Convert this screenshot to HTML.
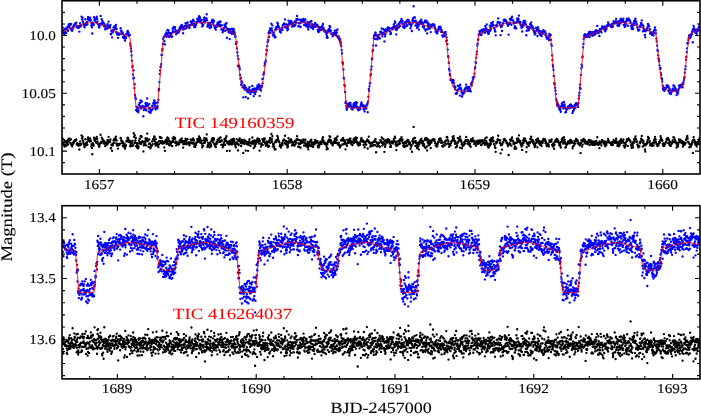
<!DOCTYPE html>
<html><head><meta charset="utf-8"><style>
html,body{margin:0;padding:0;background:#fff;overflow:hidden;width:701px;height:417px}
svg{display:block;will-change:transform}
text{font-family:"Liberation Serif",serif;text-rendering:geometricPrecision}
</style></head><body>
<svg width="701" height="417" viewBox="0 0 701 417">
<defs><clipPath id="c1"><rect x="62.0" y="0.75" width="638.0" height="173.25"/></clipPath>
<clipPath id="c2"><rect x="62.0" y="205.7" width="638.0" height="173.2"/></clipPath></defs>
<g clip-path="url(#c1)" fill="none" stroke-linecap="round">
<path stroke="#00f" stroke-width="2.35" d="M61 34.3h0M61.3 33.9h0M61.7 30.7h0M62 32.5h0M62.4 32.5h0M62.7 27.4h0M63.1 30.4h0M63.4 32.7h0M63.8 33.1h0M64.1 30.1h0M64.5 34.5h0M64.8 28.8h0M65.2 32.6h0M65.5 31.8h0M65.9 28.7h0M66.2 32.9h0M66.6 28h0M66.9 28.9h0M67.3 29.5h0M67.6 26.6h0M68 30.7h0M68.3 26.7h0M68.7 24.5h0M69 27.1h0M69.3 26.2h0M69.7 23.9h0M70 25.1h0M70.4 28.3h0M70.7 28.6h0M71.1 24.1h0M71.4 29.8h0M71.8 30.1h0M72.1 30.7h0M72.5 29.4h0M72.8 26.8h0M73.2 27.8h0M73.5 26.1h0M73.9 26.3h0M74.2 24.8h0M74.6 24.7h0M74.9 23.6h0M75.3 24.2h0M75.6 24.1h0M76 23.1h0M76.3 22.6h0M76.7 27.2h0M77 26.3h0M77.3 26h0M77.7 27.6h0M78 27.4h0M78.4 26.2h0M78.7 27.9h0M79.1 27.2h0M79.4 31.6h0M79.8 26h0M80.1 23.2h0M80.5 26.6h0M80.8 25.9h0M81.2 25.4h0M81.5 16.6h0M81.9 19.4h0M82.2 19.3h0M82.6 17.6h0M82.9 21.3h0M83.3 22.8h0M83.6 24.3h0M84 24.6h0M84.3 26.3h0M84.6 27.3h0M85 25.1h0M85.3 19.2h0M85.7 24.2h0M86 23.1h0M86.4 24.8h0M86.7 22.5h0M87.1 21.8h0M87.4 24.3h0M87.8 19h0M88.1 16.9h0M88.5 19.6h0M88.8 20.1h0M89.2 18.6h0M89.5 20h0M89.9 20.8h0M90.2 17.7h0M90.6 19.8h0M90.9 20.1h0M91.3 25.6h0M91.6 23.4h0M92 27.2h0M92.3 33.5h0M92.6 22.5h0M93 24.3h0M93.3 23.6h0M93.7 25h0M94 17.2h0M94.4 19.6h0M94.7 20.5h0M95.1 18.8h0M95.4 19.1h0M95.8 18.3h0M96.1 22.2h0M96.5 22.6h0M96.8 16.7h0M97.2 18.8h0M97.5 21.3h0M97.9 23.8h0M98.2 24.5h0M98.6 24.4h0M98.9 26.9h0M99.3 27.4h0M99.6 25.5h0M100 24.1h0M100.3 24h0M100.6 15.9h0M101 24.4h0M101.3 23.3h0M101.7 19.2h0M102 23.9h0M102.4 21h0M102.7 23.3h0M103.1 22.4h0M103.4 23h0M103.8 26h0M104.1 23.7h0M104.5 26.3h0M104.8 25.2h0M105.2 29.3h0M105.5 28.1h0M105.9 27.9h0M106.2 27.1h0M106.6 28.8h0M106.9 27.3h0M107.3 25.4h0M107.6 24.1h0M108 28h0M108.3 27h0M108.6 21.6h0M109 26.6h0M109.3 25.8h0M109.7 26.2h0M110 27.5h0M110.4 25h0M110.7 34h0M111.1 34.2h0M111.4 31h0M111.8 31.5h0M112.1 37.3h0M112.5 30.2h0M112.8 32.3h0M113.2 30.5h0M113.5 27.5h0M113.9 30.2h0M114.2 26.8h0M114.6 26.3h0M114.9 26.5h0M115.3 28.5h0M115.6 26.7h0M115.9 24.9h0M116.3 32h0M116.6 29h0M117 34.2h0M117.3 32.9h0M117.7 34.5h0M118 37.8h0M118.4 34.6h0M118.7 33.7h0M119.1 34.1h0M119.4 34.6h0M119.8 33.9h0M120.1 33.7h0M120.5 28.3h0M120.8 28.3h0M121.2 30.9h0M121.5 31h0M121.9 32.3h0M122.2 33.9h0M122.6 32.4h0M122.9 37h0M123.3 34.1h0M123.6 38.1h0M123.9 35.5h0M124.3 36.7h0M124.6 35.8h0M125 40.6h0M125.3 38.5h0M125.7 37.4h0M126 38h0M126.4 34h0M126.7 33.4h0M127.1 34.4h0M127.4 31.3h0M127.8 31h0M128.1 34.1h0M128.5 32.7h0M128.8 35.8h0M129.2 35.1h0M129.5 35.1h0M129.9 35h0M130.2 43.6h0M130.6 45.7h0M130.9 48.4h0M131.3 51.2h0M131.6 55.5h0M131.9 60.6h0M132.3 67.1h0M132.6 65.8h0M133 74.6h0M133.3 78.4h0M133.7 70.3h0M134 77.9h0M134.4 88.1h0M134.7 84.2h0M135.1 95h0M135.4 97.4h0M135.8 98.9h0M136.1 109.9h0M136.5 106.8h0M136.8 111.1h0M137.2 109h0M137.5 107.4h0M137.9 111.2h0M138.2 112.2h0M138.6 110.5h0M138.9 104.7h0M139.3 107.4h0M139.6 102.8h0M139.9 103.2h0M140.3 106.5h0M140.6 100.5h0M141 108.4h0M141.3 100.6h0M141.7 101.7h0M142 106.8h0M142.4 105.8h0M142.7 107h0M143.1 106.4h0M143.4 116.2h0M143.8 110.1h0M144.1 109.7h0M144.5 108.1h0M144.8 106.3h0M145.2 108.5h0M145.5 103.2h0M145.9 105.3h0M146.2 110.2h0M146.6 106.1h0M146.9 103.2h0M147.2 98.4h0M147.6 104.8h0M147.9 105.8h0M148.3 104.7h0M148.6 111.5h0M149 108.5h0M149.3 104.1h0M149.7 108h0M150 108.2h0M150.4 112.9h0M150.7 112h0M151.1 109.9h0M151.4 110.3h0M151.8 110.2h0M152.1 105.9h0M152.5 105.9h0M152.8 108.6h0M153.2 103.4h0M153.5 102.9h0M153.9 103.6h0M154.2 100.5h0M154.6 101h0M154.9 105.5h0M155.2 107.8h0M155.6 109.4h0M155.9 103h0M156.3 108.2h0M156.6 106.4h0M157 107.5h0M157.3 108.2h0M157.7 106.4h0M158 102.3h0M158.4 99.8h0M158.7 90.4h0M159.1 88.9h0M159.4 82.1h0M159.8 73.8h0M160.1 70.5h0M160.5 66.9h0M160.8 66.3h0M161.2 64.1h0M161.5 54.9h0M161.9 54.9h0M162.2 50.2h0M162.6 48.8h0M162.9 44h0M163.2 38.9h0M163.6 37.2h0M163.9 37.2h0M164.3 41.2h0M164.6 36.2h0M165 44.4h0M165.3 34.4h0M165.7 33.8h0M166 34.7h0M166.4 32.3h0M166.7 36.8h0M167.1 35.1h0M167.4 29.9h0M167.8 33.3h0M168.1 35.6h0M168.5 30.5h0M168.8 32.7h0M169.2 37.1h0M169.5 32.9h0M169.9 36.3h0M170.2 35h0M170.6 35.5h0M170.9 32.8h0M171.2 34.4h0M171.6 33h0M171.9 36.7h0M172.3 36.6h0M172.6 28.7h0M173 30.9h0M173.3 31.8h0M173.7 26.8h0M174 27.8h0M174.4 28.1h0M174.7 28.6h0M175.1 27.2h0M175.4 32h0M175.8 30.5h0M176.1 34.3h0M176.5 31.8h0M176.8 31.3h0M177.2 32.9h0M177.5 32.6h0M177.9 30.6h0M178.2 31.8h0M178.5 32.5h0M178.9 30h0M179.2 31.2h0M179.6 27.6h0M179.9 29.4h0M180.3 27.3h0M180.6 26.6h0M181 28.1h0M181.3 25.4h0M181.7 24.8h0M182 28.3h0M182.4 28.2h0M182.7 26.6h0M183.1 33.2h0M183.4 29.6h0M183.8 27h0M184.1 29.1h0M184.5 28.6h0M184.8 26h0M185.2 25.6h0M185.5 23.1h0M185.9 25.4h0M186.2 28.4h0M186.5 26.6h0M186.9 26.4h0M187.2 23.2h0M187.6 22.5h0M187.9 26.8h0M188.3 26h0M188.6 25.4h0M189 25.4h0M189.3 28h0M189.7 27.3h0M190 24.8h0M190.4 25.1h0M190.7 21.4h0M191.1 22.1h0M191.4 24.5h0M191.8 21.7h0M192.1 21.3h0M192.5 24.9h0M192.8 23.9h0M193.2 19.6h0M193.5 20.8h0M193.9 21.2h0M194.2 27.1h0M194.5 24.7h0M194.9 23.7h0M195.2 27.1h0M195.6 25.3h0M195.9 25h0M196.3 23.4h0M196.6 22h0M197 22.1h0M197.3 19h0M197.7 20.8h0M198 19.9h0M198.4 18.4h0M198.7 19h0M199.1 16.2h0M199.4 21.5h0M199.8 19.1h0M200.1 17.4h0M200.5 21.9h0M200.8 22.2h0M201.2 20.8h0M201.5 19.8h0M201.9 22.9h0M202.2 26.4h0M202.5 24.8h0M202.9 25.3h0M203.2 24.9h0M203.6 19.6h0M203.9 22.2h0M204.3 17.4h0M204.6 22.4h0M205 20.5h0M205.3 21.1h0M205.7 19h0M206 19h0M206.4 18.2h0M206.7 14.2h0M207.1 20.1h0M207.4 26.6h0M207.8 24.9h0M208.1 22.8h0M208.5 24.7h0M208.8 25.5h0M209.2 23.8h0M209.5 27.8h0M209.8 25.4h0M210.2 23.2h0M210.5 24.5h0M210.9 25.3h0M211.2 27.2h0M211.6 21.9h0M211.9 20.6h0M212.3 22.1h0M212.6 19.6h0M213 19.8h0M213.3 24.2h0M213.7 21.8h0M214 20.8h0M214.4 26.2h0M214.7 26.9h0M215.1 28.6h0M215.4 26.7h0M215.8 29.6h0M216.1 27.1h0M216.5 25.1h0M216.8 26.3h0M217.2 26.5h0M217.5 23h0M217.8 24.1h0M218.2 24.3h0M218.5 22.4h0M218.9 23.2h0M219.2 25.5h0M219.6 21.7h0M219.9 24.6h0M220.3 25.9h0M220.6 21.7h0M221 25.3h0M221.3 29.3h0M221.7 29.3h0M222 25.3h0M222.4 29.9h0M222.7 32.3h0M223.1 31.1h0M223.4 30.4h0M223.8 28.1h0M224.1 27.8h0M224.5 24.7h0M224.8 26.5h0M225.2 30.7h0M225.5 25.9h0M225.8 24.1h0M226.2 27.4h0M226.5 22.9h0M226.9 37.7h0M227.2 29.9h0M227.6 29h0M227.9 29.7h0M228.3 30.5h0M228.6 32.1h0M229 32.3h0M229.3 29.2h0M229.7 39.1h0M230 31.2h0M230.4 29.3h0M230.7 32.8h0M231.1 31.9h0M231.4 28.8h0M231.8 33.7h0M232.1 31.8h0M232.5 29h0M232.8 30.6h0M233.2 33.5h0M233.5 29h0M233.8 29.2h0M234.2 31.4h0M234.5 32.6h0M234.9 34.5h0M235.2 36.8h0M235.6 36.5h0M235.9 43.8h0M236.3 43.6h0M236.6 41.9h0M237 48.4h0M237.3 52.4h0M237.7 55.8h0M238 65.7h0M238.4 58.9h0M238.7 66.6h0M239.1 65.6h0M239.4 66.9h0M239.8 69.2h0M240.1 75h0M240.5 79.1h0M240.8 78h0M241.1 84.7h0M241.5 82.2h0M241.8 81.3h0M242.2 82.8h0M242.5 87.2h0M242.9 86.6h0M243.2 97.3h0M243.6 85.4h0M243.9 87.8h0M244.3 85.2h0M244.6 89.6h0M245 86.5h0M245.3 86.9h0M245.7 97h0M246 87.9h0M246.4 89.8h0M246.7 89.2h0M247.1 91.6h0M247.4 91h0M247.8 90.2h0M248.1 98.4h0M248.5 92.4h0M248.8 89.2h0M249.1 90.4h0M249.5 87.2h0M249.8 90.3h0M250.2 91.2h0M250.5 94h0M250.9 90.8h0M251.2 91h0M251.6 91.9h0M251.9 90.8h0M252.3 85.9h0M252.6 89.2h0M253 91.3h0M253.3 91.7h0M253.7 96.1h0M254 90.1h0M254.4 88.3h0M254.7 93.3h0M255.1 94h0M255.4 90.2h0M255.8 91.7h0M256.1 88.8h0M256.5 88.8h0M256.8 87.3h0M257.1 89.4h0M257.5 85.3h0M257.8 87h0M258.2 88.4h0M258.5 86.7h0M258.9 84.5h0M259.2 89h0M259.6 95.8h0M259.9 85.6h0M260.3 88.1h0M260.6 88h0M261 90.5h0M261.3 87.2h0M261.7 86.9h0M262 86h0M262.4 79h0M262.7 83.3h0M263.1 78.6h0M263.4 74.5h0M263.8 73.9h0M264.1 72.3h0M264.5 65.6h0M264.8 63h0M265.1 64.1h0M265.5 62h0M265.8 60.4h0M266.2 54.3h0M266.5 50h0M266.9 50.5h0M267.2 46.1h0M267.6 41.9h0M267.9 41.5h0M268.3 39.8h0M268.6 32.8h0M269 36.9h0M269.3 31.2h0M269.7 30.6h0M270 28.3h0M270.4 32.9h0M270.7 29.5h0M271.1 29.4h0M271.4 23.7h0M271.8 28.5h0M272.1 30.7h0M272.4 25.3h0M272.8 35.3h0M273.1 32.8h0M273.5 34.8h0M273.8 32.4h0M274.2 34.9h0M274.5 36.8h0M274.9 37.5h0M275.2 29.7h0M275.6 36.8h0M275.9 27.7h0M276.3 29.2h0M276.6 27.1h0M277 26.7h0M277.3 22.7h0M277.7 25.6h0M278 23.8h0M278.4 26h0M278.7 27.4h0M279.1 27.6h0M279.4 27.9h0M279.8 31.6h0M280.1 30h0M280.4 30.9h0M280.8 32.6h0M281.1 29.7h0M281.5 29.6h0M281.8 30.1h0M282.2 27.5h0M282.5 29.6h0M282.9 24.9h0M283.2 24.9h0M283.6 24.3h0M283.9 23.5h0M284.3 23.8h0M284.6 27h0M285 19.4h0M285.3 26.8h0M285.7 24.3h0M286 27.2h0M286.4 24.3h0M286.7 28.1h0M287.1 24.7h0M287.4 30.2h0M287.8 27h0M288.1 29.1h0M288.4 20.6h0M288.8 25h0M289.1 23.7h0M289.5 22.6h0M289.8 21.9h0M290.2 21.5h0M290.5 23.9h0M290.9 21h0M291.2 21.1h0M291.6 22.7h0M291.9 26.6h0M292.3 23.7h0M292.6 25.8h0M293 23.3h0M293.3 25h0M293.7 24.8h0M294 26.2h0M294.4 25.9h0M294.7 21.5h0M295.1 22h0M295.4 24.7h0M295.8 21.4h0M296.1 22.7h0M296.4 19.1h0M296.8 19.6h0M297.1 15.9h0M297.5 18.9h0M297.8 19.6h0M298.2 26.3h0M298.5 22.8h0M298.9 23.2h0M299.2 26.2h0M299.6 19.6h0M299.9 23.2h0M300.3 23h0M300.6 27h0M301 21.5h0M301.3 19.6h0M301.7 22.2h0M302 21.2h0M302.4 21.2h0M302.7 21.1h0M303.1 21.7h0M303.4 19h0M303.7 19.4h0M304.1 25.1h0M304.4 19.7h0M304.8 22.5h0M305.1 20.1h0M305.5 19.3h0M305.8 25h0M306.2 24h0M306.5 26.4h0M306.9 25.9h0M307.2 24.2h0M307.6 21.9h0M307.9 27.2h0M308.3 29.4h0M308.6 26.3h0M309 23.1h0M309.3 24.7h0M309.7 22.7h0M310 22.6h0M310.4 21.6h0M310.7 27.2h0M311.1 21.5h0M311.4 21h0M311.7 25.4h0M312.1 24.2h0M312.4 28h0M312.8 26.1h0M313.1 29h0M313.5 26.9h0M313.8 24.9h0M314.2 25.4h0M314.5 26.9h0M314.9 24.3h0M315.2 22.9h0M315.6 23.8h0M315.9 25.1h0M316.3 26.4h0M316.6 25h0M317 26.3h0M317.3 25h0M317.7 29.8h0M318 31.4h0M318.4 26.7h0M318.7 32h0M319.1 29.2h0M319.4 30.5h0M319.7 29.4h0M320.1 28.6h0M320.4 27.1h0M320.8 28.2h0M321.1 28.6h0M321.5 30h0M321.8 28.5h0M322.2 26.2h0M322.5 25.5h0M322.9 23.9h0M323.2 28.5h0M323.6 27.9h0M323.9 29.7h0M324.3 30.9h0M324.6 31.5h0M325 31.2h0M325.3 30.9h0M325.7 30.9h0M326 32h0M326.4 34.2h0M326.7 37.6h0M327.1 36.2h0M327.4 32.8h0M327.7 37.8h0M328.1 31.1h0M328.4 29.6h0M328.8 29.8h0M329.1 29h0M329.5 25.8h0M329.8 31.4h0M330.2 26.9h0M330.5 30h0M330.9 31.1h0M331.2 33.8h0M331.6 33.5h0M331.9 33.9h0M332.3 33.8h0M332.6 36.3h0M333 35.4h0M333.3 34.5h0M333.7 33h0M334 33.3h0M334.4 34.6h0M334.7 30.6h0M335 33.2h0M335.4 32.6h0M335.7 34.3h0M336.1 35.4h0M336.4 30.4h0M336.8 32.6h0M337.1 35.9h0M337.5 29.4h0M337.8 37.6h0M338.2 36.7h0M338.5 37.4h0M338.9 36.3h0M339.2 39h0M339.6 40.1h0M339.9 41.5h0M340.3 39.5h0M340.6 44.1h0M341 42.3h0M341.3 46.1h0M341.7 50.2h0M342 53.2h0M342.4 62.4h0M342.7 62.4h0M343 63.7h0M343.4 69.5h0M343.7 77.9h0M344.1 78.5h0M344.4 85h0M344.8 86.1h0M345.1 92h0M345.5 102.9h0M345.8 101.3h0M346.2 105.8h0M346.5 108.5h0M346.9 109.7h0M347.2 103.7h0M347.6 106.5h0M347.9 107.1h0M348.3 105.6h0M348.6 106.8h0M349 105.3h0M349.3 103.5h0M349.7 102.9h0M350 106.5h0M350.4 102.9h0M350.7 105.1h0M351 106.6h0M351.4 108.5h0M351.7 107.4h0M352.1 106.6h0M352.4 109.6h0M352.8 106.4h0M353.1 106.9h0M353.5 104.2h0M353.8 107.8h0M354.2 107.1h0M354.5 103h0M354.9 105.4h0M355.2 106.5h0M355.6 104h0M355.9 102.1h0M356.3 105.2h0M356.6 106.9h0M357 102.8h0M357.3 108.4h0M357.7 107.2h0M358 109.5h0M358.4 110.3h0M358.7 110.1h0M359 108.9h0M359.4 109.6h0M359.7 108h0M360.1 109.2h0M360.4 106.5h0M360.8 105.5h0M361.1 103.9h0M361.5 102.5h0M361.8 105.3h0M362.2 104.5h0M362.5 105h0M362.9 104.9h0M363.2 106.5h0M363.6 109.2h0M363.9 105.7h0M364.3 108.6h0M364.6 111.4h0M365 106.1h0M365.3 106.9h0M365.7 108.5h0M366 105.8h0M366.3 108.5h0M366.7 104.8h0M367 104.6h0M367.4 103.1h0M367.7 112.2h0M368.1 101.3h0M368.4 96.7h0M368.8 88.8h0M369.1 90.8h0M369.5 86.3h0M369.8 83.4h0M370.2 82.8h0M370.5 75.4h0M370.9 74.2h0M371.2 69.5h0M371.6 66.5h0M371.9 59.2h0M372.3 58.3h0M372.6 51.3h0M373 50h0M373.3 45.4h0M373.7 38.2h0M374 36.1h0M374.3 35.4h0M374.7 34.6h0M375 38.9h0M375.4 32.7h0M375.7 32.7h0M376.1 45.5h0M376.4 35.2h0M376.8 36.1h0M377.1 39.3h0M377.5 38.9h0M377.8 37.7h0M378.2 37.5h0M378.5 35.2h0M378.9 38.1h0M379.2 38h0M379.6 34.4h0M379.9 38.4h0M380.3 31.6h0M380.6 31.9h0M381 31.6h0M381.3 32.6h0M381.7 28.4h0M382 33.6h0M382.3 36.2h0M382.7 32.9h0M383 34.1h0M383.4 29.2h0M383.7 32.7h0M384.1 33.9h0M384.4 41.5h0M384.8 30.5h0M385.1 36.2h0M385.5 34.1h0M385.8 29.3h0M386.2 31.5h0M386.5 30.8h0M386.9 31.5h0M387.2 30.1h0M387.6 27.8h0M387.9 27.5h0M388.3 28.3h0M388.6 29.8h0M389 27.8h0M389.3 28.1h0M389.7 30.9h0M390 30.8h0M390.3 34.1h0M390.7 32.5h0M391 33.5h0M391.4 28.3h0M391.7 28.9h0M392.1 28h0M392.4 28.5h0M392.8 29.3h0M393.1 27.2h0M393.5 27.5h0M393.8 24.4h0M394.2 26.7h0M394.5 26.1h0M394.9 21.5h0M395.2 22.8h0M395.6 29.2h0M395.9 27.1h0M396.3 34.3h0M396.6 30.1h0M397 25.4h0M397.3 28.4h0M397.6 28.2h0M398 27.7h0M398.3 27.6h0M398.7 23.7h0M399 27h0M399.4 24.8h0M399.7 22.4h0M400.1 26h0M400.4 21.6h0M400.8 22.6h0M401.1 20.6h0M401.5 19h0M401.8 21h0M402.2 22.7h0M402.5 21h0M402.9 24.2h0M403.2 26.9h0M403.6 26.6h0M403.9 24.4h0M404.3 27.9h0M404.6 26.6h0M405 22.4h0M405.3 22.5h0M405.6 26.5h0M406 23.4h0M406.3 22.8h0M406.7 20.8h0M407 25.4h0M407.4 25.5h0M407.7 19.8h0M408.1 21.4h0M408.4 19.8h0M408.8 21.5h0M409.1 23.5h0M409.5 23.7h0M409.8 22.1h0M410.2 23.7h0M410.5 28.2h0M410.9 25.2h0M411.2 26h0M411.6 24.4h0M411.9 31h0M412.3 20.6h0M412.6 20.2h0M413 18.4h0M413.3 22.5h0M413.6 6.2h0M414 21.3h0M414.3 17.3h0M414.7 21h0M415 17.4h0M415.4 25.4h0M415.7 20.7h0M416.1 22.5h0M416.4 25.7h0M416.8 22.9h0M417.1 27.9h0M417.5 23.9h0M417.8 26.9h0M418.2 22.6h0M418.5 26h0M418.9 29.6h0M419.2 22.6h0M419.6 24.1h0M419.9 21.6h0M420.3 20.8h0M420.6 21.5h0M421 22.6h0M421.3 19.7h0M421.6 22.2h0M422 24.1h0M422.3 22.2h0M422.7 26.8h0M423 23.3h0M423.4 25.8h0M423.7 25.6h0M424.1 26.3h0M424.4 28.6h0M424.8 22.1h0M425.1 20.7h0M425.5 30.5h0M425.8 22.4h0M426.2 22.2h0M426.5 20.7h0M426.9 29.3h0M427.2 33.4h0M427.6 25.3h0M427.9 22.7h0M428.3 26.9h0M428.6 24.8h0M428.9 28.8h0M429.3 27.3h0M429.6 24.3h0M430 28.2h0M430.3 27h0M430.7 32.1h0M431 25.8h0M431.4 26.9h0M431.7 25.4h0M432.1 24.7h0M432.4 24.3h0M432.8 25h0M433.1 25.4h0M433.5 24.2h0M433.8 24.8h0M434.2 25.8h0M434.5 25.2h0M434.9 27.3h0M435.2 28.8h0M435.6 31.4h0M435.9 31.7h0M436.3 32h0M436.6 33.1h0M436.9 30.4h0M437.3 33.2h0M437.6 31.3h0M438 29.9h0M438.3 28.7h0M438.7 29.6h0M439 26.9h0M439.4 28.3h0M439.7 26.7h0M440.1 26.6h0M440.4 28.5h0M440.8 27.4h0M441.1 31.7h0M441.5 29.9h0M441.8 31.5h0M442.2 35.3h0M442.5 32.1h0M442.9 36.5h0M443.2 35.6h0M443.6 35.6h0M443.9 35.4h0M444.3 33h0M444.6 36.1h0M444.9 33.3h0M445.3 32.6h0M445.6 32h0M446 34.4h0M446.3 41.2h0M446.7 37.3h0M447 40.3h0M447.4 44.1h0M447.7 49.6h0M448.1 56.2h0M448.4 57h0M448.8 62.7h0M449.1 68.9h0M449.5 70.5h0M449.8 73.9h0M450.2 75.6h0M450.5 80h0M450.9 79.5h0M451.2 79.5h0M451.6 80h0M451.9 81.3h0M452.3 82.5h0M452.6 79.8h0M452.9 82.7h0M453.3 80.6h0M453.6 80.5h0M454 83.1h0M454.3 85.6h0M454.7 87h0M455 89.3h0M455.4 87.2h0M455.7 93.5h0M456.1 93.5h0M456.4 93.7h0M456.8 90.3h0M457.1 93h0M457.5 90.8h0M457.8 85.6h0M458.2 89.3h0M458.5 85.9h0M458.9 89h0M459.2 88.3h0M459.6 87.7h0M459.9 95.6h0M460.2 84.7h0M460.6 87.6h0M460.9 88.6h0M461.3 89.7h0M461.6 92.6h0M462 96.6h0M462.3 91.6h0M462.7 94.4h0M463 93.6h0M463.4 93.4h0M463.7 92.8h0M464.1 92.8h0M464.4 89.9h0M464.8 89.2h0M465.1 91.3h0M465.5 88.1h0M465.8 87.5h0M466.2 84.6h0M466.5 87.9h0M466.9 88.4h0M467.2 88.4h0M467.6 90.7h0M467.9 86.8h0M468.2 90.7h0M468.6 87.3h0M468.9 88.4h0M469.3 87h0M469.6 90.8h0M470 89h0M470.3 90.9h0M470.7 91.4h0M471 83.6h0M471.4 84.9h0M471.7 85.2h0M472.1 82.2h0M472.4 81.4h0M472.8 77.7h0M473.1 79h0M473.5 77.2h0M473.8 77h0M474.2 76.9h0M474.5 73.6h0M474.9 68.4h0M475.2 67.1h0M475.6 62.1h0M475.9 63.1h0M476.2 57.6h0M476.6 54.3h0M476.9 51.6h0M477.3 45.5h0M477.6 43.6h0M478 39.7h0M478.3 39.5h0M478.7 35.1h0M479 34.1h0M479.4 31.4h0M479.7 31.5h0M480.1 33.1h0M480.4 30.9h0M480.8 30.9h0M481.1 34.9h0M481.5 34.9h0M481.8 29.7h0M482.2 30.8h0M482.5 32.4h0M482.9 32h0M483.2 31h0M483.6 31.8h0M483.9 29.1h0M484.2 31.4h0M484.6 31.6h0M484.9 32.7h0M485.3 26.2h0M485.6 30.6h0M486 28.4h0M486.3 28.4h0M486.7 24.5h0M487 31.2h0M487.4 29.9h0M487.7 32.1h0M488.1 33.2h0M488.4 33.9h0M488.8 33.5h0M489.1 31.6h0M489.5 29.9h0M489.8 25.6h0M490.2 30.7h0M490.5 27.2h0M490.9 29.2h0M491.2 23.1h0M491.5 25.1h0M491.9 24.7h0M492.2 26.1h0M492.6 23h0M492.9 21.8h0M493.3 24.9h0M493.6 25.4h0M494 28.1h0M494.3 28.3h0M494.7 29.4h0M495 31.2h0M495.4 31.6h0M495.7 35.3h0M496.1 25.4h0M496.4 26.5h0M496.8 25h0M497.1 25.4h0M497.5 22.7h0M497.8 22h0M498.2 18.4h0M498.5 22.2h0M498.9 22.3h0M499.2 22.6h0M499.5 22.7h0M499.9 25.1h0M500.2 22.3h0M500.6 35.1h0M500.9 27.1h0M501.3 26h0M501.6 26.5h0M502 31h0M502.3 25.5h0M502.7 23.6h0M503 23.2h0M503.4 23.3h0M503.7 20.2h0M504.1 20.8h0M504.4 19.5h0M504.8 19.8h0M505.1 20.7h0M505.5 20.8h0M505.8 20.4h0M506.2 21.2h0M506.5 22.8h0M506.9 22.2h0M507.2 23.4h0M507.5 24.1h0M507.9 25.8h0M508.2 24.3h0M508.6 34.6h0M508.9 22.8h0M509.3 24h0M509.6 22.6h0M510 19h0M510.3 22.9h0M510.7 20h0M511 19.6h0M511.4 24.8h0M511.7 17.5h0M512.1 16.8h0M512.4 19.7h0M512.8 20.2h0M513.1 20.7h0M513.5 23.1h0M513.8 23.4h0M514.2 22.3h0M514.5 28h0M514.9 26.1h0M515.2 22.6h0M515.5 27.2h0M515.9 22.8h0M516.2 28.4h0M516.6 22.4h0M516.9 18.6h0M517.3 20.7h0M517.6 21.7h0M518 18.4h0M518.3 19.1h0M518.7 19.5h0M519 15.6h0M519.4 22.1h0M519.7 21.9h0M520.1 23.5h0M520.4 21.8h0M520.8 25.6h0M521.1 24.6h0M521.5 27.8h0M521.8 26.2h0M522.2 31.5h0M522.5 27h0M522.8 24.6h0M523.2 22.5h0M523.5 25.2h0M523.9 20.7h0M524.2 23h0M524.6 21h0M524.9 21.9h0M525.3 21.7h0M525.6 24.3h0M526 24.4h0M526.3 35.2h0M526.7 30.7h0M527 27h0M527.4 26.4h0M527.7 28h0M528.1 28.2h0M528.4 29.4h0M528.8 30.2h0M529.1 26.8h0M529.5 27.2h0M529.8 28.2h0M530.2 24.2h0M530.5 24h0M530.8 24.8h0M531.2 22.4h0M531.5 27.1h0M531.9 25.7h0M532.2 27.2h0M532.6 28.5h0M532.9 27.1h0M533.3 29.9h0M533.6 28.6h0M534 31.4h0M534.3 32.2h0M534.7 34.4h0M535 32h0M535.4 33.4h0M535.7 30.9h0M536.1 28h0M536.4 30.6h0M536.8 29.1h0M537.1 27.8h0M537.5 36h0M537.8 27.2h0M538.2 28.6h0M538.5 30.8h0M538.8 32.5h0M539.2 30.6h0M539.5 32.9h0M539.9 33.4h0M540.2 34.7h0M540.6 33.9h0M540.9 31.5h0M541.3 33.8h0M541.6 36.1h0M542 32.4h0M542.3 32.7h0M542.7 33.6h0M543 31.6h0M543.4 30.1h0M543.7 31.5h0M544.1 31.3h0M544.4 30.8h0M544.8 32.3h0M545.1 31.3h0M545.5 34.9h0M545.8 33.3h0M546.2 35.4h0M546.5 37.5h0M546.8 38.6h0M547.2 38.5h0M547.5 37.8h0M547.9 36.8h0M548.2 37.9h0M548.6 37.9h0M548.9 40h0M549.3 33.9h0M549.6 35.5h0M550 35.8h0M550.3 34.8h0M550.7 34.9h0M551 39.8h0M551.4 44.3h0M551.7 45.9h0M552.1 55.4h0M552.4 59.9h0M552.8 65.1h0M553.1 66.8h0M553.5 69.7h0M553.8 75.9h0M554.1 83.1h0M554.5 83.1h0M554.8 84.6h0M555.2 87.8h0M555.5 90.7h0M555.9 94.1h0M556.2 99.1h0M556.6 101h0M556.9 104h0M557.3 105.5h0M557.6 103.2h0M558 104.8h0M558.3 104.8h0M558.7 106.2h0M559 107.7h0M559.4 109h0M559.7 109.7h0M560.1 107.8h0M560.4 109.6h0M560.8 111.7h0M561.1 106.3h0M561.5 105.9h0M561.8 103.8h0M562.1 105.9h0M562.5 102.7h0M562.8 105.1h0M563.2 108.3h0M563.5 107.2h0M563.9 101.9h0M564.2 107.9h0M564.6 104.5h0M564.9 106.6h0M565.3 112.4h0M565.6 108.4h0M566 111.9h0M566.3 109.5h0M566.7 109.6h0M567 109.1h0M567.4 107.9h0M567.7 107.5h0M568.1 106.3h0M568.4 108.2h0M568.8 106.1h0M569.1 106.6h0M569.5 105.7h0M569.8 108.1h0M570.1 104.7h0M570.5 105.9h0M570.8 104.5h0M571.2 107.5h0M571.5 106.2h0M571.9 107.2h0M572.2 105.9h0M572.6 112.9h0M572.9 111h0M573.3 110.7h0M573.6 107.2h0M574 109.7h0M574.3 107h0M574.7 105h0M575 104.9h0M575.4 107.7h0M575.7 104.9h0M576.1 103.1h0M576.4 104.9h0M576.8 104.7h0M577.1 103.8h0M577.5 105.2h0M577.8 104.4h0M578.1 106.9h0M578.5 102.9h0M578.8 98.4h0M579.2 95.5h0M579.5 92.7h0M579.9 87.6h0M580.2 84.5h0M580.6 88.7h0M580.9 74.8h0M581.3 68.2h0M581.6 64.6h0M582 66.4h0M582.3 57.3h0M582.7 56.5h0M583 47.3h0M583.4 43.9h0M583.7 38.8h0M584.1 36.3h0M584.4 35h0M584.8 36.6h0M585.1 34.1h0M585.4 37.1h0M585.8 37h0M586.1 36.4h0M586.5 35.1h0M586.8 35.3h0M587.2 36.2h0M587.5 36.8h0M587.9 35.9h0M588.2 33.8h0M588.6 34.7h0M588.9 32.2h0M589.3 34.3h0M589.6 37h0M590 31.9h0M590.3 34.1h0M590.7 31.9h0M591 33h0M591.4 33.9h0M591.7 35.1h0M592.1 33.7h0M592.4 35.7h0M592.8 32.1h0M593.1 33.5h0M593.4 33.6h0M593.8 33.4h0M594.1 32.6h0M594.5 34.9h0M594.8 31.3h0M595.2 32.8h0M595.5 31.6h0M595.9 33.5h0M596.2 30.1h0M596.6 31.4h0M596.9 31.2h0M597.3 25.9h0M597.6 31.2h0M598 32.3h0M598.3 33.1h0M598.7 32.7h0M599 30.8h0M599.4 36h0M599.7 29.2h0M600.1 29.3h0M600.4 30.8h0M600.8 30.5h0M601.1 28.7h0M601.4 32.2h0M601.8 28.4h0M602.1 26.3h0M602.5 26.7h0M602.8 27.5h0M603.2 28.1h0M603.5 27.7h0M603.9 29h0M604.2 27h0M604.6 29.7h0M604.9 26.5h0M605.3 31.2h0M605.6 28.2h0M606 29.3h0M606.3 29.3h0M606.7 27.5h0M607 26.2h0M607.4 25.1h0M607.7 24.9h0M608.1 22.3h0M608.4 23.7h0M608.8 25.3h0M609.1 24.5h0M609.4 25.4h0M609.8 25.6h0M610.1 25.8h0M610.5 25.3h0M610.8 25.7h0M611.2 27.1h0M611.5 25.4h0M611.9 24h0M612.2 26.9h0M612.6 25.4h0M612.9 26.4h0M613.3 23.3h0M613.6 21.1h0M614 22.5h0M614.3 21.9h0M614.7 22.6h0M615 23.3h0M615.4 21.3h0M615.7 22h0M616.1 18.8h0M616.4 21.5h0M616.7 22.8h0M617.1 23h0M617.4 25.6h0M617.8 24.2h0M618.1 24.7h0M618.5 21.5h0M618.8 25.9h0M619.2 23h0M619.5 24.6h0M619.9 20.4h0M620.2 20.6h0M620.6 22.8h0M620.9 18.6h0M621.3 20h0M621.6 22.2h0M622 21.7h0M622.3 19.9h0M622.7 21.5h0M623 20.2h0M623.4 18.6h0M623.7 24.8h0M624.1 22h0M624.4 25h0M624.7 26.9h0M625.1 22.4h0M625.4 25.7h0M625.8 23.9h0M626.1 21.4h0M626.5 21h0M626.8 19h0M627.2 20.1h0M627.5 20h0M627.9 25.7h0M628.2 19h0M628.6 18.5h0M628.9 20h0M629.3 19.9h0M629.6 20.5h0M630 20.7h0M630.3 21.4h0M630.7 23.1h0M631 25.9h0M631.4 26.4h0M631.7 28.8h0M632.1 28.1h0M632.4 24.7h0M632.7 26.7h0M633.1 29h0M633.4 23.2h0M633.8 24.7h0M634.1 21h0M634.5 23.4h0M634.8 21.5h0M635.2 20.3h0M635.5 18.6h0M635.9 21.5h0M636.2 21.7h0M636.6 24.5h0M636.9 24.2h0M637.3 27.5h0M637.6 27.3h0M638 29.7h0M638.3 30.6h0M638.7 29.8h0M639 29.9h0M639.4 30h0M639.7 26.1h0M640.1 27h0M640.4 25.3h0M640.7 26.2h0M641.1 22.9h0M641.4 24.1h0M641.8 20.3h0M642.1 24.9h0M642.5 24.6h0M642.8 31.3h0M643.2 27.8h0M643.5 26.1h0M643.9 28.9h0M644.2 30.5h0M644.6 30.7h0M644.9 35h0M645.3 37.3h0M645.6 31.2h0M646 30.1h0M646.3 29.6h0M646.7 30.3h0M647 30.1h0M647.4 28.1h0M647.7 26.7h0M648 23.9h0M648.4 25.2h0M648.7 25.3h0M649.1 26.2h0M649.4 30.4h0M649.8 29.2h0M650.1 33.4h0M650.5 32.8h0M650.8 33.4h0M651.2 34.1h0M651.5 32.5h0M651.9 33.8h0M652.2 35.1h0M652.6 34.1h0M652.9 32.4h0M653.3 32.2h0M653.6 35.3h0M654 30.3h0M654.3 32.8h0M654.7 29.6h0M655 27.4h0M655.4 29.9h0M655.7 30.5h0M656 33.3h0M656.4 38.6h0M656.7 41.3h0M657.1 45.6h0M657.4 49.9h0M657.8 51h0M658.1 55.3h0M658.5 58.5h0M658.8 59.8h0M659.2 61.3h0M659.5 65.3h0M659.9 68.1h0M660.2 68.9h0M660.6 68h0M660.9 73.1h0M661.3 75.1h0M661.6 78.1h0M662 78.9h0M662.3 81.3h0M662.7 85.6h0M663 88.4h0M663.4 90h0M663.7 87.4h0M664 87.8h0M664.4 90.7h0M664.7 88.6h0M665.1 89.3h0M665.4 88.5h0M665.8 88.3h0M666.1 87.9h0M666.5 85.5h0M666.8 85.7h0M667.2 86.8h0M667.5 86.9h0M667.9 85.4h0M668.2 90.6h0M668.6 86.8h0M668.9 91.2h0M669.3 88.4h0M669.6 92.9h0M670 89.7h0M670.3 93.9h0M670.7 93h0M671 93.7h0M671.4 91.2h0M671.7 92h0M672 91.2h0M672.4 90.4h0M672.7 88.6h0M673.1 90.5h0M673.4 85.5h0M673.8 85.6h0M674.1 85.7h0M674.5 90.1h0M674.8 87.4h0M675.2 88.3h0M675.5 89.1h0M675.9 90.5h0M676.2 91.3h0M676.6 95.1h0M676.9 90.3h0M677.3 93h0M677.6 92.1h0M678 93.4h0M678.3 90.8h0M678.7 88.9h0M679 85.7h0M679.3 86.6h0M679.7 86.3h0M680 87.1h0M680.4 84.8h0M680.7 85.2h0M681.1 85.1h0M681.4 87h0M681.8 86.9h0M682.1 85.9h0M682.5 83.4h0M682.8 87.3h0M683.2 84.4h0M683.5 82.2h0M683.9 80h0M684.2 77.8h0M684.6 77.2h0M684.9 72.6h0M685.3 69.2h0M685.6 66.3h0M686 59.6h0M686.3 56.9h0M686.7 52.1h0M687 48.3h0M687.3 43.4h0M687.7 42.8h0M688 43h0M688.4 40h0M688.7 37.7h0M689.1 35.4h0M689.4 38.1h0M689.8 37.9h0M690.1 35.1h0M690.5 35.3h0M690.8 37h0M691.2 35h0M691.5 33.8h0M691.9 34.1h0M692.2 32h0M692.6 30.2h0M692.9 42.2h0M693.3 28.8h0M693.6 26h0M694 28.3h0M694.3 28.5h0M694.7 31.1h0M695 29.9h0M695.3 32.5h0M695.7 31.7h0M696 30.2h0M696.4 31.9h0M696.7 33.7h0M697.1 31.3h0M697.4 29.2h0M697.8 29.8h0M698.1 30.5h0M698.5 29.9h0M698.8 27.2h0M699.2 26.6h0M699.5 24.4h0M699.9 29.7h0M700.2 23.8h0M700.6 27.2h0M700.9 25.3h0"/>
<path stroke="#f00" stroke-width="0.9" stroke-linecap="butt" stroke-linejoin="round" d="M60 33.4L60.5 33.1L61 32.9L61.5 32.6L62 32.4L62.5 32.1L63 31.9L63.5 31.6L64 31.4L64.5 31.1L65 30.9L65.5 30.6L66 30.4L66.5 30.1L67 29.9L67.5 29.6L68 29.4L68.5 29.1L69 28.9L69.5 28.6L70 28.4L70.5 28.2L71 28.1L71.5 27.9L72 27.7L72.5 27.6L73 27.4L73.5 27.2L74 27.1L74.5 26.9L75 26.7L75.5 26.5L76 26.4L76.5 26.2L77 26L77.5 25.9L78 25.7L78.5 25.5L79 25.4L79.5 25.2L80 25L80.5 24.9L81 24.7L81.5 24.5L82 24.4L82.5 24.2L83 24L83.5 23.8L84 23.7L84.5 23.5L85 23.3L85.5 23.2L86 23.1L86.5 23L87 22.9L87.5 22.9L88 22.8L88.5 22.7L89 22.6L89.5 22.6L90 22.5L90.5 22.4L91 22.4L91.5 22.5L92 22.5L92.5 22.6L93 22.7L93.5 22.7L94 22.8L94.5 22.8L95 22.9L95.5 22.9L96 23L96.5 23.1L97 23.1L97.5 23.2L98 23.3L98.5 23.5L99 23.7L99.5 24L100 24.2L100.5 24.4L101 24.6L101.5 24.8L102 25L102.5 25.2L103 25.4L103.5 25.6L104 25.9L104.5 26.1L105 26.3L105.5 26.5L106 26.7L106.5 26.9L107 27.1L107.5 27.4L108 27.6L108.5 27.9L109 28.1L109.5 28.4L110 28.6L110.5 28.9L111 29.1L111.5 29.4L112 29.6L112.5 29.9L113 30.1L113.5 30.4L114 30.6L114.5 30.9L115 31.1L115.5 31.3L116 31.5L116.5 31.7L117 32L117.5 32.2L118 32.4L118.5 32.6L119 32.8L119.5 33L120 33.2L120.5 33.4L121 33.6L121.5 33.9L122 34.1L122.5 34.3L123 34.5L123.5 34.7L124 34.9L124.5 35.1L125 35.3L125.5 35.5L126 35.7L126.5 36L127 36.2L127.5 36.4L128 36.6L128.5 36.8L129 37L129.5 37.2L130 38.3L130.5 44L131 49.7L131.5 55.4L132 61.1L132.5 66.8L133 72.5L133.5 78.2L134 83.9L134.5 89.6L135 95.3L135.5 101L136 106.7L136.5 107L137 107.1L137.5 107.1L138 107.2L138.5 107.3L139 107.4L139.5 107.4L140 107.5L140.5 107.6L141 107.7L141.5 107.8L142 107.8L142.5 107.8L143 107.9L143.5 107.9L144 107.9L144.5 108L145 108L145.5 108L146 108.1L146.5 108.1L147 108.1L147.5 108.1L148 108L148.5 108L149 108L149.5 107.9L150 107.9L150.5 107.9L151 107.8L151.5 107.8L152 107.8L152.5 107.7L153 107.6L153.5 107.5L154 107.4L154.5 107.4L155 107.3L155.5 107.2L156 107.1L156.5 107L157 107L157.5 106L158 100.3L158.5 94.6L159 88.9L159.5 83.2L160 77.5L160.5 71.8L161 66.1L161.5 60.4L162 54.7L162.5 49L163 43.3L163.5 37.6L164 37.2L164.5 37L165 36.8L165.5 36.6L166 36.4L166.5 36.1L167 35.9L167.5 35.7L168 35.5L168.5 35.3L169 35.1L169.5 34.9L170 34.7L170.5 34.5L171 34.3L171.5 34L172 33.8L172.5 33.6L173 33.4L173.5 33.2L174 33L174.5 32.8L175 32.6L175.5 32.4L176 32.1L176.5 31.9L177 31.7L177.5 31.5L178 31.3L178.5 31.1L179 30.9L179.5 30.6L180 30.4L180.5 30.1L181 29.9L181.5 29.6L182 29.4L182.5 29.1L183 28.9L183.5 28.6L184 28.4L184.5 28.1L185 27.9L185.5 27.6L186 27.4L186.5 27.1L187 26.9L187.5 26.7L188 26.5L188.5 26.2L189 26L189.5 25.8L190 25.6L190.5 25.4L191 25.2L191.5 25L192 24.8L192.5 24.6L193 24.3L193.5 24.1L194 23.9L194.5 23.7L195 23.5L195.5 23.3L196 23.2L196.5 23.1L197 23.1L197.5 23L198 22.9L198.5 22.9L199 22.8L199.5 22.8L200 22.7L200.5 22.7L201 22.6L201.5 22.5L202 22.5L202.5 22.4L203 22.4L203.5 22.5L204 22.6L204.5 22.6L205 22.7L205.5 22.8L206 22.9L206.5 22.9L207 23L207.5 23.1L208 23.2L208.5 23.4L209 23.5L209.5 23.7L210 23.9L210.5 24L211 24.2L211.5 24.4L212 24.5L212.5 24.7L213 24.9L213.5 25.1L214 25.2L214.5 25.4L215 25.6L215.5 25.7L216 25.9L216.5 26.1L217 26.2L217.5 26.4L218 26.6L218.5 26.7L219 26.9L219.5 27.1L220 27.2L220.5 27.4L221 27.6L221.5 27.8L222 27.9L222.5 28.1L223 28.3L223.5 28.4L224 28.6L224.5 28.9L225 29.1L225.5 29.4L226 29.6L226.5 29.9L227 30.1L227.5 30.4L228 30.6L228.5 30.9L229 31.1L229.5 31.4L230 31.6L230.5 31.9L231 32.1L231.5 32.4L232 32.6L232.5 32.9L233 33.1L233.5 33.4L234 33.6L234.5 33.9L235 34.1L235.5 35.9L236 40.4L236.5 44.9L237 49.4L237.5 53.9L238 58.4L238.5 62.9L239 67.3L239.5 71.8L240 76.3L240.5 79.4L241 81.3L241.5 83.3L242 85.3L242.5 87L243 87.4L243.5 87.8L244 88.2L244.5 88.6L245 89L245.5 89.4L246 89.8L246.5 90.3L247 90.6L247.5 90.7L248 90.8L248.5 90.9L249 91.1L249.5 91.2L250 91.3L250.5 91.4L251 91.5L251.5 91.6L252 91.7L252.5 91.6L253 91.5L253.5 91.3L254 91.2L254.5 91.1L255 91L255.5 90.9L256 90.8L256.5 90.7L257 90.5L257.5 90.1L258 89.7L258.5 89.3L259 88.8L259.5 88.4L260 88L260.5 87.6L261 87.2L261.5 86.4L262 84.4L262.5 82.5L263 80.5L263.5 78.6L264 74.4L264.5 69.9L265 65.5L265.5 61L266 56.5L266.5 52L267 47.5L267.5 43L268 38.5L268.5 34.3L269 34L269.5 33.8L270 33.5L270.5 33.3L271 33L271.5 32.8L272 32.5L272.5 32.3L273 32L273.5 31.8L274 31.5L274.5 31.3L275 31L275.5 30.8L276 30.5L276.5 30.3L277 30L277.5 29.8L278 29.5L278.5 29.3L279 29L279.5 28.8L280 28.5L280.5 28.4L281 28.2L281.5 28L282 27.8L282.5 27.7L283 27.5L283.5 27.3L284 27.2L284.5 27L285 26.8L285.5 26.7L286 26.5L286.5 26.3L287 26.2L287.5 26L288 25.8L288.5 25.7L289 25.5L289.5 25.3L290 25.1L290.5 25L291 24.8L291.5 24.6L292 24.5L292.5 24.3L293 24.1L293.5 24L294 23.8L294.5 23.6L295 23.5L295.5 23.3L296 23.1L296.5 23L297 23L297.5 22.9L298 22.8L298.5 22.8L299 22.7L299.5 22.6L300 22.5L300.5 22.5L301 22.4L301.5 22.4L302 22.5L302.5 22.6L303 22.6L303.5 22.7L304 22.7L304.5 22.8L305 22.8L305.5 22.9L306 23L306.5 23L307 23.1L307.5 23.1L308 23.2L308.5 23.4L309 23.6L309.5 23.8L310 24L310.5 24.2L311 24.4L311.5 24.6L312 24.9L312.5 25.1L313 25.3L313.5 25.5L314 25.7L314.5 25.9L315 26.1L315.5 26.3L316 26.5L316.5 26.8L317 27L317.5 27.2L318 27.5L318.5 27.7L319 28L319.5 28.2L320 28.5L320.5 28.7L321 29L321.5 29.2L322 29.5L322.5 29.7L323 30L323.5 30.2L324 30.5L324.5 30.7L325 31L325.5 31.2L326 31.4L326.5 31.6L327 31.8L327.5 32L328 32.2L328.5 32.4L329 32.7L329.5 32.9L330 33.1L330.5 33.3L331 33.5L331.5 33.7L332 33.9L332.5 34.1L333 34.3L333.5 34.5L334 34.8L334.5 35L335 35.2L335.5 35.4L336 35.6L336.5 35.8L337 36L337.5 36.2L338 36.4L338.5 36.7L339 36.9L339.5 37.1L340 37.3L340.5 40L341 45.7L341.5 51.4L342 57.1L342.5 62.8L343 68.5L343.5 74.2L344 79.9L344.5 85.6L345 91.3L345.5 97L346 102.7L346.5 106.9L347 107L347.5 107.1L348 107.2L348.5 107.2L349 107.3L349.5 107.4L350 107.5L350.5 107.6L351 107.6L351.5 107.7L352 107.8L352.5 107.8L353 107.9L353.5 107.9L354 107.9L354.5 107.9L355 108L355.5 108L356 108L356.5 108.1L357 108.1L357.5 108.1L358 108L358.5 108L359 108L359.5 108L360 107.9L360.5 107.9L361 107.9L361.5 107.8L362 107.8L362.5 107.7L363 107.7L363.5 107.6L364 107.5L364.5 107.4L365 107.3L365.5 107.3L366 107.2L366.5 107.1L367 107L367.5 106.9L368 104.3L368.5 98.6L369 92.9L369.5 87.2L370 81.5L370.5 75.8L371 70.1L371.5 64.4L372 58.7L372.5 53L373 47.3L373.5 41.6L374 37.3L374.5 37.1L375 36.9L375.5 36.7L376 36.5L376.5 36.3L377 36.1L377.5 35.9L378 35.7L378.5 35.5L379 35.2L379.5 35L380 34.8L380.5 34.6L381 34.4L381.5 34.2L382 34L382.5 33.8L383 33.6L383.5 33.3L384 33.1L384.5 32.9L385 32.7L385.5 32.5L386 32.3L386.5 32.1L387 31.9L387.5 31.7L388 31.5L388.5 31.2L389 31L389.5 30.8L390 30.5L390.5 30.3L391 30L391.5 29.8L392 29.5L392.5 29.3L393 29L393.5 28.8L394 28.5L394.5 28.3L395 28L395.5 27.8L396 27.5L396.5 27.3L397 27L397.5 26.8L398 26.6L398.5 26.4L399 26.2L399.5 26L400 25.8L400.5 25.6L401 25.3L401.5 25.1L402 24.9L402.5 24.7L403 24.5L403.5 24.3L404 24.1L404.5 23.9L405 23.7L405.5 23.4L406 23.2L406.5 23.2L407 23.1L407.5 23L408 23L408.5 22.9L409 22.9L409.5 22.8L410 22.8L410.5 22.7L411 22.6L411.5 22.6L412 22.5L412.5 22.5L413 22.4L413.5 22.5L414 22.5L414.5 22.6L415 22.7L415.5 22.7L416 22.8L416.5 22.9L417 23L417.5 23L418 23.1L418.5 23.2L419 23.4L419.5 23.6L420 23.8L420.5 23.9L421 24.1L421.5 24.3L422 24.4L422.5 24.6L423 24.8L423.5 24.9L424 25.1L424.5 25.3L425 25.4L425.5 25.6L426 25.8L426.5 25.9L427 26.1L427.5 26.3L428 26.5L428.5 26.6L429 26.8L429.5 27L430 27.1L430.5 27.3L431 27.5L431.5 27.6L432 27.8L432.5 28L433 28.1L433.5 28.3L434 28.5L434.5 28.7L435 29L435.5 29.2L436 29.5L436.5 29.7L437 30L437.5 30.2L438 30.5L438.5 30.7L439 31L439.5 31.2L440 31.5L440.5 31.7L441 32L441.5 32.2L442 32.5L442.5 32.7L443 33L443.5 33.2L444 33.5L444.5 33.7L445 34L445.5 34.2L446 37.3L446.5 41.8L447 46.2L447.5 50.7L448 55.2L448.5 59.7L449 64.2L449.5 68.7L450 73.2L450.5 77.7L451 80L451.5 81.9L452 83.9L452.5 85.8L453 87.1L453.5 87.5L454 87.9L454.5 88.3L455 88.7L455.5 89.1L456 89.6L456.5 90L457 90.4L457.5 90.7L458 90.8L458.5 90.9L459 91L459.5 91.1L460 91.2L460.5 91.3L461 91.4L461.5 91.5L462 91.6L462.5 91.6L463 91.5L463.5 91.4L464 91.3L464.5 91.2L465 91.1L465.5 91L466 90.9L466.5 90.8L467 90.6L467.5 90.4L468 90L468.5 89.5L469 89.1L469.5 88.7L470 88.3L470.5 87.9L471 87.5L471.5 87.1L472 85.8L472.5 83.9L473 81.9L473.5 79.9L474 77.6L474.5 73.1L475 68.6L475.5 64.1L476 59.6L476.5 55.1L477 50.6L477.5 46.2L478 41.7L478.5 37.2L479 34.2L479.5 34L480 33.7L480.5 33.5L481 33.2L481.5 33L482 32.7L482.5 32.5L483 32.2L483.5 32L484 31.7L484.5 31.5L485 31.2L485.5 31L486 30.7L486.5 30.5L487 30.2L487.5 30L488 29.7L488.5 29.5L489 29.2L489.5 29L490 28.7L490.5 28.5L491 28.3L491.5 28.1L492 28L492.5 27.8L493 27.6L493.5 27.5L494 27.3L494.5 27.1L495 27L495.5 26.8L496 26.6L496.5 26.4L497 26.3L497.5 26.1L498 25.9L498.5 25.8L499 25.6L499.5 25.4L500 25.3L500.5 25.1L501 24.9L501.5 24.8L502 24.6L502.5 24.4L503 24.3L503.5 24.1L504 23.9L504.5 23.7L505 23.6L505.5 23.4L506 23.2L506.5 23.1L507 23L507.5 22.9L508 22.9L508.5 22.8L509 22.7L509.5 22.7L510 22.6L510.5 22.5L511 22.5L511.5 22.4L512 22.5L512.5 22.5L513 22.6L513.5 22.6L514 22.7L514.5 22.8L515 22.8L515.5 22.9L516 22.9L516.5 23L517 23L517.5 23.1L518 23.2L518.5 23.2L519 23.4L519.5 23.7L520 23.9L520.5 24.1L521 24.3L521.5 24.5L522 24.7L522.5 24.9L523 25.1L523.5 25.3L524 25.6L524.5 25.8L525 26L525.5 26.2L526 26.4L526.5 26.6L527 26.8L527.5 27L528 27.3L528.5 27.5L529 27.8L529.5 28L530 28.3L530.5 28.5L531 28.8L531.5 29L532 29.3L532.5 29.5L533 29.8L533.5 30L534 30.3L534.5 30.5L535 30.8L535.5 31L536 31.2L536.5 31.5L537 31.7L537.5 31.9L538 32.1L538.5 32.3L539 32.5L539.5 32.7L540 32.9L540.5 33.1L541 33.3L541.5 33.6L542 33.8L542.5 34L543 34.2L543.5 34.4L544 34.6L544.5 34.8L545 35L545.5 35.2L546 35.5L546.5 35.7L547 35.9L547.5 36.1L548 36.3L548.5 36.5L549 36.7L549.5 36.9L550 37.1L550.5 37.3L551 41.7L551.5 47.4L552 53.1L552.5 58.8L553 64.5L553.5 70.2L554 75.9L554.5 81.6L555 87.3L555.5 93L556 98.7L556.5 104.4L557 106.9L557.5 107L558 107.1L558.5 107.2L559 107.3L559.5 107.3L560 107.4L560.5 107.5L561 107.6L561.5 107.7L562 107.7L562.5 107.8L563 107.8L563.5 107.9L564 107.9L564.5 107.9L565 108L565.5 108L566 108L566.5 108L567 108.1L567.5 108.1L568 108.1L568.5 108L569 108L569.5 108L570 107.9L570.5 107.9L571 107.9L571.5 107.9L572 107.8L572.5 107.8L573 107.7L573.5 107.6L574 107.6L574.5 107.5L575 107.4L575.5 107.3L576 107.2L576.5 107.2L577 107.1L577.5 107L578 106.9L578.5 102.6L579 96.9L579.5 91.2L580 85.5L580.5 79.8L581 74.1L581.5 68.4L582 62.7L582.5 57L583 51.3L583.5 45.6L584 39.9L584.5 37.3L585 37.1L585.5 36.9L586 36.7L586.5 36.4L587 36.2L587.5 36L588 35.8L588.5 35.6L589 35.4L589.5 35.2L590 35L590.5 34.8L591 34.5L591.5 34.3L592 34.1L592.5 33.9L593 33.7L593.5 33.5L594 33.3L594.5 33.1L595 32.9L595.5 32.7L596 32.4L596.5 32.2L597 32L597.5 31.8L598 31.6L598.5 31.4L599 31.2L599.5 31L600 30.7L600.5 30.5L601 30.2L601.5 30L602 29.7L602.5 29.5L603 29.2L603.5 29L604 28.7L604.5 28.5L605 28.2L605.5 28L606 27.7L606.5 27.5L607 27.2L607.5 27L608 26.8L608.5 26.5L609 26.3L609.5 26.1L610 25.9L610.5 25.7L611 25.5L611.5 25.3L612 25.1L612.5 24.9L613 24.6L613.5 24.4L614 24.2L614.5 24L615 23.8L615.5 23.6L616 23.4L616.5 23.2L617 23.1L617.5 23.1L618 23L618.5 23L619 22.9L619.5 22.8L620 22.8L620.5 22.7L621 22.7L621.5 22.6L622 22.6L622.5 22.5L623 22.4L623.5 22.4L624 22.5L624.5 22.6L625 22.6L625.5 22.7L626 22.8L626.5 22.8L627 22.9L627.5 23L628 23L628.5 23.1L629 23.3L629.5 23.5L630 23.6L630.5 23.8L631 24L631.5 24.1L632 24.3L632.5 24.5L633 24.6L633.5 24.8L634 25L634.5 25.2L635 25.3L635.5 25.5L636 25.7L636.5 25.8L637 26L637.5 26.2L638 26.3L638.5 26.5L639 26.7L639.5 26.8L640 27L640.5 27.2L641 27.3L641.5 27.5L642 27.7L642.5 27.9L643 28L643.5 28.2L644 28.4L644.5 28.5L645 28.8L645.5 29L646 29.3L646.5 29.5L647 29.8L647.5 30L648 30.3L648.5 30.5L649 30.8L649.5 31L650 31.3L650.5 31.5L651 31.8L651.5 32L652 32.3L652.5 32.5L653 32.8L653.5 33L654 33.3L654.5 33.5L655 33.8L655.5 34L656 34.3L656.5 38.6L657 43.1L657.5 47.6L658 52.1L658.5 56.6L659 61.1L659.5 65.5L660 70L660.5 74.5L661 78.6L661.5 80.6L662 82.5L662.5 84.5L663 86.4L663.5 87.2L664 87.6L664.5 88L665 88.4L665.5 88.9L666 89.3L666.5 89.7L667 90.1L667.5 90.5L668 90.7L668.5 90.8L669 90.9L669.5 91L670 91.1L670.5 91.2L671 91.3L671.5 91.5L672 91.6L672.5 91.7L673 91.6L673.5 91.5L674 91.4L674.5 91.3L675 91.2L675.5 91.1L676 90.9L676.5 90.8L677 90.7L677.5 90.6L678 90.2L678.5 89.8L679 89.4L679.5 89L680 88.6L680.5 88.2L681 87.8L681.5 87.4L682 87L682.5 85.2L683 83.3L683.5 81.3L684 79.4L684.5 76.2L685 71.7L685.5 67.3L686 62.8L686.5 58.3L687 53.8L687.5 49.3L688 44.8L688.5 40.3L689 35.8L689.5 34.1L690 33.9L690.5 33.6L691 33.4L691.5 33.1L692 32.9L692.5 32.6L693 32.4L693.5 32.1L694 31.9L694.5 31.6L695 31.4L695.5 31.1L696 30.9L696.5 30.6L697 30.4L697.5 30.1L698 29.9L698.5 29.6L699 29.4L699.5 29.1L700 28.9L700.5 28.6L701 28.4L701.5 28.3L702 28.1"/>
<path stroke="#000" stroke-width="2.35" d="M61 144.6h0M61.3 144.4h0M61.7 141.4h0M62 143.4h0M62.4 143.5h0M62.7 138.6h0M63.1 141.7h0M63.4 144.2h0M63.8 144.8h0M64.1 142h0M64.5 146.6h0M64.8 141.1h0M65.2 145.1h0M65.5 144.4h0M65.9 141.5h0M66.2 145.8h0M66.6 141.2h0M66.9 142.2h0M67.3 143h0M67.6 140.2h0M68 144.5h0M68.3 140.7h0M68.7 138.7h0M69 141.4h0M69.3 140.8h0M69.7 138.6h0M70 139.9h0M70.4 143.2h0M70.7 143.6h0M71.1 139.3h0M71.4 145h0M71.8 145.5h0M72.1 146.2h0M72.5 145h0M72.8 142.5h0M73.2 143.6h0M73.5 142.1h0M73.9 142.4h0M74.2 141.1h0M74.6 141.1h0M74.9 140.1h0M75.3 140.7h0M75.6 140.8h0M76 139.9h0M76.3 139.5h0M76.7 144.2h0M77 143.5h0M77.3 143.2h0M77.7 145h0M78 144.9h0M78.4 143.8h0M78.7 145.7h0M79.1 145.1h0M79.4 149.5h0M79.8 144.1h0M80.1 141.5h0M80.5 145h0M80.8 144.3h0M81.2 144h0M81.5 135.3h0M81.9 138.2h0M82.2 138.2h0M82.6 136.6h0M82.9 140.5h0M83.3 142.1h0M83.6 143.6h0M84 144.1h0M84.3 145.9h0M84.6 147h0M85 145h0M85.3 139.2h0M85.7 144.3h0M86 143.2h0M86.4 145h0M86.7 142.7h0M87.1 142.1h0M87.4 144.6h0M87.8 139.4h0M88.1 137.4h0M88.5 140.1h0M88.8 140.7h0M89.2 139.2h0M89.5 140.6h0M89.9 141.5h0M90.2 138.5h0M90.6 140.5h0M90.9 140.9h0M91.3 146.4h0M91.6 144.1h0M92 147.9h0M92.3 154.2h0M92.6 143.1h0M93 144.8h0M93.3 144.1h0M93.7 145.5h0M94 137.7h0M94.4 140h0M94.7 140.8h0M95.1 139.1h0M95.4 139.4h0M95.8 138.6h0M96.1 142.4h0M96.5 142.7h0M96.8 136.8h0M97.2 138.8h0M97.5 141.3h0M97.9 143.7h0M98.2 144.3h0M98.6 144h0M98.9 146.4h0M99.3 146.8h0M99.6 144.7h0M100 143.2h0M100.3 143h0M100.6 134.7h0M101 143h0M101.3 141.8h0M101.7 137.6h0M102 142.1h0M102.4 139h0M102.7 141.1h0M103.1 140.1h0M103.4 140.6h0M103.8 143.4h0M104.1 141h0M104.5 143.4h0M104.8 142.2h0M105.2 146.1h0M105.5 144.8h0M105.9 144.4h0M106.2 143.5h0M106.6 145.1h0M106.9 143.4h0M107.3 141.4h0M107.6 139.9h0M108 143.6h0M108.3 142.5h0M108.6 136.8h0M109 141.6h0M109.3 140.6h0M109.7 140.9h0M110 142h0M110.4 139.4h0M110.7 148.2h0M111.1 148.2h0M111.4 144.8h0M111.8 145.2h0M112.1 150.8h0M112.5 143.6h0M112.8 145.4h0M113.2 143.4h0M113.5 140.3h0M113.9 142.8h0M114.2 139.2h0M114.6 138.6h0M114.9 138.6h0M115.3 140.4h0M115.6 138.5h0M115.9 136.6h0M116.3 143.5h0M116.6 140.4h0M117 145.5h0M117.3 144h0M117.7 145.4h0M118 148.6h0M118.4 145.3h0M118.7 144.2h0M119.1 144.4h0M119.4 144.8h0M119.8 144h0M120.1 143.6h0M120.5 138.1h0M120.8 137.9h0M121.2 140.4h0M121.5 140.3h0M121.9 141.5h0M122.2 143h0M122.6 141.3h0M122.9 145.7h0M123.3 142.7h0M123.6 146.6h0M123.9 143.8h0M124.3 144.8h0M124.6 143.8h0M125 148.5h0M125.3 146.2h0M125.7 145h0M126 145.5h0M126.4 141.3h0M126.7 140.6h0M127.1 141.4h0M127.4 138.1h0M127.8 137.7h0M128.1 140.7h0M128.5 139.1h0M128.8 142h0M129.2 141.2h0M129.5 141.1h0M129.9 140.8h0M130.2 146.2h0M130.6 144.2h0M130.9 143h0M131.3 141.9h0M131.6 142.1h0M131.9 143.3h0M132.3 145.9h0M132.6 140.6h0M133 145.4h0M133.3 145.3h0M133.7 133.2h0M134 136.8h0M134.4 143.1h0M134.7 135.2h0M135.1 142.1h0M135.4 140.5h0M135.8 138h0M136.1 146.1h0M136.5 143.1h0M136.8 147.3h0M137.2 145.1h0M137.5 143.5h0M137.9 147.2h0M138.2 148.2h0M138.6 146.4h0M138.9 140.6h0M139.3 143.2h0M139.6 138.6h0M139.9 138.8h0M140.3 142.1h0M140.6 136.1h0M141 144h0M141.3 136.1h0M141.7 137.1h0M142 142.2h0M142.4 141.2h0M142.7 142.4h0M143.1 141.7h0M143.4 151.4h0M143.8 145.4h0M144.1 145h0M144.5 143.4h0M144.8 141.5h0M145.2 143.7h0M145.5 138.4h0M145.9 140.4h0M146.2 145.3h0M146.6 141.2h0M146.9 138.3h0M147.2 133.6h0M147.6 139.9h0M147.9 140.9h0M148.3 139.9h0M148.6 146.7h0M149 143.8h0M149.3 139.3h0M149.7 143.3h0M150 143.5h0M150.4 148.2h0M150.7 147.4h0M151.1 145.3h0M151.4 145.7h0M151.8 145.6h0M152.1 141.4h0M152.5 141.4h0M152.8 144.1h0M153.2 139h0M153.5 138.6h0M153.9 139.4h0M154.2 136.3h0M154.6 136.9h0M154.9 141.4h0M155.2 143.8h0M155.6 145.5h0M155.9 139.1h0M156.3 144.3h0M156.6 142.6h0M157 143.7h0M157.3 144.5h0M157.7 145.6h0M158 145.5h0M158.4 147h0M158.7 141.6h0M159.1 144.1h0M159.4 141.2h0M159.8 136.8h0M160.1 137.5h0M160.5 137.9h0M160.8 141.2h0M161.2 143h0M161.5 137.7h0M161.9 141.7h0M162.2 141h0M162.6 143.6h0M162.9 142.8h0M163.2 141.6h0M163.6 143h0M163.9 143.2h0M164.3 147.4h0M164.6 142.5h0M165 150.8h0M165.3 141h0M165.7 140.6h0M166 141.6h0M166.4 139.3h0M166.7 144h0M167.1 142.4h0M167.4 137.3h0M167.8 140.9h0M168.1 143.4h0M168.5 138.4h0M168.8 140.7h0M169.2 145.3h0M169.5 141.2h0M169.9 144.7h0M170.2 143.6h0M170.6 144.3h0M170.9 141.7h0M171.2 143.4h0M171.6 142.2h0M171.9 146.1h0M172.3 146.1h0M172.6 138.3h0M173 140.7h0M173.3 141.7h0M173.7 136.9h0M174 138.1h0M174.4 138.5h0M174.7 139.1h0M175.1 137.9h0M175.4 142.9h0M175.8 141.4h0M176.1 145.4h0M176.5 143h0M176.8 142.7h0M177.2 144.4h0M177.5 144.3h0M177.9 142.5h0M178.2 143.8h0M178.5 144.6h0M178.9 142.3h0M179.2 143.7h0M179.6 140.3h0M179.9 142.2h0M180.3 140.3h0M180.6 139.7h0M181 141.4h0M181.3 139h0M181.7 138.5h0M182 142.2h0M182.4 142.2h0M182.7 140.8h0M183.1 147.6h0M183.4 144.2h0M183.8 141.8h0M184.1 144h0M184.5 143.6h0M184.8 141.2h0M185.2 141h0M185.5 138.7h0M185.9 141.1h0M186.2 144.3h0M186.5 142.7h0M186.9 142.6h0M187.2 139.6h0M187.6 139.1h0M187.9 143.6h0M188.3 142.9h0M188.6 142.4h0M189 142.5h0M189.3 145.3h0M189.7 144.8h0M190 142.4h0M190.4 142.9h0M190.7 139.3h0M191.1 140.1h0M191.4 142.7h0M191.8 140h0M192.1 139.7h0M192.5 143.6h0M192.8 142.7h0M193.2 138.5h0M193.5 139.8h0M193.9 140.4h0M194.2 146.5h0M194.5 144.2h0M194.9 143.3h0M195.2 146.9h0M195.6 145.2h0M195.9 145h0M196.3 143.5h0M196.6 142.1h0M197 142.2h0M197.3 139.2h0M197.7 141h0M198 140.2h0M198.4 138.7h0M198.7 139.4h0M199.1 136.5h0M199.4 142h0M199.8 139.6h0M200.1 137.9h0M200.5 142.5h0M200.8 142.8h0M201.2 141.4h0M201.5 140.4h0M201.9 143.6h0M202.2 147.2h0M202.5 145.6h0M202.9 146.1h0M203.2 145.6h0M203.6 140.3h0M203.9 142.8h0M204.3 138h0M204.6 142.9h0M205 141h0M205.3 141.6h0M205.7 139.4h0M206 139.3h0M206.4 138.5h0M206.7 134.4h0M207.1 140.3h0M207.4 146.7h0M207.8 145h0M208.1 142.8h0M208.5 144.6h0M208.8 145.3h0M209.2 143.4h0M209.5 147.3h0M209.8 144.8h0M210.2 142.5h0M210.5 143.6h0M210.9 144.3h0M211.2 146.2h0M211.6 140.7h0M211.9 139.2h0M212.3 140.7h0M212.6 138.1h0M213 138.1h0M213.3 142.4h0M213.7 139.9h0M214 138.7h0M214.4 144.1h0M214.7 144.7h0M215.1 146.2h0M215.4 144.3h0M215.8 147h0M216.1 144.4h0M216.5 142.2h0M216.8 143.3h0M217.2 143.4h0M217.5 139.8h0M217.8 140.8h0M218.2 140.8h0M218.5 138.9h0M218.9 139.5h0M219.2 141.7h0M219.6 137.8h0M219.9 140.6h0M220.3 141.7h0M220.6 137.4h0M221 140.9h0M221.3 144.8h0M221.7 144.7h0M222 140.5h0M222.4 145h0M222.7 147.3h0M223.1 146h0M223.4 145.2h0M223.8 142.7h0M224.1 142.3h0M224.5 139h0M224.8 140.6h0M225.2 144.7h0M225.5 139.7h0M225.8 137.8h0M226.2 140.9h0M226.5 136.2h0M226.9 150.8h0M227.2 142.8h0M227.6 141.8h0M227.9 142.3h0M228.3 142.9h0M228.6 144.3h0M229 144.4h0M229.3 141.1h0M229.7 150.8h0M230 142.7h0M230.4 140.6h0M230.7 144h0M231.1 142.9h0M231.4 139.7h0M231.8 144.4h0M232.1 142.3h0M232.5 139.3h0M232.8 140.7h0M233.2 143.5h0M233.5 138.8h0M233.8 138.9h0M234.2 140.8h0M234.5 141.9h0M234.9 143.6h0M235.2 145.8h0M235.6 143.1h0M235.9 147.2h0M236.3 143.9h0M236.6 139.1h0M237 142.4h0M237.3 143.3h0M237.7 143.6h0M238 150.4h0M238.4 140.4h0M238.7 145h0M239.1 140.9h0M239.4 139.1h0M239.8 138.3h0M240.1 141h0M240.5 143.1h0M240.8 140.7h0M241.1 146h0M241.5 142.1h0M241.8 139.9h0M242.2 140h0M242.5 143.4h0M242.9 142.5h0M243.2 152.9h0M243.6 140.8h0M243.9 142.9h0M244.3 140h0M244.6 144.1h0M245 140.7h0M245.3 140.8h0M245.7 150.6h0M246 141.3h0M246.4 142.8h0M246.7 142h0M247.1 144.2h0M247.4 143.5h0M247.8 142.6h0M248.1 150.8h0M248.5 144.7h0M248.8 141.3h0M249.1 142.5h0M249.5 139.2h0M249.8 142.2h0M250.2 143.1h0M250.5 145.8h0M250.9 142.5h0M251.2 142.6h0M251.6 143.5h0M251.9 142.3h0M252.3 137.5h0M252.6 140.8h0M253 143h0M253.3 143.6h0M253.7 148h0M254 142.1h0M254.4 140.4h0M254.7 145.4h0M255.1 146.2h0M255.4 142.5h0M255.8 144h0M256.1 141.2h0M256.5 141.3h0M256.8 139.9h0M257.1 142.2h0M257.5 138.4h0M257.8 140.4h0M258.2 142.1h0M258.5 140.6h0M258.9 138.8h0M259.2 143.5h0M259.6 150.6h0M259.9 140.7h0M260.3 143.5h0M260.6 143.7h0M261 146.5h0M261.3 143.5h0M261.7 144.3h0M262 144.8h0M262.4 139.2h0M262.7 144.8h0M263.1 141.5h0M263.4 138.8h0M263.8 140.5h0M264.1 141.9h0M264.5 138.4h0M264.8 138.9h0M265.1 143.1h0M265.5 144.1h0M265.8 145.7h0M266.2 142.7h0M266.5 141.5h0M266.9 145.2h0M267.2 143.9h0M267.6 142.8h0M267.9 145.6h0M268.3 146.9h0M268.6 141.7h0M269 146h0M269.3 140.5h0M269.7 140.1h0M270 138h0M270.4 142.7h0M270.7 139.5h0M271.1 139.6h0M271.4 134h0M271.8 139h0M272.1 141.5h0M272.4 136.2h0M272.8 146.4h0M273.1 144h0M273.5 146.2h0M273.8 144h0M274.2 146.7h0M274.5 148.8h0M274.9 149.6h0M275.2 142h0M275.6 149.3h0M275.9 140.4h0M276.3 142h0M276.6 140.1h0M277 139.9h0M277.3 136h0M277.7 139.1h0M278 137.5h0M278.4 139.8h0M278.7 141.4h0M279.1 141.8h0M279.4 142.3h0M279.8 146.1h0M280.1 144.7h0M280.4 145.8h0M280.8 147.5h0M281.1 144.7h0M281.5 144.8h0M281.8 145.4h0M282.2 142.9h0M282.5 145.1h0M282.9 140.6h0M283.2 140.7h0M283.6 140.2h0M283.9 139.5h0M284.3 139.9h0M284.6 143.2h0M285 135.7h0M285.3 143.3h0M285.7 140.9h0M286 143.9h0M286.4 141.1h0M286.7 145h0M287.1 141.7h0M287.4 147.4h0M287.8 144.3h0M288.1 146.5h0M288.4 138.1h0M288.8 142.6h0M289.1 141.5h0M289.5 140.5h0M289.8 139.9h0M290.2 139.6h0M290.5 142.2h0M290.9 139.4h0M291.2 139.5h0M291.6 141.3h0M291.9 145.3h0M292.3 142.6h0M292.6 144.8h0M293 142.4h0M293.3 144.2h0M293.7 144.1h0M294 145.6h0M294.4 145.5h0M294.7 141.2h0M295.1 141.7h0M295.4 144.6h0M295.8 141.3h0M296.1 142.8h0M296.4 139.3h0M296.8 139.8h0M297.1 136.2h0M297.5 139.2h0M297.8 139.9h0M298.2 146.7h0M298.5 143.2h0M298.9 143.7h0M299.2 146.7h0M299.6 140.2h0M299.9 143.8h0M300.3 143.7h0M300.6 147.7h0M301 142.3h0M301.3 140.4h0M301.7 142.9h0M302 141.9h0M302.4 141.9h0M302.7 141.7h0M303.1 142.2h0M303.4 139.5h0M303.7 139.9h0M304.1 145.5h0M304.4 140.1h0M304.8 142.8h0M305.1 140.4h0M305.5 139.6h0M305.8 145.2h0M306.2 144.2h0M306.5 146.6h0M306.9 146.1h0M307.2 144.3h0M307.6 142h0M307.9 147.2h0M308.3 149.3h0M308.6 146.1h0M309 142.8h0M309.3 144.2h0M309.7 142.1h0M310 141.8h0M310.4 140.7h0M310.7 146h0M311.1 140.2h0M311.4 139.6h0M311.7 143.8h0M312.1 142.5h0M312.4 146.2h0M312.8 144.2h0M313.1 146.9h0M313.5 144.6h0M313.8 142.5h0M314.2 142.9h0M314.5 144.2h0M314.9 141.5h0M315.2 139.9h0M315.6 140.6h0M315.9 141.8h0M316.3 142.9h0M316.6 141.4h0M317 142.6h0M317.3 141.1h0M317.7 145.7h0M318 147.1h0M318.4 142.3h0M318.7 147.4h0M319.1 144.4h0M319.4 145.5h0M319.7 144.3h0M320.1 143.3h0M320.4 141.6h0M320.8 142.5h0M321.1 142.7h0M321.5 143.9h0M321.8 142.3h0M322.2 139.8h0M322.5 139h0M322.9 137.2h0M323.2 141.6h0M323.6 140.8h0M323.9 142.4h0M324.3 143.5h0M324.6 143.9h0M325 143.4h0M325.3 143h0M325.7 142.9h0M326 143.8h0M326.4 145.9h0M326.7 149.2h0M327.1 147.6h0M327.4 144h0M327.7 148.9h0M328.1 142h0M328.4 140.4h0M328.8 140.5h0M329.1 139.5h0M329.5 136.1h0M329.8 141.6h0M330.2 136.9h0M330.5 139.9h0M330.9 140.9h0M331.2 143.4h0M331.6 143h0M331.9 143.2h0M332.3 143h0M332.6 145.4h0M333 144.3h0M333.3 143.3h0M333.7 141.6h0M334 141.7h0M334.4 142.9h0M334.7 138.7h0M335 141.2h0M335.4 140.4h0M335.7 142h0M336.1 142.9h0M336.4 137.8h0M336.8 139.8h0M337.1 143h0M337.5 136.3h0M337.8 144.4h0M338.2 143.4h0M338.5 143.9h0M338.9 142.7h0M339.2 145.2h0M339.6 146.2h0M339.9 147.4h0M340.3 145.3h0M340.6 146h0M341 140.2h0M341.3 140.1h0M341.7 140.2h0M342 139.2h0M342.4 144.5h0M342.7 140.5h0M343 137.8h0M343.4 139.7h0M343.7 144.2h0M344.1 140.8h0M344.4 143.3h0M344.8 140.4h0M345.1 142.4h0M345.5 149.3h0M345.8 143.8h0M346.2 144.3h0M346.5 144.8h0M346.9 145.9h0M347.2 139.8h0M347.6 142.6h0M347.9 143.1h0M348.3 141.6h0M348.6 142.8h0M349 141.2h0M349.3 139.3h0M349.7 138.7h0M350 142.2h0M350.4 138.6h0M350.7 140.8h0M351 142.1h0M351.4 144h0M351.7 142.8h0M352.1 142h0M352.4 145h0M352.8 141.7h0M353.1 142.3h0M353.5 139.5h0M353.8 143.1h0M354.2 142.4h0M354.5 138.3h0M354.9 140.6h0M355.2 141.7h0M355.6 139.2h0M355.9 137.3h0M356.3 140.4h0M356.6 142.1h0M357 137.9h0M357.3 143.5h0M357.7 142.3h0M358 144.7h0M358.4 145.5h0M358.7 145.3h0M359 144.1h0M359.4 144.9h0M359.7 143.2h0M360.1 144.5h0M360.4 141.8h0M360.8 140.8h0M361.1 139.2h0M361.5 137.9h0M361.8 140.7h0M362.2 139.9h0M362.5 140.5h0M362.9 140.5h0M363.2 142.1h0M363.6 144.8h0M363.9 141.4h0M364.3 144.3h0M364.6 147.2h0M365 141.9h0M365.3 142.8h0M365.7 144.5h0M366 141.8h0M366.3 144.6h0M366.7 140.9h0M367 140.8h0M367.4 139.4h0M367.7 148.5h0M368.1 141.2h0M368.4 140.6h0M368.8 136.6h0M369.1 142.6h0M369.5 142.1h0M369.8 143.2h0M370.2 146.5h0M370.5 143.1h0M370.9 145.8h0M371.2 145.1h0M371.6 146h0M371.9 142.7h0M372.3 145.8h0M372.6 142.7h0M373 145.4h0M373.3 144.8h0M373.7 141.5h0M374 141.9h0M374.3 141.4h0M374.7 140.7h0M375 145.2h0M375.4 139.1h0M375.7 139.3h0M376.1 152.2h0M376.4 142.1h0M376.8 143.2h0M377.1 146.4h0M377.5 146.2h0M377.8 145.2h0M378.2 145.1h0M378.5 142.9h0M378.9 146h0M379.2 146h0M379.6 142.6h0M379.9 146.8h0M380.3 140.1h0M380.6 140.6h0M381 140.4h0M381.3 141.5h0M381.7 137.5h0M382 142.9h0M382.3 145.6h0M382.7 142.4h0M383 143.8h0M383.4 139h0M383.7 142.7h0M384.1 144h0M384.4 151.8h0M384.8 140.9h0M385.1 146.7h0M385.5 144.8h0M385.8 140.2h0M386.2 142.5h0M386.5 141.9h0M386.9 142.7h0M387.2 141.5h0M387.6 139.4h0M387.9 139.2h0M388.3 140.1h0M388.6 141.8h0M389 139.9h0M389.3 140.4h0M389.7 143.4h0M390 143.5h0M390.3 146.9h0M390.7 145.5h0M391 146.7h0M391.4 141.6h0M391.7 142.5h0M392.1 141.7h0M392.4 142.4h0M392.8 143.4h0M393.1 141.4h0M393.5 141.9h0M393.8 139h0M394.2 141.5h0M394.5 141h0M394.9 136.6h0M395.2 138.1h0M395.6 144.6h0M395.9 142.7h0M396.3 150.1h0M396.6 146.1h0M397 141.6h0M397.3 144.7h0M397.6 144.7h0M398 144.3h0M398.3 144.4h0M398.7 140.6h0M399 144h0M399.4 142h0M399.7 139.7h0M400.1 143.5h0M400.4 139.2h0M400.8 140.3h0M401.1 138.5h0M401.5 137.1h0M401.8 139.2h0M402.2 141.1h0M402.5 139.5h0M402.9 142.9h0M403.2 145.7h0M403.6 145.5h0M403.9 143.5h0M404.3 147.1h0M404.6 146h0M405 141.9h0M405.3 142.2h0M405.6 146.3h0M406 143.3h0M406.3 142.8h0M406.7 140.8h0M407 145.5h0M407.4 145.7h0M407.7 140h0M408.1 141.7h0M408.4 140.1h0M408.8 141.8h0M409.1 143.9h0M409.5 144.1h0M409.8 142.5h0M410.2 144.2h0M410.5 148.7h0M410.9 145.8h0M411.2 146.6h0M411.6 145h0M411.9 151.7h0M412.3 141.3h0M412.6 141h0M413 139.2h0M413.3 143.3h0M413.6 126.9h0M414 142h0M414.3 138h0M414.7 141.5h0M415 137.9h0M415.4 145.9h0M415.7 141.1h0M416.1 142.9h0M416.4 146h0M416.8 143.2h0M417.1 148.1h0M417.5 144.1h0M417.8 147h0M418.2 142.7h0M418.5 146h0M418.9 149.4h0M419.2 142.4h0M419.6 143.7h0M419.9 141.1h0M420.3 140.2h0M420.6 140.8h0M421 141.8h0M421.3 138.7h0M421.6 141.1h0M422 142.9h0M422.3 140.8h0M422.7 145.3h0M423 141.7h0M423.4 144.1h0M423.7 143.8h0M424.1 144.4h0M424.4 146.6h0M424.8 140h0M425.1 138.4h0M425.5 148.1h0M425.8 139.9h0M426.2 139.6h0M426.5 138h0M426.9 146.4h0M427.2 150.4h0M427.6 142.2h0M427.9 139.5h0M428.3 143.5h0M428.6 141.3h0M428.9 145.2h0M429.3 143.6h0M429.6 140.5h0M430 144.2h0M430.3 143h0M430.7 148h0M431 141.5h0M431.4 142.5h0M431.7 140.8h0M432.1 140.1h0M432.4 139.6h0M432.8 140.1h0M433.1 140.4h0M433.5 139.1h0M433.8 139.6h0M434.2 140.5h0M434.5 139.7h0M434.9 141.6h0M435.2 142.9h0M435.6 145.3h0M435.9 145.5h0M436.3 145.6h0M436.6 146.5h0M436.9 143.7h0M437.3 146.3h0M437.6 144.2h0M438 142.7h0M438.3 141.3h0M438.7 142h0M439 139.1h0M439.4 140.4h0M439.7 138.6h0M440.1 138.3h0M440.4 140.1h0M440.8 138.7h0M441.1 142.8h0M441.5 140.9h0M441.8 142.3h0M442.2 145.9h0M442.5 142.6h0M442.9 146.8h0M443.2 145.7h0M443.6 145.6h0M443.9 145.2h0M444.3 142.6h0M444.6 145.5h0M444.9 142.6h0M445.3 141.6h0M445.6 140.9h0M446 140.4h0M446.3 144.1h0M446.7 137.1h0M447 137h0M447.4 137.6h0M447.7 140h0M448.1 143.4h0M448.4 141.2h0M448.8 143.8h0M449.1 146.8h0M449.5 145.3h0M449.8 145.6h0M450.2 144.1h0M450.5 145.4h0M450.9 143.3h0M451.2 141.9h0M451.6 141.1h0M451.9 141h0M452.3 140.8h0M452.6 136.8h0M452.9 138.9h0M453.3 136.5h0M453.6 136.1h0M454 138.4h0M454.3 140.6h0M454.7 141.8h0M455 143.7h0M455.4 141.3h0M455.7 147.4h0M456.1 147.1h0M456.4 147h0M456.8 143.3h0M457.1 145.7h0M457.5 143.3h0M457.8 138.1h0M458.2 141.7h0M458.5 138.2h0M458.9 141.2h0M459.2 140.5h0M459.6 139.8h0M459.9 147.6h0M460.2 136.6h0M460.6 139.4h0M460.9 140.3h0M461.3 141.4h0M461.6 144.2h0M462 148.2h0M462.3 143.1h0M462.7 145.9h0M463 145.3h0M463.4 145.2h0M463.7 144.6h0M464.1 144.7h0M464.4 141.9h0M464.8 141.3h0M465.1 143.4h0M465.5 140.3h0M465.8 139.8h0M466.2 137h0M466.5 140.3h0M466.9 140.9h0M467.2 141h0M467.6 143.6h0M467.9 140h0M468.2 144.1h0M468.6 141.1h0M468.9 142.4h0M469.3 141.3h0M469.6 145.4h0M470 143.8h0M470.3 146.1h0M470.7 146.8h0M471 139.4h0M471.4 140.9h0M471.7 141.5h0M472.1 139.9h0M472.4 140.4h0M472.8 138.1h0M473.1 140.8h0M473.5 140.3h0M473.8 141.5h0M474.2 143.9h0M474.5 143.8h0M474.9 141.7h0M475.2 143.5h0M475.6 141.6h0M475.9 145.8h0M476.2 143.4h0M476.6 143.2h0M476.9 143.6h0M477.3 140.6h0M477.6 141.9h0M478 141.1h0M478.3 144.1h0M478.7 142.7h0M479 143.1h0M479.4 140.5h0M479.7 140.9h0M480.1 142.6h0M480.4 140.6h0M480.8 140.8h0M481.1 145h0M481.5 145.1h0M481.8 140.1h0M482.2 141.3h0M482.5 143.2h0M482.9 142.9h0M483.2 142.1h0M483.6 143h0M483.9 140.5h0M484.2 143h0M484.6 143.4h0M484.9 144.7h0M485.3 138.4h0M485.6 142.9h0M486 140.9h0M486.3 141.1h0M486.7 137.4h0M487 144.2h0M487.4 143.1h0M487.7 145.4h0M488.1 146.7h0M488.4 147.6h0M488.8 147.4h0M489.1 145.7h0M489.5 144.2h0M489.8 140h0M490.2 145.2h0M490.5 141.9h0M490.9 144h0M491.2 138.1h0M491.5 140.2h0M491.9 139.9h0M492.2 141.4h0M492.6 138.4h0M492.9 137.4h0M493.3 140.6h0M493.6 141.1h0M494 144h0M494.3 144.4h0M494.7 145.6h0M495 147.5h0M495.4 148h0M495.7 151.8h0M496.1 142h0M496.4 143.2h0M496.8 141.8h0M497.1 142.3h0M497.5 139.8h0M497.8 139.2h0M498.2 135.7h0M498.5 139.6h0M498.9 139.8h0M499.2 140.3h0M499.5 140.5h0M499.9 143h0M500.2 140.3h0M500.6 153.3h0M500.9 145.3h0M501.3 144.3h0M501.6 145h0M502 149.6h0M502.3 144.2h0M502.7 142.5h0M503 142.1h0M503.4 142.3h0M503.7 139.4h0M504.1 140.1h0M504.4 138.9h0M504.8 139.3h0M505.1 140.3h0M505.5 140.6h0M505.8 140.3h0M506.2 141.2h0M506.5 142.9h0M506.9 142.4h0M507.2 143.6h0M507.5 144.3h0M507.9 146.1h0M508.2 144.7h0M508.6 155h0M508.9 143.3h0M509.3 144.5h0M509.6 143.1h0M510 139.6h0M510.3 143.6h0M510.7 140.7h0M511 140.4h0M511.4 145.6h0M511.7 138.3h0M512.1 137.5h0M512.4 140.3h0M512.8 140.8h0M513.1 141.3h0M513.5 143.7h0M513.8 143.9h0M514.2 142.8h0M514.5 148.5h0M514.9 146.5h0M515.2 143h0M515.5 147.5h0M515.9 143.1h0M516.2 148.6h0M516.6 142.7h0M516.9 138.8h0M517.3 140.8h0M517.6 141.8h0M518 138.5h0M518.3 139.1h0M518.7 139.4h0M519 135.3h0M519.4 141.7h0M519.7 141.3h0M520.1 142.8h0M520.4 140.9h0M520.8 144.6h0M521.1 143.4h0M521.5 146.5h0M521.8 144.8h0M522.2 149.9h0M522.5 145.3h0M522.8 142.8h0M523.2 140.5h0M523.5 143h0M523.9 138.4h0M524.2 140.5h0M524.6 138.4h0M524.9 139.2h0M525.3 138.8h0M525.6 141.3h0M526 141.2h0M526.3 151.8h0M526.7 147.2h0M527 143.4h0M527.4 142.6h0M527.7 144.1h0M528.1 144.1h0M528.4 145.1h0M528.8 145.8h0M529.1 142.2h0M529.5 142.4h0M529.8 143.2h0M530.2 139h0M530.5 138.6h0M530.8 139.3h0M531.2 136.7h0M531.5 141.3h0M531.9 139.7h0M532.2 141h0M532.6 142.1h0M532.9 140.5h0M533.3 143.2h0M533.6 141.7h0M534 144.3h0M534.3 145h0M534.7 147h0M535 144.4h0M535.4 145.7h0M535.7 143h0M536.1 139.9h0M536.4 142.4h0M536.8 140.7h0M537.1 139.3h0M537.5 147.3h0M537.8 138.4h0M538.2 139.7h0M538.5 141.7h0M538.8 143.2h0M539.2 141.2h0M539.5 143.3h0M539.9 143.7h0M540.2 144.9h0M540.6 144h0M540.9 141.3h0M541.3 143.5h0M541.6 145.7h0M542 141.8h0M542.3 142h0M542.7 142.7h0M543 140.6h0M543.4 139h0M543.7 140.2h0M544.1 139.9h0M544.4 139.2h0M544.8 140.6h0M545.1 139.5h0M545.5 142.9h0M545.8 141.2h0M546.2 143.1h0M546.5 145h0M546.8 146h0M547.2 145.7h0M547.5 144.9h0M547.9 143.7h0M548.2 144.7h0M548.6 144.5h0M548.9 146.5h0M549.3 140.3h0M549.6 141.8h0M550 141.9h0M550.3 140.7h0M550.7 140.1h0M551 141h0M551.4 141.6h0M551.7 139.3h0M552.1 144.8h0M552.4 145.3h0M552.8 146.6h0M553.1 144.3h0M553.5 143.3h0M553.8 145.5h0M554.1 148.7h0M554.5 144.8h0M554.8 142.3h0M555.2 141.5h0M555.5 140.5h0M555.9 139.8h0M556.2 140.9h0M556.6 138.8h0M556.9 140.3h0M557.3 141.7h0M557.6 139.3h0M558 141h0M558.3 140.9h0M558.7 142.2h0M559 143.6h0M559.4 144.9h0M559.7 145.6h0M560.1 143.5h0M560.4 145.3h0M560.8 147.4h0M561.1 141.9h0M561.5 141.4h0M561.8 139.3h0M562.1 141.4h0M562.5 138.1h0M562.8 140.5h0M563.2 143.6h0M563.5 142.6h0M563.9 137.2h0M564.2 143.2h0M564.6 139.7h0M564.9 141.8h0M565.3 147.6h0M565.6 143.6h0M566 147.1h0M566.3 144.7h0M566.7 144.8h0M567 144.2h0M567.4 143h0M567.7 142.6h0M568.1 141.4h0M568.4 143.4h0M568.8 141.3h0M569.1 141.8h0M569.5 140.9h0M569.8 143.3h0M570.1 140h0M570.5 141.2h0M570.8 139.8h0M571.2 142.8h0M571.5 141.6h0M571.9 142.6h0M572.2 141.3h0M572.6 148.3h0M572.9 146.5h0M573.3 146.2h0M573.6 142.8h0M574 145.3h0M574.3 142.7h0M574.7 140.8h0M575 140.7h0M575.4 143.6h0M575.7 140.8h0M576.1 139h0M576.4 140.9h0M576.8 140.8h0M577.1 140h0M577.5 141.4h0M577.8 140.7h0M578.1 143.5h0M578.5 143.5h0M578.8 142.9h0M579.2 144h0M579.5 145.2h0M579.9 144h0M580.2 144.9h0M580.6 153.1h0M580.9 143.1h0M581.3 140.4h0M581.6 140.8h0M582 146.6h0M582.3 141.5h0M582.7 144.6h0M583 139.3h0M583.4 139.9h0M583.7 138.8h0M584.1 140.3h0M584.4 140.9h0M584.8 142.7h0M585.1 140.3h0M585.4 143.4h0M585.8 143.5h0M586.1 143.1h0M586.5 141.9h0M586.8 142.2h0M587.2 143.2h0M587.5 144h0M587.9 143.2h0M588.2 141.3h0M588.6 142.3h0M588.9 140h0M589.3 142.3h0M589.6 145.1h0M590 140.1h0M590.3 142.5h0M590.7 140.4h0M591 141.7h0M591.4 142.7h0M591.7 144h0M592.1 142.8h0M592.4 144.9h0M592.8 141.4h0M593.1 143h0M593.4 143.2h0M593.8 143.2h0M594.1 142.6h0M594.5 145.1h0M594.8 141.6h0M595.2 143.2h0M595.5 142.1h0M595.9 144.2h0M596.2 141h0M596.6 142.4h0M596.9 142.3h0M597.3 137.2h0M597.6 142.7h0M598 143.9h0M598.3 144.9h0M598.7 144.6h0M599 142.8h0M599.4 148.1h0M599.7 141.5h0M600.1 141.8h0M600.4 143.5h0M600.8 143.3h0M601.1 141.7h0M601.4 145.4h0M601.8 141.8h0M602.1 139.9h0M602.5 140.4h0M602.8 141.4h0M603.2 142.2h0M603.5 142h0M603.9 143.4h0M604.2 141.6h0M604.6 144.5h0M604.9 141.4h0M605.3 146.3h0M605.6 143.5h0M606 144.8h0M606.3 145h0M606.7 143.3h0M607 142.2h0M607.4 141.3h0M607.7 141.2h0M608.1 138.8h0M608.4 140.3h0M608.8 142h0M609.1 141.4h0M609.4 142.5h0M609.8 142.8h0M610.1 143.1h0M610.5 142.8h0M610.8 143.4h0M611.2 144.8h0M611.5 143.3h0M611.9 142.1h0M612.2 145.1h0M612.6 143.8h0M612.9 144.9h0M613.3 141.9h0M613.6 139.9h0M614 141.4h0M614.3 141h0M614.7 141.9h0M615 142.7h0M615.4 140.8h0M615.7 141.7h0M616.1 138.7h0M616.4 141.5h0M616.7 142.9h0M617.1 143.1h0M617.4 145.7h0M617.8 144.3h0M618.1 144.9h0M618.5 141.8h0M618.8 146.2h0M619.2 143.3h0M619.5 144.9h0M619.9 140.8h0M620.2 141h0M620.6 143.2h0M620.9 139.2h0M621.3 140.6h0M621.6 142.8h0M622 142.3h0M622.3 140.6h0M622.7 142.2h0M623 141h0M623.4 139.4h0M623.7 145.6h0M624.1 142.8h0M624.4 145.7h0M624.7 147.5h0M625.1 143h0M625.4 146.2h0M625.8 144.3h0M626.1 141.8h0M626.5 141.4h0M626.8 139.3h0M627.2 140.4h0M627.5 140.3h0M627.9 145.8h0M628.2 139.2h0M628.6 138.5h0M628.9 139.9h0M629.3 139.7h0M629.6 140.2h0M630 140.3h0M630.3 140.9h0M630.7 142.4h0M631 145.2h0M631.4 145.5h0M631.7 147.8h0M632.1 146.9h0M632.4 143.5h0M632.7 145.3h0M633.1 147.5h0M633.4 141.6h0M633.8 143h0M634.1 139.1h0M634.5 141.5h0M634.8 139.4h0M635.2 138.1h0M635.5 136.3h0M635.9 139.1h0M636.2 139.1h0M636.6 141.9h0M636.9 141.4h0M637.3 144.6h0M637.6 144.3h0M638 146.6h0M638.3 147.4h0M638.7 146.4h0M639 146.4h0M639.4 146.4h0M639.7 142.3h0M640.1 143.2h0M640.4 141.4h0M640.7 142.1h0M641.1 138.7h0M641.4 139.8h0M641.8 135.9h0M642.1 140.4h0M642.5 139.9h0M642.8 146.5h0M643.2 142.9h0M643.5 141.1h0M643.9 143.8h0M644.2 145.2h0M644.6 145.3h0M644.9 149.5h0M645.3 151.6h0M645.6 145.4h0M646 144.1h0M646.3 143.3h0M646.7 143.9h0M647 143.5h0M647.4 141.4h0M647.7 139.8h0M648 136.8h0M648.4 137.9h0M648.7 137.8h0M649.1 138.6h0M649.4 142.6h0M649.8 141.2h0M650.1 145.2h0M650.5 144.4h0M650.8 144.9h0M651.2 145.4h0M651.5 143.6h0M651.9 144.7h0M652.2 145.9h0M652.6 144.7h0M652.9 142.9h0M653.3 142.5h0M653.6 145.4h0M654 140.2h0M654.3 142.6h0M654.7 139.2h0M655 136.8h0M655.4 139.1h0M655.7 139.6h0M656 142h0M656.4 144.1h0M656.7 143.8h0M657.1 144.8h0M657.4 146.1h0M657.8 144.1h0M658.1 145.3h0M658.5 145.3h0M658.8 143.5h0M659.2 141.9h0M659.5 142.7h0M659.9 142.4h0M660.2 140.1h0M660.6 136.1h0M660.9 138h0M661.3 138.7h0M661.6 140.3h0M662 139.8h0M662.3 140.8h0M662.7 143.8h0M663 145.1h0M663.4 146.1h0M663.7 143.2h0M664 143.3h0M664.4 145.9h0M664.7 143.5h0M665.1 143.9h0M665.4 142.9h0M665.8 142.4h0M666.1 141.7h0M666.5 139h0M666.8 139h0M667.2 139.8h0M667.5 139.6h0M667.9 137.9h0M668.2 143.1h0M668.6 139.2h0M668.9 143.5h0M669.3 140.6h0M669.6 145h0M670 141.8h0M670.3 145.9h0M670.7 144.9h0M671 145.6h0M671.4 142.9h0M671.7 143.7h0M672 142.9h0M672.4 141.9h0M672.7 140.1h0M673.1 142.1h0M673.4 137.2h0M673.8 137.4h0M674.1 137.6h0M674.5 142h0M674.8 139.4h0M675.2 140.4h0M675.5 141.3h0M675.9 142.8h0M676.2 143.6h0M676.6 147.5h0M676.9 142.8h0M677.3 145.6h0M677.6 144.7h0M678 146.3h0M678.3 144h0M678.7 142.3h0M679 139.5h0M679.3 140.7h0M679.7 140.7h0M680 141.7h0M680.4 139.7h0M680.7 140.4h0M681.1 140.6h0M681.4 142.7h0M681.8 143h0M682.1 142.4h0M682.5 141.3h0M682.8 146.6h0M683.2 145h0M683.5 144.2h0M683.9 143.3h0M684.2 142.5h0M684.6 144.8h0M684.9 143.3h0M685.3 143h0M685.6 143.2h0M686 139.6h0M686.3 140.1h0M686.7 138.4h0M687 137.7h0M687.3 135.9h0M687.7 138.4h0M688 141.8h0M688.4 141.9h0M688.7 142.7h0M689.1 143.5h0M689.4 147.2h0M689.8 147.1h0M690.1 144.5h0M690.5 144.8h0M690.8 146.8h0M691.2 144.9h0M691.5 143.8h0M691.9 144.3h0M692.2 142.4h0M692.6 140.8h0M692.9 152.9h0M693.3 139.8h0M693.6 137.1h0M694 139.6h0M694.3 139.9h0M694.7 142.7h0M695 141.7h0M695.3 144.5h0M695.7 143.9h0M696 142.5h0M696.4 144.4h0M696.7 146.4h0M697.1 144.2h0M697.4 142.2h0M697.8 143h0M698.1 143.8h0M698.5 143.4h0M698.8 140.9h0M699.2 140.5h0M699.5 138.5h0M699.9 143.9h0M700.2 138.3h0M700.6 141.8h0M700.9 140.1h0"/>
</g>
<g clip-path="url(#c2)" fill="none" stroke-linecap="round">
<path stroke="#00f" stroke-width="2.35" d="M61 255.8h0M61.2 250.8h0M61.4 251.8h0M61.6 250.6h0M61.9 244.1h0M62.1 246.7h0M62.3 255.1h0M62.5 240.5h0M62.7 245.2h0M62.9 251.8h0M63.1 242.9h0M63.4 256.3h0M63.6 240.3h0M63.8 242.7h0M64 247.3h0M64.2 242.8h0M64.4 245.6h0M64.6 247.1h0M64.9 246.2h0M65.1 249.1h0M65.3 249.4h0M65.5 249.2h0M65.7 248.6h0M65.9 245.3h0M66.1 249.6h0M66.4 249.9h0M66.6 252.3h0M66.8 257.1h0M67 244.6h0M67.2 258.1h0M67.4 254.5h0M67.6 254h0M67.9 245.7h0M68.1 250.1h0M68.3 250.5h0M68.5 247.3h0M68.7 252.8h0M68.9 242.5h0M69.1 244.3h0M69.4 253.6h0M69.6 251.3h0M69.8 240.2h0M70 251.5h0M70.2 249.9h0M70.4 253.8h0M70.6 248.8h0M70.9 249.1h0M71.1 243.6h0M71.3 248.5h0M71.5 246.9h0M71.7 252.1h0M71.9 248.7h0M72.1 245.7h0M72.4 252.3h0M72.6 234.2h0M72.8 253.1h0M73 251.8h0M73.2 250.2h0M73.4 251.4h0M73.6 245.8h0M73.9 254.4h0M74.1 251.2h0M74.3 239.9h0M74.5 253.5h0M74.7 243.6h0M74.9 244.4h0M75.1 252h0M75.4 247.7h0M75.6 251.5h0M75.8 254.5h0M76 254.9h0M76.2 260.4h0M76.4 252.2h0M76.6 272.6h0M76.9 270.6h0M77.1 264.8h0M77.3 269.8h0M77.5 281.5h0M77.7 270.6h0M77.9 269.4h0M78.1 292.5h0M78.3 291h0M78.6 288.4h0M78.8 298.1h0M79 293.1h0M79.2 294.5h0M79.4 293.9h0M79.6 294.8h0M79.8 285.4h0M80.1 291h0M80.3 292.7h0M80.5 284.9h0M80.7 283.8h0M80.9 290.4h0M81.1 299.5h0M81.3 290.1h0M81.6 299h0M81.8 297.7h0M82 298.2h0M82.2 294.4h0M82.4 281.4h0M82.6 283.9h0M82.8 284.8h0M83.1 289.3h0M83.3 290.3h0M83.5 285.9h0M83.7 289h0M83.9 294.3h0M84.1 284.3h0M84.3 294.2h0M84.6 294h0M84.8 281.3h0M85 291.8h0M85.2 290.8h0M85.4 293.8h0M85.6 293.5h0M85.8 278.9h0M86.1 301.5h0M86.3 291.7h0M86.5 296.4h0M86.7 296h0M86.9 285.5h0M87.1 290.7h0M87.3 289.9h0M87.6 303h0M87.8 283.6h0M88 299.5h0M88.2 295.9h0M88.4 290.5h0M88.6 285.2h0M88.8 290.6h0M89.1 300.5h0M89.3 285.8h0M89.5 292.2h0M89.7 294.4h0M89.9 294.8h0M90.1 289h0M90.3 294.5h0M90.6 295h0M90.8 279.8h0M91 284.4h0M91.2 283h0M91.4 285h0M91.6 295.1h0M91.8 293.6h0M92.1 292.9h0M92.3 287.9h0M92.5 296.4h0M92.7 282h0M92.9 283h0M93.1 294.6h0M93.3 289.2h0M93.6 296.6h0M93.8 295.5h0M94 296h0M94.2 286.3h0M94.4 286.5h0M94.6 270.9h0M94.8 284.5h0M95.1 281.8h0M95.3 276.2h0M95.5 277.5h0M95.7 275.8h0M95.9 276.8h0M96.1 266h0M96.3 263.3h0M96.6 263.6h0M96.8 264.7h0M97 269.4h0M97.2 261.8h0M97.4 240.6h0M97.6 242h0M97.8 245.9h0M98.1 236h0M98.3 254h0M98.5 245h0M98.7 242.6h0M98.9 248.7h0M99.1 251.4h0M99.3 247.5h0M99.6 249.4h0M99.8 254.6h0M100 243.5h0M100.2 249.2h0M100.4 238.7h0M100.6 242.3h0M100.8 254.7h0M101.1 244.7h0M101.3 243.3h0M101.5 253.2h0M101.7 246.1h0M101.9 253.7h0M102.1 259.2h0M102.3 260.8h0M102.6 247.2h0M102.8 250.2h0M103 245.1h0M103.2 257.8h0M103.4 251.3h0M103.6 263.7h0M103.8 245.4h0M104.1 247.6h0M104.3 231.9h0M104.5 243.8h0M104.7 244.1h0M104.9 250.2h0M105.1 252.9h0M105.3 243h0M105.6 246.6h0M105.8 245.1h0M106 246.8h0M106.2 250.8h0M106.4 248.5h0M106.6 243.5h0M106.8 248.6h0M107.1 253.3h0M107.3 247.3h0M107.5 255.3h0M107.7 244.9h0M107.9 252.8h0M108.1 248h0M108.3 249.8h0M108.6 242.8h0M108.8 252.4h0M109 240h0M109.2 252.2h0M109.4 246.3h0M109.6 247.6h0M109.8 253.4h0M110.1 238.4h0M110.3 250.3h0M110.5 248h0M110.7 243.1h0M110.9 250.3h0M111.1 245.7h0M111.3 256.1h0M111.6 242.9h0M111.8 254.3h0M112 253.3h0M112.2 247.5h0M112.4 241.7h0M112.6 245.2h0M112.8 238.1h0M113 241.3h0M113.3 241.8h0M113.5 247h0M113.7 237.2h0M113.9 247.3h0M114.1 242.3h0M114.3 250h0M114.5 247.9h0M114.8 241.2h0M115 245.8h0M115.2 245.6h0M115.4 241.4h0M115.6 242.8h0M115.8 243.4h0M116 238.6h0M116.3 237.3h0M116.5 245h0M116.7 234.1h0M116.9 248.7h0M117.1 248.2h0M117.3 241.3h0M117.5 245.9h0M117.8 239.3h0M118 247h0M118.2 260.3h0M118.4 246h0M118.6 242.9h0M118.8 243h0M119 235.5h0M119.3 239h0M119.5 241.4h0M119.7 239.5h0M119.9 243.3h0M120.1 249.6h0M120.3 235h0M120.5 239.1h0M120.8 243.3h0M121 236h0M121.2 237.3h0M121.4 245h0M121.6 245.4h0M121.8 243.9h0M122 236.6h0M122.3 245h0M122.5 246.5h0M122.7 239.4h0M122.9 242.2h0M123.1 240.3h0M123.3 240.4h0M123.5 238.8h0M123.8 243.9h0M124 237.2h0M124.2 255.7h0M124.4 245h0M124.6 240.1h0M124.8 253.5h0M125 242.2h0M125.3 229h0M125.5 247.3h0M125.7 245.1h0M125.9 241h0M126.1 241.6h0M126.3 237.9h0M126.5 234.6h0M126.8 235.1h0M127 254.6h0M127.2 237.5h0M127.4 241.7h0M127.6 239.9h0M127.8 236.9h0M128 240.3h0M128.3 238.3h0M128.5 232.7h0M128.7 243.5h0M128.9 244.1h0M129.1 239.5h0M129.3 239.6h0M129.5 244.2h0M129.8 244.6h0M130 251.5h0M130.2 244.7h0M130.4 245.3h0M130.6 237.5h0M130.8 233.6h0M131 247.9h0M131.3 236.5h0M131.5 244.7h0M131.7 241.5h0M131.9 236.6h0M132.1 242.4h0M132.3 250.4h0M132.5 248.6h0M132.8 238.6h0M133 239.7h0M133.2 230.1h0M133.4 234.6h0M133.6 238.1h0M133.8 241.2h0M134 243.6h0M134.3 238.8h0M134.5 247.9h0M134.7 236.4h0M134.9 245.1h0M135.1 235.9h0M135.3 239.5h0M135.5 242.5h0M135.8 245.7h0M136 237.8h0M136.2 239.5h0M136.4 240.4h0M136.6 243.2h0M136.8 249.6h0M137 245.6h0M137.3 240.3h0M137.5 253.7h0M137.7 248.8h0M137.9 249.5h0M138.1 247.8h0M138.3 242.2h0M138.5 237.4h0M138.8 238.3h0M139 243h0M139.2 236.7h0M139.4 241.5h0M139.6 254.1h0M139.8 244.5h0M140 247.2h0M140.3 237.4h0M140.5 250.4h0M140.7 240.9h0M140.9 243.4h0M141.1 244.1h0M141.3 243.4h0M141.5 240.3h0M141.8 246.5h0M142 254.4h0M142.2 241.5h0M142.4 247.9h0M142.6 237.6h0M142.8 245.2h0M143 240.2h0M143.3 251.3h0M143.5 241.4h0M143.7 247.2h0M143.9 244.3h0M144.1 237.4h0M144.3 244.2h0M144.5 244h0M144.8 248.3h0M145 243.1h0M145.2 234.5h0M145.4 238.7h0M145.6 241.4h0M145.8 247.9h0M146 242.3h0M146.3 249.2h0M146.5 242.9h0M146.7 246.5h0M146.9 249.8h0M147.1 245.4h0M147.3 235.5h0M147.5 250.7h0M147.7 243.5h0M148 249h0M148.2 229.8h0M148.4 244.6h0M148.6 244.5h0M148.8 242.3h0M149 244.2h0M149.2 239.4h0M149.5 239.9h0M149.7 243.6h0M149.9 243.8h0M150.1 249h0M150.3 247.1h0M150.5 241.3h0M150.7 251.3h0M151 243.4h0M151.2 248.1h0M151.4 254.3h0M151.6 245.6h0M151.8 242.8h0M152 257h0M152.2 244.1h0M152.5 241.7h0M152.7 243.6h0M152.9 234.1h0M153.1 253.9h0M153.3 251.7h0M153.5 251.7h0M153.7 248.9h0M154 244.9h0M154.2 243.2h0M154.4 241.9h0M154.6 250h0M154.8 251.1h0M155 250.4h0M155.2 240.6h0M155.5 256h0M155.7 242.2h0M155.9 246.4h0M156.1 246.2h0M156.3 244.1h0M156.5 236.1h0M156.7 243.2h0M157 248.3h0M157.2 258.3h0M157.4 252.2h0M157.6 257.8h0M157.8 251h0M158 257.1h0M158.2 267.2h0M158.5 272.1h0M158.7 264.8h0M158.9 266.4h0M159.1 264.6h0M159.3 263.7h0M159.5 265.4h0M159.7 270.8h0M160 262.3h0M160.2 260.2h0M160.4 269.6h0M160.6 263.5h0M160.8 269h0M161 261.5h0M161.2 268.7h0M161.5 265.3h0M161.7 264.7h0M161.9 271.4h0M162.1 264.4h0M162.3 254.9h0M162.5 261.2h0M162.7 266.6h0M163 276.8h0M163.2 266.1h0M163.4 261.8h0M163.6 265.2h0M163.8 273.9h0M164 270.3h0M164.2 271.1h0M164.5 271.5h0M164.7 276.8h0M164.9 261.7h0M165.1 275.8h0M165.3 272h0M165.5 263.7h0M165.7 272.7h0M166 276.3h0M166.2 267.7h0M166.4 274.5h0M166.6 257.6h0M166.8 261h0M167 271.7h0M167.2 269.5h0M167.5 272.7h0M167.7 271.9h0M167.9 273.8h0M168.1 261.3h0M168.3 261.3h0M168.5 275.3h0M168.7 271h0M169 269.5h0M169.2 268.3h0M169.4 278h0M169.6 265.4h0M169.8 271.4h0M170 277.1h0M170.2 266.1h0M170.5 266.1h0M170.7 267.4h0M170.9 258.4h0M171.1 275.1h0M171.3 274.3h0M171.5 278.8h0M171.7 268.9h0M172 271.3h0M172.2 272.7h0M172.4 277.9h0M172.6 270.8h0M172.8 271.5h0M173 265.3h0M173.2 270.7h0M173.5 268.7h0M173.7 274.2h0M173.9 272.3h0M174.1 261.9h0M174.3 262h0M174.5 269.4h0M174.7 265.1h0M175 268.6h0M175.2 272.6h0M175.4 259.2h0M175.6 267.5h0M175.8 259.7h0M176 264.1h0M176.2 263h0M176.5 257.3h0M176.7 249.2h0M176.9 257.9h0M177.1 251.9h0M177.3 257.7h0M177.5 255.8h0M177.7 258.6h0M178 255h0M178.2 240.2h0M178.4 239.6h0M178.6 242.5h0M178.8 246h0M179 247.9h0M179.2 242.9h0M179.5 248.3h0M179.7 241.4h0M179.9 252.2h0M180.1 244h0M180.3 243.5h0M180.5 243.7h0M180.7 246.4h0M181 254.2h0M181.2 247.3h0M181.4 251.4h0M181.6 242.2h0M181.8 249.7h0M182 250.2h0M182.2 251.5h0M182.4 241h0M182.7 241.3h0M182.9 246.2h0M183.1 249.1h0M183.3 241.4h0M183.5 246.8h0M183.7 254.2h0M183.9 235.2h0M184.2 238.9h0M184.4 244.5h0M184.6 248.1h0M184.8 245.3h0M185 248.2h0M185.2 253h0M185.4 242.9h0M185.7 240.9h0M185.9 252.8h0M186.1 236.3h0M186.3 249.9h0M186.5 252.3h0M186.7 246.8h0M186.9 242.2h0M187.2 246h0M187.4 242.1h0M187.6 255.7h0M187.8 248.3h0M188 245.3h0M188.2 247.2h0M188.4 247.6h0M188.7 243.1h0M188.9 246.5h0M189.1 240.5h0M189.3 239.3h0M189.5 238.8h0M189.7 237.1h0M189.9 245.8h0M190.2 241.5h0M190.4 243.5h0M190.6 247.7h0M190.8 241.1h0M191 244.8h0M191.2 241.3h0M191.4 226.8h0M191.7 239.8h0M191.9 252.2h0M192.1 241.6h0M192.3 250.1h0M192.5 238.4h0M192.7 248.2h0M192.9 246.2h0M193.2 243h0M193.4 249.4h0M193.6 246.5h0M193.8 244.2h0M194 243.1h0M194.2 246.1h0M194.4 244.3h0M194.7 239.2h0M194.9 239.6h0M195.1 242.4h0M195.3 236.9h0M195.5 232.7h0M195.7 247.6h0M195.9 240h0M196.2 255.2h0M196.4 244.1h0M196.6 247.2h0M196.8 246.9h0M197 243h0M197.2 240.8h0M197.4 234.1h0M197.7 236.7h0M197.9 235.3h0M198.1 234.7h0M198.3 234.2h0M198.5 243.4h0M198.7 231.6h0M198.9 250.8h0M199.2 237.7h0M199.4 245.8h0M199.6 243.6h0M199.8 244.3h0M200 241.5h0M200.2 240.9h0M200.4 242.6h0M200.7 246.7h0M200.9 245.7h0M201.1 243h0M201.3 234.1h0M201.5 237.2h0M201.7 242.3h0M201.9 248.2h0M202.2 249.7h0M202.4 238.7h0M202.6 243.7h0M202.8 238.8h0M203 236.8h0M203.2 242.2h0M203.4 244.9h0M203.7 243h0M203.9 229.2h0M204.1 247.9h0M204.3 230.4h0M204.5 247.4h0M204.7 249.3h0M204.9 258.6h0M205.2 233.8h0M205.4 238.9h0M205.6 240.8h0M205.8 244h0M206 239.1h0M206.2 247.6h0M206.4 239.3h0M206.7 241.8h0M206.9 239.8h0M207.1 245.8h0M207.3 244.5h0M207.5 227h0M207.7 246.3h0M207.9 236.6h0M208.2 237.1h0M208.4 238.2h0M208.6 241h0M208.8 245.5h0M209 245.5h0M209.2 234.4h0M209.4 242h0M209.7 248.2h0M209.9 247.5h0M210.1 243.6h0M210.3 238.7h0M210.5 246h0M210.7 241.4h0M210.9 235.4h0M211.2 229.4h0M211.4 245.6h0M211.6 249.4h0M211.8 253.7h0M212 250.3h0M212.2 245.6h0M212.4 242.6h0M212.7 244.3h0M212.9 246.9h0M213.1 237h0M213.3 244.1h0M213.5 241.4h0M213.7 247.2h0M213.9 249.1h0M214.2 232h0M214.4 234.9h0M214.6 243.4h0M214.8 246.4h0M215 239h0M215.2 244.2h0M215.4 247.5h0M215.7 240.8h0M215.9 240.3h0M216.1 245.6h0M216.3 250.1h0M216.5 240.6h0M216.7 246.9h0M216.9 245.2h0M217.1 239.1h0M217.4 254.2h0M217.6 239.1h0M217.8 245.1h0M218 247.5h0M218.2 242.8h0M218.4 234.8h0M218.6 244.9h0M218.9 243.8h0M219.1 242.4h0M219.3 250.6h0M219.5 240.2h0M219.7 243h0M219.9 245.6h0M220.1 252.8h0M220.4 239.2h0M220.6 246.1h0M220.8 235.2h0M221 241.5h0M221.2 243.6h0M221.4 238.2h0M221.6 248.2h0M221.9 246.7h0M222.1 241.3h0M222.3 246.1h0M222.5 241.7h0M222.7 244.1h0M222.9 244.5h0M223.1 253.1h0M223.4 241h0M223.6 248.9h0M223.8 252.2h0M224 246.6h0M224.2 249.6h0M224.4 257.3h0M224.6 240.6h0M224.9 240.5h0M225.1 249.8h0M225.3 246.9h0M225.5 255h0M225.7 244.6h0M225.9 247.5h0M226.1 250.6h0M226.4 235.8h0M226.6 254.9h0M226.8 247.7h0M227 242.7h0M227.2 244.3h0M227.4 244.9h0M227.6 254.9h0M227.9 243.1h0M228.1 255h0M228.3 244.8h0M228.5 250.4h0M228.7 246.1h0M228.9 248h0M229.1 253.5h0M229.4 247.9h0M229.6 245.2h0M229.8 253.7h0M230 259.5h0M230.2 247.6h0M230.4 247.3h0M230.6 245.8h0M230.9 241.6h0M231.1 244.9h0M231.3 250.9h0M231.5 245.6h0M231.7 250.8h0M231.9 250.1h0M232.1 252.5h0M232.4 257.3h0M232.6 248.9h0M232.8 242h0M233 250.6h0M233.2 252.5h0M233.4 259.1h0M233.6 249.9h0M233.9 246h0M234.1 244.8h0M234.3 252.9h0M234.5 248.6h0M234.7 255.3h0M234.9 257.2h0M235.1 250.1h0M235.4 253.3h0M235.6 250.5h0M235.8 253.5h0M236 243h0M236.2 245.8h0M236.4 259.2h0M236.6 242.5h0M236.9 246.2h0M237.1 257.3h0M237.3 251.7h0M237.5 257.1h0M237.7 257.1h0M237.9 272.4h0M238.1 266.4h0M238.4 278.2h0M238.6 273.3h0M238.8 265.9h0M239 277.9h0M239.2 269.9h0M239.4 287.4h0M239.6 272.9h0M239.9 293h0M240.1 292.8h0M240.3 298.8h0M240.5 293.2h0M240.7 292.4h0M240.9 288.8h0M241.1 287.5h0M241.4 286.9h0M241.6 289.1h0M241.8 289.7h0M242 303.5h0M242.2 293.2h0M242.4 286.1h0M242.6 298.2h0M242.9 291.4h0M243.1 287.1h0M243.3 291.5h0M243.5 287.3h0M243.7 293.8h0M243.9 289.2h0M244.1 296.6h0M244.4 284.3h0M244.6 292.1h0M244.8 283.9h0M245 300.9h0M245.2 284.6h0M245.4 301.6h0M245.6 289.6h0M245.9 296.6h0M246.1 286.6h0M246.3 289.3h0M246.5 298.6h0M246.7 283.8h0M246.9 294.2h0M247.1 282.3h0M247.4 302.4h0M247.6 296.8h0M247.8 281.1h0M248 289.1h0M248.2 296.8h0M248.4 303.4h0M248.6 290.7h0M248.9 280.9h0M249.1 297.8h0M249.3 286.7h0M249.5 290.9h0M249.7 288.3h0M249.9 283.1h0M250.1 293.6h0M250.4 299.2h0M250.6 291.4h0M250.8 290.8h0M251 287.3h0M251.2 292.6h0M251.4 284.6h0M251.6 284.1h0M251.8 282.8h0M252.1 282.4h0M252.3 291.9h0M252.5 282h0M252.7 300.5h0M252.9 289.5h0M253.1 287.6h0M253.3 288.8h0M253.6 298.7h0M253.8 277.4h0M254 290.2h0M254.2 299.8h0M254.4 296.1h0M254.6 291.9h0M254.8 288h0M255.1 312.4h0M255.3 282h0M255.5 300.7h0M255.7 283.1h0M255.9 277.2h0M256.1 283.3h0M256.3 278.3h0M256.6 264.7h0M256.8 275.4h0M257 286.6h0M257.2 269.7h0M257.4 270.4h0M257.6 265.3h0M257.8 262.8h0M258.1 261.7h0M258.3 258.7h0M258.5 255.3h0M258.7 254.8h0M258.9 252.6h0M259.1 250.7h0M259.3 241.4h0M259.6 244.9h0M259.8 243.1h0M260 248h0M260.2 257.8h0M260.4 250.8h0M260.6 246.9h0M260.8 260.3h0M261.1 253.6h0M261.3 245.3h0M261.5 251.7h0M261.7 254.6h0M261.9 254.2h0M262.1 245.6h0M262.3 250.1h0M262.6 245.1h0M262.8 241.3h0M263 251.5h0M263.2 237.7h0M263.4 247.6h0M263.6 253.6h0M263.8 251.8h0M264.1 248.1h0M264.3 250.4h0M264.5 264.4h0M264.7 255.5h0M264.9 250.5h0M265.1 252.2h0M265.3 244.4h0M265.6 247.3h0M265.8 248h0M266 253.7h0M266.2 252.6h0M266.4 248.6h0M266.6 252.6h0M266.8 248.4h0M267.1 246.9h0M267.3 251h0M267.5 249.3h0M267.7 260.4h0M267.9 240.8h0M268.1 253h0M268.3 242.6h0M268.6 251.9h0M268.8 242.1h0M269 238.1h0M269.2 256h0M269.4 246.4h0M269.6 256.2h0M269.8 243.3h0M270.1 242.7h0M270.3 253.8h0M270.5 243.6h0M270.7 247.2h0M270.9 241.9h0M271.1 245.4h0M271.3 234.6h0M271.6 244.4h0M271.8 245.7h0M272 251.4h0M272.2 251.6h0M272.4 245.7h0M272.6 246.6h0M272.8 245.8h0M273.1 257.7h0M273.3 242.1h0M273.5 250.5h0M273.7 246.5h0M273.9 238.9h0M274.1 248.8h0M274.3 252.1h0M274.6 247.4h0M274.8 239.3h0M275 248.7h0M275.2 248.9h0M275.4 243h0M275.6 250.2h0M275.8 236.4h0M276.1 238.5h0M276.3 243.1h0M276.5 245h0M276.7 249.8h0M276.9 250h0M277.1 240.6h0M277.3 250.3h0M277.6 245.9h0M277.8 249.2h0M278 243.9h0M278.2 243h0M278.4 239.9h0M278.6 233.6h0M278.8 239.9h0M279.1 236.2h0M279.3 245h0M279.5 244.5h0M279.7 245.9h0M279.9 245.6h0M280.1 246.4h0M280.3 240.8h0M280.6 241.7h0M280.8 245.9h0M281 251.4h0M281.2 233.7h0M281.4 237.3h0M281.6 241.7h0M281.8 237.5h0M282.1 240h0M282.3 243h0M282.5 238.5h0M282.7 247.6h0M282.9 246.5h0M283.1 246.8h0M283.3 240.5h0M283.6 246.8h0M283.8 226.4h0M284 246.9h0M284.2 237.4h0M284.4 254.2h0M284.6 238.7h0M284.8 244.2h0M285.1 234.3h0M285.3 235.9h0M285.5 243.4h0M285.7 244.4h0M285.9 250.6h0M286.1 246.8h0M286.3 249h0M286.5 252.8h0M286.8 228.6h0M287 250.1h0M287.2 237.6h0M287.4 243.7h0M287.6 241.3h0M287.8 246.7h0M288 246.4h0M288.3 244.9h0M288.5 239.3h0M288.7 231.6h0M288.9 242h0M289.1 241.4h0M289.3 241.8h0M289.5 244.7h0M289.8 252.2h0M290 247.7h0M290.2 244.1h0M290.4 238.8h0M290.6 234.9h0M290.8 249.9h0M291 245.5h0M291.3 242h0M291.5 233.3h0M291.7 239.8h0M291.9 245.2h0M292.1 244.1h0M292.3 239.4h0M292.5 242.9h0M292.8 240.5h0M293 239.7h0M293.2 249.4h0M293.4 245.8h0M293.6 243.6h0M293.8 239.4h0M294 249.3h0M294.3 234.5h0M294.5 243.2h0M294.7 235.9h0M294.9 230.3h0M295.1 239.2h0M295.3 230.4h0M295.5 239.9h0M295.8 233.9h0M296 241.5h0M296.2 238.7h0M296.4 233h0M296.6 239.1h0M296.8 237.2h0M297 249.6h0M297.3 249.3h0M297.5 245.9h0M297.7 246.6h0M297.9 255h0M298.1 243.4h0M298.3 243h0M298.5 250.8h0M298.8 245.6h0M299 237.3h0M299.2 251h0M299.4 243.5h0M299.6 250.3h0M299.8 251.2h0M300 240.6h0M300.3 242.9h0M300.5 245.9h0M300.7 235.9h0M300.9 237.5h0M301.1 243.7h0M301.3 242.8h0M301.5 237.9h0M301.8 242.5h0M302 245.1h0M302.2 239.2h0M302.4 238.7h0M302.6 242.2h0M302.8 237.1h0M303 238.3h0M303.3 240.9h0M303.5 232.3h0M303.7 239.9h0M303.9 244.3h0M304.1 236.2h0M304.3 249.4h0M304.5 245h0M304.8 250.6h0M305 243h0M305.2 247h0M305.4 243.1h0M305.6 237.7h0M305.8 246.9h0M306 239.7h0M306.3 246.8h0M306.5 238.3h0M306.7 240.9h0M306.9 242.3h0M307.1 250.8h0M307.3 242.4h0M307.5 250.2h0M307.8 247.1h0M308 252.6h0M308.2 242.2h0M308.4 249.7h0M308.6 249.5h0M308.8 248.3h0M309 246.1h0M309.3 252.5h0M309.5 237.3h0M309.7 249h0M309.9 241.8h0M310.1 247.8h0M310.3 249.7h0M310.5 247h0M310.8 243.6h0M311 240h0M311.2 237.2h0M311.4 241.3h0M311.6 247.7h0M311.8 237h0M312 259.4h0M312.3 245h0M312.5 241.1h0M312.7 251.1h0M312.9 251.5h0M313.1 247.8h0M313.3 241.5h0M313.5 246.1h0M313.8 252.1h0M314 250h0M314.2 236.3h0M314.4 250.2h0M314.6 255.4h0M314.8 242.1h0M315 235.6h0M315.3 241.8h0M315.5 246.6h0M315.7 245.1h0M315.9 245.1h0M316.1 229.4h0M316.3 242.4h0M316.5 242.2h0M316.8 245.8h0M317 252.4h0M317.2 241.9h0M317.4 252.3h0M317.6 254.5h0M317.8 254h0M318 247.2h0M318.3 258.9h0M318.5 250.9h0M318.7 253.5h0M318.9 247.9h0M319.1 252.4h0M319.3 254.4h0M319.5 268.4h0M319.8 264.2h0M320 264.4h0M320.2 261.4h0M320.4 261.5h0M320.6 258.9h0M320.8 262.9h0M321 272.9h0M321.2 264.7h0M321.5 277.3h0M321.7 269.5h0M321.9 264.7h0M322.1 274h0M322.3 267h0M322.5 273h0M322.7 264.8h0M323 275.7h0M323.2 270.1h0M323.4 269.1h0M323.6 273.2h0M323.8 265.2h0M324 256.6h0M324.2 263.6h0M324.5 273.2h0M324.7 276.8h0M324.9 260.9h0M325.1 271.2h0M325.3 262.8h0M325.5 261.1h0M325.7 259h0M326 278.2h0M326.2 270.8h0M326.4 266.7h0M326.6 271.5h0M326.8 259.5h0M327 270.6h0M327.2 267.9h0M327.5 266.7h0M327.7 274.6h0M327.9 268.6h0M328.1 268.7h0M328.3 266h0M328.5 264.1h0M328.7 267.8h0M329 276.6h0M329.2 257.5h0M329.4 262.3h0M329.6 264.9h0M329.8 271.6h0M330 264.3h0M330.2 271.3h0M330.5 256.2h0M330.7 262.1h0M330.9 271.8h0M331.1 254.6h0M331.3 269.3h0M331.5 275.1h0M331.7 271.6h0M332 271.9h0M332.2 264.9h0M332.4 264.4h0M332.6 273.2h0M332.8 269.3h0M333 277.2h0M333.2 269.7h0M333.5 268.3h0M333.7 267.5h0M333.9 275.4h0M334.1 272.8h0M334.3 264.5h0M334.5 270.4h0M334.7 262.3h0M335 272h0M335.2 265.3h0M335.4 274.4h0M335.6 274.5h0M335.8 270.6h0M336 257.1h0M336.2 262.5h0M336.5 266.7h0M336.7 266h0M336.9 266.1h0M337.1 269.2h0M337.3 259.2h0M337.5 255.6h0M337.7 254h0M338 266.3h0M338.2 263.5h0M338.4 254.4h0M338.6 255.1h0M338.8 261h0M339 250.4h0M339.2 254.6h0M339.5 253.6h0M339.7 249h0M339.9 250.6h0M340.1 252.1h0M340.3 243.6h0M340.5 236.3h0M340.7 244.8h0M341 237.1h0M341.2 235.9h0M341.4 249.3h0M341.6 239.7h0M341.8 242.6h0M342 246h0M342.2 240h0M342.5 248.5h0M342.7 255.7h0M342.9 240.2h0M343.1 244.7h0M343.3 230.3h0M343.5 239.7h0M343.7 254.3h0M344 244.2h0M344.2 242h0M344.4 247.2h0M344.6 242.8h0M344.8 252.7h0M345 243.7h0M345.2 240.7h0M345.5 242.6h0M345.7 229.6h0M345.9 246.7h0M346.1 247.2h0M346.3 233.6h0M346.5 228.8h0M346.7 240.6h0M347 245h0M347.2 252.3h0M347.4 238.8h0M347.6 239.1h0M347.8 243.3h0M348 250.8h0M348.2 238.2h0M348.5 241.2h0M348.7 239.1h0M348.9 248.5h0M349.1 251.7h0M349.3 255h0M349.5 252.5h0M349.7 248.3h0M350 240.1h0M350.2 246h0M350.4 250.3h0M350.6 247h0M350.8 238.3h0M351 241.6h0M351.2 240.7h0M351.5 248.6h0M351.7 244.5h0M351.9 240.7h0M352.1 246.8h0M352.3 245.2h0M352.5 239.2h0M352.7 248.9h0M353 243.3h0M353.2 242h0M353.4 237.2h0M353.6 243.3h0M353.8 245.4h0M354 229.8h0M354.2 238.4h0M354.5 240.5h0M354.7 245.1h0M354.9 234.9h0M355.1 253.2h0M355.3 240.5h0M355.5 236.9h0M355.7 241h0M355.9 246.6h0M356.2 241.6h0M356.4 237.5h0M356.6 242.9h0M356.8 243.3h0M357 242.2h0M357.2 236h0M357.4 243.2h0M357.7 264.1h0M357.9 240.2h0M358.1 242.5h0M358.3 229.5h0M358.5 241.2h0M358.7 242.9h0M358.9 238.5h0M359.2 240h0M359.4 235.2h0M359.6 245.4h0M359.8 240.9h0M360 234h0M360.2 238.7h0M360.4 242.2h0M360.7 241.7h0M360.9 254.7h0M361.1 240h0M361.3 241.1h0M361.5 235.7h0M361.7 243.7h0M361.9 235.7h0M362.2 243.2h0M362.4 236.7h0M362.6 235.7h0M362.8 235.9h0M363 251.8h0M363.2 234h0M363.4 246.3h0M363.7 240.9h0M363.9 228.8h0M364.1 238.9h0M364.3 236.3h0M364.5 242.6h0M364.7 247.1h0M364.9 251.8h0M365.2 237.6h0M365.4 237.5h0M365.6 236.9h0M365.8 240.7h0M366 236.2h0M366.2 250.6h0M366.4 240.2h0M366.7 239.4h0M366.9 223.6h0M367.1 241.7h0M367.3 235h0M367.5 254.1h0M367.7 244.3h0M367.9 238.7h0M368.2 243.8h0M368.4 251.8h0M368.6 243.1h0M368.8 245.5h0M369 232.1h0M369.2 236.7h0M369.4 234.1h0M369.7 243.5h0M369.9 232.8h0M370.1 231.4h0M370.3 234.1h0M370.5 240.2h0M370.7 244.5h0M370.9 250.3h0M371.2 248.5h0M371.4 242.2h0M371.6 242.6h0M371.8 231h0M372 248.3h0M372.2 236.9h0M372.4 239.3h0M372.7 241.4h0M372.9 236.1h0M373.1 240.3h0M373.3 247.2h0M373.5 249.6h0M373.7 252.8h0M373.9 247h0M374.2 239.1h0M374.4 244.8h0M374.6 236.3h0M374.8 228.5h0M375 245h0M375.2 239.5h0M375.4 239.5h0M375.7 236.1h0M375.9 253.1h0M376.1 242.9h0M376.3 249.7h0M376.5 251.2h0M376.7 244h0M376.9 246.3h0M377.2 251.2h0M377.4 232h0M377.6 241.1h0M377.8 239.1h0M378 245.3h0M378.2 239.7h0M378.4 243.1h0M378.7 239.5h0M378.9 237.9h0M379.1 245.5h0M379.3 248.9h0M379.5 244.9h0M379.7 235.4h0M379.9 238.8h0M380.2 247.7h0M380.4 241.3h0M380.6 248.1h0M380.8 243.9h0M381 252.1h0M381.2 238.1h0M381.4 245.1h0M381.7 248.8h0M381.9 246.9h0M382.1 236.7h0M382.3 239.5h0M382.5 241.7h0M382.7 237.7h0M382.9 241.5h0M383.2 241.4h0M383.4 242.3h0M383.6 242.3h0M383.8 240.1h0M384 249.2h0M384.2 250.6h0M384.4 244.1h0M384.7 252.4h0M384.9 252.1h0M385.1 243.2h0M385.3 255.4h0M385.5 254h0M385.7 250.7h0M385.9 243.8h0M386.2 247.9h0M386.4 243h0M386.6 250.4h0M386.8 244.6h0M387 239.7h0M387.2 239.8h0M387.4 243.1h0M387.7 241h0M387.9 249.2h0M388.1 250.9h0M388.3 247.5h0M388.5 244.5h0M388.7 245.2h0M388.9 243.7h0M389.2 242h0M389.4 249.6h0M389.6 250.9h0M389.8 250.1h0M390 241.3h0M390.2 240.1h0M390.4 248.9h0M390.6 262.9h0M390.9 247.6h0M391.1 242.8h0M391.3 255.8h0M391.5 247.8h0M391.7 245.7h0M391.9 241h0M392.1 251.9h0M392.4 245.2h0M392.6 243h0M392.8 246.2h0M393 254.2h0M393.2 252.7h0M393.4 241.7h0M393.6 236.9h0M393.9 257.2h0M394.1 248.8h0M394.3 260.1h0M394.5 250.7h0M394.7 251.5h0M394.9 248.5h0M395.1 249h0M395.4 250.2h0M395.6 249.2h0M395.8 258.1h0M396 248h0M396.2 247.2h0M396.4 255.9h0M396.6 244h0M396.9 247.7h0M397.1 249.7h0M397.3 240.8h0M397.5 251.9h0M397.7 248.9h0M397.9 254.4h0M398.1 253h0M398.4 244.4h0M398.6 248.4h0M398.8 254.5h0M399 260h0M399.2 263.1h0M399.4 265.2h0M399.6 272.3h0M399.9 264.7h0M400.1 258.7h0M400.3 285.3h0M400.5 279.1h0M400.7 282h0M400.9 288.8h0M401.1 280h0M401.4 291.8h0M401.6 289.5h0M401.8 285.9h0M402 291.3h0M402.2 298.4h0M402.4 291.9h0M402.6 289.4h0M402.9 299.3h0M403.1 293.6h0M403.3 301.6h0M403.5 297.8h0M403.7 291.4h0M403.9 280h0M404.1 288.8h0M404.4 296.9h0M404.6 283.4h0M404.8 304.2h0M405 276.2h0M405.2 293.1h0M405.4 296.7h0M405.6 285.4h0M405.9 277.8h0M406.1 287.1h0M406.3 287.6h0M406.5 295.1h0M406.7 289.8h0M406.9 291.3h0M407.1 289.2h0M407.4 298.5h0M407.6 287.4h0M407.8 289.1h0M408 291.6h0M408.2 306.3h0M408.4 272.2h0M408.6 277.5h0M408.9 286.5h0M409.1 284.7h0M409.3 289.5h0M409.5 294.4h0M409.7 286.7h0M409.9 288.7h0M410.1 286.1h0M410.4 289.1h0M410.6 285.9h0M410.8 301.6h0M411 297.4h0M411.2 289.7h0M411.4 294.4h0M411.6 287.6h0M411.9 290.3h0M412.1 291.4h0M412.3 283.8h0M412.5 290.7h0M412.7 286.9h0M412.9 293.4h0M413.1 284.5h0M413.4 287.1h0M413.6 293.7h0M413.8 299.2h0M414 293.7h0M414.2 292.5h0M414.4 282.3h0M414.6 287.3h0M414.9 291.5h0M415.1 290.2h0M415.3 291.1h0M415.5 298.3h0M415.7 298.4h0M415.9 287.6h0M416.1 285.9h0M416.4 281.3h0M416.6 291.1h0M416.8 294.2h0M417 295.4h0M417.2 281.5h0M417.4 280.4h0M417.6 275.7h0M417.9 290.8h0M418.1 285.1h0M418.3 270.5h0M418.5 271.9h0M418.7 263.5h0M418.9 263.1h0M419.1 275.5h0M419.4 258.8h0M419.6 256.6h0M419.8 255.2h0M420 244.9h0M420.2 241.2h0M420.4 238.5h0M420.6 256.2h0M420.9 245.7h0M421.1 246.6h0M421.3 255.3h0M421.5 243.6h0M421.7 247.3h0M421.9 245.2h0M422.1 252h0M422.4 248.2h0M422.6 239.6h0M422.8 255.3h0M423 256.9h0M423.2 251.2h0M423.4 247.6h0M423.6 248.5h0M423.9 242.3h0M424.1 247h0M424.3 255h0M424.5 250.5h0M424.7 240.9h0M424.9 240.7h0M425.1 246.9h0M425.3 255.7h0M425.6 250.9h0M425.8 248.2h0M426 253.3h0M426.2 243.9h0M426.4 250.2h0M426.6 246.2h0M426.8 241.4h0M427.1 253.5h0M427.3 240.4h0M427.5 247.5h0M427.7 253.6h0M427.9 240.3h0M428.1 254.9h0M428.3 255.5h0M428.6 252.1h0M428.8 246h0M429 245.9h0M429.2 245.9h0M429.4 247.4h0M429.6 241.9h0M429.8 248.9h0M430.1 255.5h0M430.3 226.8h0M430.5 256.4h0M430.7 240.6h0M430.9 241.8h0M431.1 244.1h0M431.3 252.9h0M431.6 247.6h0M431.8 255.9h0M432 249.6h0M432.2 253.4h0M432.4 243.6h0M432.6 249h0M432.8 236h0M433.1 230.9h0M433.3 259.7h0M433.5 245.3h0M433.7 249.4h0M433.9 250.6h0M434.1 249.6h0M434.3 237.6h0M434.6 246.4h0M434.8 258.4h0M435 251.3h0M435.2 242.8h0M435.4 245.3h0M435.6 242.2h0M435.8 246h0M436.1 245.5h0M436.3 244.8h0M436.5 240.4h0M436.7 234.5h0M436.9 247.3h0M437.1 245.7h0M437.3 247.5h0M437.6 250.9h0M437.8 243h0M438 251.2h0M438.2 243.4h0M438.4 249.9h0M438.6 248h0M438.8 239.7h0M439.1 251.5h0M439.3 246.9h0M439.5 244.7h0M439.7 243.4h0M439.9 246.3h0M440.1 239.6h0M440.3 236.7h0M440.6 243.4h0M440.8 248.4h0M441 242.7h0M441.2 247.8h0M441.4 234.7h0M441.6 252.9h0M441.8 244.8h0M442.1 241.8h0M442.3 243.5h0M442.5 245.2h0M442.7 243.6h0M442.9 245.2h0M443.1 235.7h0M443.3 246.4h0M443.6 241.9h0M443.8 236.5h0M444 247.5h0M444.2 242.8h0M444.4 251.7h0M444.6 239.3h0M444.8 250.3h0M445.1 245.9h0M445.3 238.2h0M445.5 247.7h0M445.7 245.6h0M445.9 248h0M446.1 239.2h0M446.3 228.5h0M446.6 239.7h0M446.8 242.9h0M447 247.4h0M447.2 248.9h0M447.4 249.3h0M447.6 245.4h0M447.8 242.9h0M448.1 239.5h0M448.3 244.8h0M448.5 256.3h0M448.7 243.3h0M448.9 239.7h0M449.1 245.8h0M449.3 239.5h0M449.6 238h0M449.8 238.5h0M450 244.7h0M450.2 238.5h0M450.4 247.4h0M450.6 235.6h0M450.8 243h0M451.1 239.4h0M451.3 234.6h0M451.5 240.9h0M451.7 243.8h0M451.9 244.9h0M452.1 239.7h0M452.3 235.2h0M452.6 237.2h0M452.8 238.2h0M453 251.8h0M453.2 234.3h0M453.4 240.6h0M453.6 253.9h0M453.8 241.6h0M454.1 254.8h0M454.3 249.5h0M454.5 246.1h0M454.7 244.3h0M454.9 231.6h0M455.1 237.8h0M455.3 240.1h0M455.6 248.4h0M455.8 248h0M456 234.6h0M456.2 227.5h0M456.4 236.9h0M456.6 252.4h0M456.8 242h0M457.1 241.6h0M457.3 245.5h0M457.5 239.9h0M457.7 243.4h0M457.9 236.8h0M458.1 237.2h0M458.3 244.7h0M458.6 242.9h0M458.8 245.9h0M459 242.3h0M459.2 247.4h0M459.4 244.4h0M459.6 244h0M459.8 248.3h0M460 242.8h0M460.3 235.6h0M460.5 237.4h0M460.7 240.9h0M460.9 248.3h0M461.1 239.2h0M461.3 240.8h0M461.5 249.7h0M461.8 251h0M462 234.7h0M462.2 236.1h0M462.4 241.8h0M462.6 242.5h0M462.8 239.6h0M463 234.4h0M463.3 255.2h0M463.5 245h0M463.7 251.3h0M463.9 247.7h0M464.1 246.6h0M464.3 233.5h0M464.5 245.3h0M464.8 244.4h0M465 244.4h0M465.2 239.3h0M465.4 236.6h0M465.6 244h0M465.8 247.4h0M466 249.5h0M466.3 244.9h0M466.5 234h0M466.7 241.8h0M466.9 241h0M467.1 239.9h0M467.3 237.1h0M467.5 247.4h0M467.8 240h0M468 244.5h0M468.2 247.2h0M468.4 239.6h0M468.6 242.4h0M468.8 240.4h0M469 253.4h0M469.3 240h0M469.5 235.6h0M469.7 249.7h0M469.9 230.7h0M470.1 252.6h0M470.3 247.3h0M470.5 247h0M470.8 247.3h0M471 245.4h0M471.2 247.5h0M471.4 230.8h0M471.6 242.9h0M471.8 238.1h0M472 233.8h0M472.3 237.7h0M472.5 242.6h0M472.7 246h0M472.9 240.1h0M473.1 239.3h0M473.3 252.9h0M473.5 249.7h0M473.8 239.9h0M474 240h0M474.2 245.5h0M474.4 249.6h0M474.6 241.8h0M474.8 244.2h0M475 250.1h0M475.3 236.3h0M475.5 239.3h0M475.7 243.6h0M475.9 239.2h0M476.1 246.2h0M476.3 248.3h0M476.5 243.3h0M476.8 242.1h0M477 252.6h0M477.2 246.3h0M477.4 240.5h0M477.6 247h0M477.8 249.5h0M478 244.6h0M478.3 235.3h0M478.5 240.3h0M478.7 239.5h0M478.9 255.7h0M479.1 244.2h0M479.3 260h0M479.5 251.8h0M479.8 253.7h0M480 256.2h0M480.2 265.4h0M480.4 252h0M480.6 257.2h0M480.8 259.3h0M481 264.1h0M481.3 259.4h0M481.5 263.9h0M481.7 268.5h0M481.9 262h0M482.1 272h0M482.3 265.2h0M482.5 264.8h0M482.8 269.6h0M483 264.5h0M483.2 269h0M483.4 263.4h0M483.6 260.3h0M483.8 269h0M484 271.4h0M484.3 262.7h0M484.5 272.3h0M484.7 265.2h0M484.9 279.4h0M485.1 266.2h0M485.3 270.6h0M485.5 267.5h0M485.8 267h0M486 263.1h0M486.2 275.7h0M486.4 267.2h0M486.6 264.7h0M486.8 274.5h0M487 274.1h0M487.3 264.6h0M487.5 272.2h0M487.7 274.9h0M487.9 269.8h0M488.1 261.7h0M488.3 268.3h0M488.5 264.7h0M488.8 262h0M489 270h0M489.2 272.4h0M489.4 256.3h0M489.6 266.6h0M489.8 264.1h0M490 270.9h0M490.3 265.5h0M490.5 261.1h0M490.7 276.5h0M490.9 267.7h0M491.1 276.1h0M491.3 269.8h0M491.5 263.6h0M491.8 260.7h0M492 260.4h0M492.2 266.9h0M492.4 269.2h0M492.6 275.8h0M492.8 261.8h0M493 268.8h0M493.3 272.5h0M493.5 275.9h0M493.7 273.6h0M493.9 265h0M494.1 271.9h0M494.3 260.9h0M494.5 268.6h0M494.7 266.1h0M495 279.8h0M495.2 273.4h0M495.4 267h0M495.6 266.1h0M495.8 266.1h0M496 270.9h0M496.2 265.7h0M496.5 266.4h0M496.7 262h0M496.9 269.8h0M497.1 270.2h0M497.3 260.6h0M497.5 269.5h0M497.7 264.5h0M498 269.7h0M498.2 269.9h0M498.4 261h0M498.6 266.6h0M498.8 268.8h0M499 255.1h0M499.2 260.4h0M499.5 252.8h0M499.7 260.5h0M499.9 246.3h0M500.1 258.8h0M500.3 250.5h0M500.5 254.5h0M500.7 260.7h0M501 247.6h0M501.2 241.1h0M501.4 240.1h0M501.6 250.3h0M501.8 239h0M502 238h0M502.2 248.1h0M502.5 253.3h0M502.7 247.8h0M502.9 256.4h0M503.1 252.9h0M503.3 250.3h0M503.5 248.4h0M503.7 248h0M504 248.2h0M504.2 251.4h0M504.4 246.5h0M504.6 237.4h0M504.8 236h0M505 239.6h0M505.2 245.4h0M505.5 236.7h0M505.7 243.9h0M505.9 246.5h0M506.1 251.4h0M506.3 239.8h0M506.5 239.7h0M506.7 237.7h0M507 238h0M507.2 242.4h0M507.4 252.8h0M507.6 226.6h0M507.8 244.3h0M508 245.7h0M508.2 251.8h0M508.5 251.2h0M508.7 245.8h0M508.9 234.5h0M509.1 239.3h0M509.3 241.8h0M509.5 239.4h0M509.7 247.7h0M510 240.7h0M510.2 237.2h0M510.4 243.2h0M510.6 248h0M510.8 240.2h0M511 237.6h0M511.2 238.8h0M511.5 243.6h0M511.7 244.9h0M511.9 254.6h0M512.1 238.9h0M512.3 247.3h0M512.5 255.4h0M512.7 257.6h0M513 256.2h0M513.2 239.6h0M513.4 244.1h0M513.6 242.7h0M513.8 240.5h0M514 240.1h0M514.2 243h0M514.5 245.7h0M514.7 250.4h0M514.9 250.4h0M515.1 241.4h0M515.3 241.4h0M515.5 248.1h0M515.7 246.7h0M516 240.2h0M516.2 243.2h0M516.4 232.8h0M516.6 244.3h0M516.8 236.1h0M517 244.3h0M517.2 226.6h0M517.5 242.6h0M517.7 235.6h0M517.9 239.3h0M518.1 242.8h0M518.3 238.4h0M518.5 251.1h0M518.7 247.5h0M519 239.9h0M519.2 251.5h0M519.4 241.7h0M519.6 243h0M519.8 251.7h0M520 252.4h0M520.2 242h0M520.5 246h0M520.7 241.3h0M520.9 247.3h0M521.1 240.3h0M521.3 248.1h0M521.5 232.5h0M521.7 243.7h0M522 248.1h0M522.2 242.5h0M522.4 232.2h0M522.6 242.6h0M522.8 235.3h0M523 238.7h0M523.2 241.8h0M523.5 251.1h0M523.7 240.3h0M523.9 234.7h0M524.1 250.9h0M524.3 239.5h0M524.5 237.5h0M524.7 239.6h0M525 239.3h0M525.2 248h0M525.4 228.9h0M525.6 235.9h0M525.8 244.8h0M526 241.3h0M526.2 239.8h0M526.5 229.8h0M526.7 245.2h0M526.9 237.3h0M527.1 248h0M527.3 227.6h0M527.5 242.2h0M527.7 243.4h0M528 249.3h0M528.2 240.8h0M528.4 251.5h0M528.6 241.6h0M528.8 238.3h0M529 241h0M529.2 234.6h0M529.4 240.3h0M529.7 241.3h0M529.9 241.6h0M530.1 240.7h0M530.3 250.8h0M530.5 251.7h0M530.7 247h0M530.9 241.7h0M531.2 249.1h0M531.4 229.3h0M531.6 239.5h0M531.8 238.6h0M532 229.7h0M532.2 249.9h0M532.4 249.1h0M532.7 248.6h0M532.9 236.1h0M533.1 238.9h0M533.3 243.9h0M533.5 242h0M533.7 238.8h0M533.9 255.7h0M534.2 233.7h0M534.4 234.8h0M534.6 235.9h0M534.8 239.5h0M535 241.9h0M535.2 246.9h0M535.4 247.6h0M535.7 240.4h0M535.9 239.8h0M536.1 243.5h0M536.3 257.8h0M536.5 245.6h0M536.7 246.9h0M536.9 248.5h0M537.2 245.7h0M537.4 243.8h0M537.6 232.4h0M537.8 240.9h0M538 236.8h0M538.2 239.5h0M538.4 242.1h0M538.7 245.3h0M538.9 249.7h0M539.1 239.5h0M539.3 247.2h0M539.5 247.8h0M539.7 234h0M539.9 246.5h0M540.2 244.5h0M540.4 234.9h0M540.6 245.8h0M540.8 249h0M541 249.6h0M541.2 242.8h0M541.4 249.8h0M541.7 251.5h0M541.9 249.3h0M542.1 238h0M542.3 250.8h0M542.5 243h0M542.7 243.1h0M542.9 253.2h0M543.2 254.3h0M543.4 254.8h0M543.6 230.4h0M543.8 254.2h0M544 227.5h0M544.2 249.7h0M544.4 239.8h0M544.7 248.3h0M544.9 252.5h0M545.1 252.1h0M545.3 245h0M545.5 232.1h0M545.7 243.3h0M545.9 243.7h0M546.2 247h0M546.4 252.2h0M546.6 242.6h0M546.8 251.4h0M547 242.4h0M547.2 243.9h0M547.4 249.5h0M547.7 251.8h0M547.9 252.8h0M548.1 244.5h0M548.3 239h0M548.5 241.9h0M548.7 259.9h0M548.9 251.9h0M549.2 248.7h0M549.4 243.5h0M549.6 245.2h0M549.8 249.4h0M550 244.6h0M550.2 249h0M550.4 243.5h0M550.7 244.7h0M550.9 254.5h0M551.1 243.7h0M551.3 246.7h0M551.5 243.8h0M551.7 252.2h0M551.9 243.8h0M552.2 247.4h0M552.4 249.5h0M552.6 247.6h0M552.8 252.6h0M553 250.9h0M553.2 250.5h0M553.4 246.6h0M553.7 248.4h0M553.9 245.1h0M554.1 245.7h0M554.3 244.4h0M554.5 258.1h0M554.7 254.9h0M554.9 244h0M555.2 249.6h0M555.4 255h0M555.6 249.5h0M555.8 259.6h0M556 243.9h0M556.2 251.3h0M556.4 238.7h0M556.7 257.5h0M556.9 247h0M557.1 251.9h0M557.3 256.5h0M557.5 250.3h0M557.7 242.4h0M557.9 247.3h0M558.2 259h0M558.4 260.1h0M558.6 248.7h0M558.8 259.1h0M559 248.2h0M559.2 239.1h0M559.4 250.4h0M559.7 252.1h0M559.9 260.7h0M560.1 263.7h0M560.3 259.7h0M560.5 262.2h0M560.7 267.9h0M560.9 257.9h0M561.2 277.1h0M561.4 281.8h0M561.6 279.2h0M561.8 273.5h0M562 282.9h0M562.2 281.8h0M562.4 285.3h0M562.7 300h0M562.9 289.5h0M563.1 287.1h0M563.3 294.4h0M563.5 283h0M563.7 300.3h0M563.9 293h0M564.1 292.3h0M564.4 292.8h0M564.6 283h0M564.8 294h0M565 293.6h0M565.2 291.1h0M565.4 287.3h0M565.6 290.4h0M565.9 298.8h0M566.1 286.8h0M566.3 293.2h0M566.5 295.8h0M566.7 284.2h0M566.9 288.4h0M567.1 292.7h0M567.4 298h0M567.6 275.7h0M567.8 287.6h0M568 290.8h0M568.2 281.3h0M568.4 293.7h0M568.6 290.5h0M568.9 289.6h0M569.1 291.3h0M569.3 291.9h0M569.5 285.3h0M569.7 302.6h0M569.9 285h0M570.1 291.6h0M570.4 291.1h0M570.6 281.8h0M570.8 289.3h0M571 285.3h0M571.2 283.1h0M571.4 280.6h0M571.6 290.1h0M571.9 295.8h0M572.1 294.8h0M572.3 289.8h0M572.5 292.7h0M572.7 278.2h0M572.9 292.2h0M573.1 287.3h0M573.4 293.9h0M573.6 294.4h0M573.8 290.7h0M574 289h0M574.2 288.9h0M574.4 300.2h0M574.6 288.3h0M574.9 292.3h0M575.1 295.2h0M575.3 297.9h0M575.5 282.5h0M575.7 291h0M575.9 283.8h0M576.1 288.3h0M576.4 294.3h0M576.6 280.5h0M576.8 291.2h0M577 289.6h0M577.2 294.9h0M577.4 290.3h0M577.6 291.5h0M577.9 288.7h0M578.1 295.7h0M578.3 290.9h0M578.5 286.1h0M578.7 264.3h0M578.9 283h0M579.1 273.2h0M579.4 277.8h0M579.6 273.7h0M579.8 272.5h0M580 264.7h0M580.2 265.3h0M580.4 260.7h0M580.6 250.9h0M580.9 258.7h0M581.1 249.7h0M581.3 253.1h0M581.5 255.3h0M581.7 256.8h0M581.9 252.6h0M582.1 251.2h0M582.4 249.6h0M582.6 245.1h0M582.8 252.1h0M583 251.3h0M583.2 246.3h0M583.4 252.2h0M583.6 243h0M583.9 251.3h0M584.1 245.5h0M584.3 244.5h0M584.5 244.5h0M584.7 246.2h0M584.9 243.6h0M585.1 249.1h0M585.4 249.4h0M585.6 264.7h0M585.8 239.3h0M586 246.4h0M586.2 252.8h0M586.4 256.4h0M586.6 248.4h0M586.9 253.3h0M587.1 246.2h0M587.3 252.4h0M587.5 245.1h0M587.7 240.9h0M587.9 248.6h0M588.1 246.5h0M588.4 247.6h0M588.6 245h0M588.8 239.3h0M589 245.1h0M589.2 244h0M589.4 240.6h0M589.6 242.4h0M589.9 246.4h0M590.1 246.8h0M590.3 241.8h0M590.5 240.6h0M590.7 242.7h0M590.9 242.1h0M591.1 245h0M591.4 255.2h0M591.6 244.1h0M591.8 235.8h0M592 254h0M592.2 245.6h0M592.4 243.4h0M592.6 248.2h0M592.9 242.9h0M593.1 254.5h0M593.3 245.1h0M593.5 245.2h0M593.7 243.1h0M593.9 247.3h0M594.1 243.8h0M594.4 242.8h0M594.6 244.1h0M594.8 240.2h0M595 249.1h0M595.2 251.9h0M595.4 251.7h0M595.6 242.3h0M595.9 247h0M596.1 237.5h0M596.3 240.3h0M596.5 247h0M596.7 244.7h0M596.9 245.8h0M597.1 233.7h0M597.4 250.2h0M597.6 244.7h0M597.8 243.3h0M598 254h0M598.2 249.1h0M598.4 235.6h0M598.6 254h0M598.8 240.4h0M599.1 242.7h0M599.3 244.6h0M599.5 251.8h0M599.7 243.4h0M599.9 246.5h0M600.1 249h0M600.3 243.9h0M600.6 232.5h0M600.8 252.3h0M601 241.7h0M601.2 235.2h0M601.4 241.3h0M601.6 241.5h0M601.8 240.9h0M602.1 242.7h0M602.3 245.7h0M602.5 253.3h0M602.7 248.2h0M602.9 243.9h0M603.1 255.2h0M603.3 243.4h0M603.6 256.1h0M603.8 243.3h0M604 233.7h0M604.2 250.6h0M604.4 241.9h0M604.6 241.2h0M604.8 242.1h0M605.1 243.2h0M605.3 246.1h0M605.5 242.1h0M605.7 235.5h0M605.9 244.6h0M606.1 245.2h0M606.3 240.6h0M606.6 244.2h0M606.8 245.8h0M607 232.4h0M607.2 231.3h0M607.4 237.6h0M607.6 247h0M607.8 233.4h0M608.1 248.2h0M608.3 238.8h0M608.5 244.3h0M608.7 238.9h0M608.9 238.4h0M609.1 239.6h0M609.3 237h0M609.6 235.7h0M609.8 237h0M610 239h0M610.2 239h0M610.4 233.1h0M610.6 238.2h0M610.8 239.3h0M611.1 244.3h0M611.3 244.1h0M611.5 241.6h0M611.7 242h0M611.9 234.1h0M612.1 238h0M612.3 245.1h0M612.6 243h0M612.8 249.2h0M613 252.7h0M613.2 251.1h0M613.4 237.6h0M613.6 237.5h0M613.8 239.1h0M614.1 248.3h0M614.3 242.9h0M614.5 239.4h0M614.7 228.3h0M614.9 240.6h0M615.1 239.5h0M615.3 248h0M615.6 254.9h0M615.8 233.3h0M616 232.5h0M616.2 245.8h0M616.4 245h0M616.6 237.9h0M616.8 243h0M617.1 243.3h0M617.3 235.1h0M617.5 239.6h0M617.7 238.3h0M617.9 242.5h0M618.1 248.7h0M618.3 236.1h0M618.6 246.1h0M618.8 245.7h0M619 250.3h0M619.2 236.9h0M619.4 243.6h0M619.6 233.1h0M619.8 241.5h0M620.1 249.4h0M620.3 252.4h0M620.5 245.6h0M620.7 236.2h0M620.9 232.9h0M621.1 244.2h0M621.3 238.5h0M621.6 244.5h0M621.8 242.4h0M622 242.3h0M622.2 251.4h0M622.4 234.3h0M622.6 241.3h0M622.8 247h0M623.1 245.4h0M623.3 236.6h0M623.5 235.5h0M623.7 239.6h0M623.9 232.6h0M624.1 235.7h0M624.3 250.5h0M624.6 237.6h0M624.8 235h0M625 240.1h0M625.2 243.3h0M625.4 238.1h0M625.6 242.7h0M625.8 247.8h0M626.1 246.8h0M626.3 240.7h0M626.5 249.6h0M626.7 252h0M626.9 246.1h0M627.1 232.1h0M627.3 248.4h0M627.6 241.3h0M627.8 248.6h0M628 239.7h0M628.2 239.3h0M628.4 239.7h0M628.6 246.3h0M628.8 252.8h0M629.1 240.2h0M629.3 240.7h0M629.5 244.3h0M629.7 237h0M629.9 249.8h0M630.1 237.8h0M630.3 248.8h0M630.6 220.1h0M630.8 242.9h0M631 244.8h0M631.2 250.7h0M631.4 248.4h0M631.6 245.5h0M631.8 238.5h0M632.1 257.5h0M632.3 251.9h0M632.5 246.8h0M632.7 236.1h0M632.9 241.4h0M633.1 237.8h0M633.3 237.5h0M633.5 239.4h0M633.8 235.3h0M634 236.5h0M634.2 240.9h0M634.4 242.1h0M634.6 232.7h0M634.8 242.2h0M635 252.8h0M635.3 242.7h0M635.5 240.8h0M635.7 240.8h0M635.9 256.5h0M636.1 248.8h0M636.3 249h0M636.5 247.6h0M636.8 244.6h0M637 255.5h0M637.2 235.4h0M637.4 232.6h0M637.6 247.8h0M637.8 250.1h0M638 246.5h0M638.3 248.6h0M638.5 248h0M638.7 247.5h0M638.9 257.2h0M639.1 254.1h0M639.3 249.2h0M639.5 247h0M639.8 243.6h0M640 239.7h0M640.2 255.3h0M640.4 242.5h0M640.6 249.3h0M640.8 250.7h0M641 257.6h0M641.3 256.2h0M641.5 245.6h0M641.7 248.7h0M641.9 256.1h0M642.1 275.6h0M642.3 259.9h0M642.5 266h0M642.8 272.4h0M643 261.2h0M643.2 268.5h0M643.4 253.4h0M643.6 259.7h0M643.8 265.4h0M644 268.1h0M644.3 278h0M644.5 263.9h0M644.7 260.2h0M644.9 260.6h0M645.1 267h0M645.3 266.1h0M645.5 269.3h0M645.8 263.6h0M646 265.7h0M646.2 273.8h0M646.4 274.7h0M646.6 271.5h0M646.8 262.6h0M647 274.9h0M647.3 286h0M647.5 262.7h0M647.7 272.8h0M647.9 267.3h0M648.1 270.8h0M648.3 269.9h0M648.5 272h0M648.8 265h0M649 265.8h0M649.2 265.1h0M649.4 270.3h0M649.6 269h0M649.8 264.5h0M650 268.1h0M650.3 265.7h0M650.5 270.3h0M650.7 269.8h0M650.9 264h0M651.1 256h0M651.3 267.4h0M651.5 264.7h0M651.8 265.2h0M652 273.6h0M652.2 272.7h0M652.4 268.8h0M652.6 276.6h0M652.8 275.6h0M653 270.4h0M653.3 274h0M653.5 278.5h0M653.7 262.7h0M653.9 261.6h0M654.1 263h0M654.3 266.3h0M654.5 268.1h0M654.8 275.4h0M655 264.7h0M655.2 276.6h0M655.4 275.8h0M655.6 275.8h0M655.8 268.4h0M656 263.7h0M656.3 275.2h0M656.5 270.7h0M656.7 266.8h0M656.9 273h0M657.1 270h0M657.3 263.6h0M657.5 270.3h0M657.8 268.2h0M658 265.9h0M658.2 269.1h0M658.4 262h0M658.6 266.6h0M658.8 262.7h0M659 269.4h0M659.3 265.3h0M659.5 262.9h0M659.7 268.5h0M659.9 259.8h0M660.1 258.2h0M660.3 267.4h0M660.5 254.6h0M660.8 266.1h0M661 262.2h0M661.2 253.2h0M661.4 249.9h0M661.6 263.6h0M661.8 251h0M662 247.1h0M662.3 244.4h0M662.5 241.3h0M662.7 258.7h0M662.9 250.2h0M663.1 247.3h0M663.3 243.8h0M663.5 244.5h0M663.8 251.7h0M664 234.5h0M664.2 242.8h0M664.4 241.8h0M664.6 238.6h0M664.8 251.1h0M665 243.3h0M665.3 253.1h0M665.5 252.9h0M665.7 241h0M665.9 252.5h0M666.1 248.2h0M666.3 245.3h0M666.5 253.4h0M666.8 247.8h0M667 245.6h0M667.2 238.5h0M667.4 251.5h0M667.6 245h0M667.8 253.1h0M668 244.9h0M668.2 251.6h0M668.5 246.9h0M668.7 249.8h0M668.9 234.4h0M669.1 245.9h0M669.3 244.5h0M669.5 244.3h0M669.7 239.2h0M670 234.9h0M670.2 249h0M670.4 245.1h0M670.6 246h0M670.8 250.6h0M671 241.7h0M671.2 252.5h0M671.5 248.7h0M671.7 246.5h0M671.9 245.5h0M672.1 254.8h0M672.3 247.4h0M672.5 248.8h0M672.7 239.3h0M673 247h0M673.2 238.7h0M673.4 240.7h0M673.6 246.6h0M673.8 242.8h0M674 234h0M674.2 238.2h0M674.5 240.8h0M674.7 247.1h0M674.9 240.9h0M675.1 249.7h0M675.3 244.4h0M675.5 238.2h0M675.7 252.7h0M676 243h0M676.2 241h0M676.4 239.9h0M676.6 243.1h0M676.8 241.1h0M677 244.8h0M677.2 247.7h0M677.5 244.1h0M677.7 239.4h0M677.9 249h0M678.1 241.9h0M678.3 245.5h0M678.5 230.9h0M678.7 249.2h0M679 239.4h0M679.2 247.7h0M679.4 236.4h0M679.6 241.8h0M679.8 250.3h0M680 242.9h0M680.2 244.4h0M680.5 246.8h0M680.7 231.2h0M680.9 238.9h0M681.1 237.8h0M681.3 231.2h0M681.5 239.3h0M681.7 243.4h0M682 247.2h0M682.2 240.9h0M682.4 249h0M682.6 256.5h0M682.8 241.4h0M683 245.7h0M683.2 245.5h0M683.5 249.6h0M683.7 230.2h0M683.9 244h0M684.1 238.8h0M684.3 234.7h0M684.5 234.9h0M684.7 239.4h0M685 244h0M685.2 238.2h0M685.4 233.1h0M685.6 240.2h0M685.8 248.9h0M686 236.1h0M686.2 244.9h0M686.5 248.2h0M686.7 240.8h0M686.9 237.3h0M687.1 236.2h0M687.3 248.6h0M687.5 245.1h0M687.7 241.1h0M688 242.6h0M688.2 237.8h0M688.4 240.4h0M688.6 250h0M688.8 244.6h0M689 244.2h0M689.2 245.2h0M689.5 238.3h0M689.7 243h0M689.9 248.7h0M690.1 228.1h0M690.3 240.6h0M690.5 236.5h0M690.7 237.7h0M691 233.3h0M691.2 239.3h0M691.4 239.6h0M691.6 236.2h0M691.8 236.9h0M692 234.1h0M692.2 237.8h0M692.5 245.2h0M692.7 235.6h0M692.9 245.4h0M693.1 234h0M693.3 237.3h0M693.5 257.6h0M693.7 233.5h0M694 246.6h0M694.2 236.8h0M694.4 243.2h0M694.6 244.6h0M694.8 246.7h0M695 241.3h0M695.2 238.6h0M695.5 255.4h0M695.7 245.7h0M695.9 245.7h0M696.1 237.7h0M696.3 236.2h0M696.5 245.6h0M696.7 250.6h0M697 239.3h0M697.2 236.2h0M697.4 247.7h0M697.6 239.4h0M697.8 245.1h0M698 236.8h0M698.2 242.6h0M698.5 238.4h0M698.7 240.6h0M698.9 238.5h0M699.1 244.4h0M699.3 241.2h0M699.5 244.6h0M699.7 243.1h0M700 249.4h0M700.2 239.4h0M700.4 241.5h0M700.6 249.2h0M700.8 244.2h0"/>
<path stroke="#f00" stroke-width="0.9" stroke-linecap="butt" stroke-linejoin="round" d="M60 246.6L60.5 246.8L61 247L61.5 247.2L62 247.3L62.5 247.5L63 247.7L63.5 247.9L64 248L64.5 248.2L65 248.4L65.5 248.5L66 248.7L66.5 248.9L67 249.1L67.5 249.2L68 249.4L68.5 249.6L69 249.8L69.5 249.9L70 250.1L70.5 250.3L71 250.4L71.5 250.6L72 250.8L72.5 251L73 251.1L73.5 251.3L74 251.5L74.5 251.6L75 251.8L75.5 252L76 257.7L76.5 263.6L77 269.5L77.5 275.5L78 281.4L78.5 287.3L79 292.3L79.5 292.3L80 292.3L80.5 292.4L81 292.4L81.5 292.4L82 292.4L82.5 292.4L83 292.5L83.5 292.5L84 292.5L84.5 292.5L85 292.5L85.5 292.6L86 292.6L86.5 292.6L87 292.6L87.5 292.6L88 292.5L88.5 292.5L89 292.5L89.5 292.5L90 292.5L90.5 292.4L91 292.4L91.5 292.4L92 292.4L92.5 292.4L93 292.4L93.5 292.3L94 292.3L94.5 290.2L95 284.2L95.5 278.3L96 272.4L96.5 266.5L97 260.5L97.5 254.6L98 251.9L98.5 251.7L99 251.6L99.5 251.4L100 251.2L100.5 251L101 250.9L101.5 250.7L102 250.5L102.5 250.4L103 250.2L103.5 250L104 249.8L104.5 249.7L105 249.5L105.5 249.3L106 249.1L106.5 249L107 248.8L107.5 248.6L108 248.5L108.5 248.3L109 248.1L109.5 247.9L110 247.8L110.5 247.6L111 247.4L111.5 247.2L112 247.1L112.5 246.9L113 246.7L113.5 246.6L114 246.4L114.5 246.2L115 246L115.5 245.9L116 245.7L116.5 245.5L117 245.4L117.5 245.2L118 245L118.5 244.9L119 244.8L119.5 244.6L120 244.5L120.5 244.4L121 244.3L121.5 244.1L122 244L122.5 243.9L123 243.8L123.5 243.6L124 243.5L124.5 243.4L125 243.3L125.5 243.1L126 243L126.5 242.9L127 242.8L127.5 242.6L128 242.5L128.5 242.5L129 242.5L129.5 242.6L130 242.6L130.5 242.6L131 242.6L131.5 242.6L132 242.7L132.5 242.7L133 242.7L133.5 242.7L134 242.8L134.5 242.8L135 242.8L135.5 242.9L136 243L136.5 243.1L137 243.3L137.5 243.4L138 243.5L138.5 243.6L139 243.7L139.5 243.8L140 244L140.5 244.1L141 244.2L141.5 244.3L142 244.4L142.5 244.5L143 244.7L143.5 244.8L144 244.9L144.5 245L145 245.1L145.5 245.2L146 245.4L146.5 245.5L147 245.6L147.5 245.7L148 245.8L148.5 245.9L149 246.1L149.5 246.2L150 246.3L150.5 246.4L151 246.5L151.5 246.7L152 246.8L152.5 246.9L153 247L153.5 247.1L154 247.3L154.5 247.4L155 247.5L155.5 247.6L156 247.7L156.5 249.4L157 253L157.5 256.7L158 260.3L158.5 263.8L159 265.1L159.5 266.3L160 267.5L160.5 268.1L161 268.7L161.5 269.2L162 269.4L162.5 269.5L163 269.7L163.5 269.8L164 270L164.5 270.1L165 270.2L165.5 270.2L166 270.3L166.5 270.3L167 270.4L167.5 270.4L168 270.3L168.5 270.3L169 270.2L169.5 270.2L170 270.1L170.5 270.1L171 269.9L171.5 269.8L172 269.6L172.5 269.5L173 269.3L173.5 269.2L174 268.6L174.5 268L175 267.5L175.5 266.2L176 265L176.5 263.7L177 260L177.5 256.4L178 252.7L178.5 249.1L179 247.7L179.5 247.6L180 247.5L180.5 247.3L181 247.2L181.5 247.1L182 247L182.5 246.8L183 246.7L183.5 246.6L184 246.5L184.5 246.3L185 246.2L185.5 246.1L186 246L186.5 245.8L187 245.7L187.5 245.6L188 245.5L188.5 245.3L189 245.2L189.5 245.1L190 245L190.5 244.9L191 244.8L191.5 244.7L192 244.5L192.5 244.4L193 244.3L193.5 244.2L194 244.1L194.5 244L195 243.8L195.5 243.7L196 243.6L196.5 243.5L197 243.4L197.5 243.3L198 243.1L198.5 243L199 242.9L199.5 242.8L200 242.8L200.5 242.8L201 242.7L201.5 242.7L202 242.7L202.5 242.7L203 242.6L203.5 242.6L204 242.6L204.5 242.6L205 242.6L205.5 242.5L206 242.5L206.5 242.5L207 242.6L207.5 242.8L208 242.9L208.5 243L209 243.1L209.5 243.3L210 243.4L210.5 243.5L211 243.6L211.5 243.8L212 243.9L212.5 244L213 244.1L213.5 244.3L214 244.4L214.5 244.5L215 244.6L215.5 244.8L216 244.9L216.5 245L217 245.2L217.5 245.4L218 245.5L218.5 245.7L219 245.9L219.5 246.1L220 246.2L220.5 246.4L221 246.6L221.5 246.7L222 246.9L222.5 247.1L223 247.3L223.5 247.4L224 247.6L224.5 247.8L225 247.9L225.5 248.1L226 248.3L226.5 248.5L227 248.6L227.5 248.8L228 249L228.5 249.2L229 249.3L229.5 249.5L230 249.7L230.5 249.8L231 250L231.5 250.2L232 250.4L232.5 250.5L233 250.7L233.5 250.9L234 251.1L234.5 251.2L235 251.4L235.5 251.6L236 251.7L236.5 251.9L237 255L237.5 260.9L238 266.8L238.5 272.7L239 278.7L239.5 284.6L240 290.5L240.5 292.3L241 292.3L241.5 292.4L242 292.4L242.5 292.4L243 292.4L243.5 292.4L244 292.5L244.5 292.5L245 292.5L245.5 292.5L246 292.5L246.5 292.5L247 292.6L247.5 292.6L248 292.6L248.5 292.6L249 292.6L249.5 292.5L250 292.5L250.5 292.5L251 292.5L251.5 292.5L252 292.4L252.5 292.4L253 292.4L253.5 292.4L254 292.4L254.5 292.3L255 292.3L255.5 292.3L256 287L256.5 281L257 275.1L257.5 269.2L258 263.3L258.5 257.3L259 252L259.5 251.8L260 251.6L260.5 251.5L261 251.3L261.5 251.1L262 250.9L262.5 250.8L263 250.6L263.5 250.4L264 250.3L264.5 250.1L265 249.9L265.5 249.7L266 249.6L266.5 249.4L267 249.2L267.5 249.1L268 248.9L268.5 248.7L269 248.5L269.5 248.4L270 248.2L270.5 248L271 247.8L271.5 247.7L272 247.5L272.5 247.3L273 247.2L273.5 247L274 246.8L274.5 246.6L275 246.5L275.5 246.3L276 246.1L276.5 245.9L277 245.8L277.5 245.6L278 245.4L278.5 245.3L279 245.1L279.5 244.9L280 244.8L280.5 244.7L281 244.6L281.5 244.4L282 244.3L282.5 244.2L283 244.1L283.5 243.9L284 243.8L284.5 243.7L285 243.6L285.5 243.4L286 243.3L286.5 243.2L287 243.1L287.5 242.9L288 242.8L288.5 242.7L289 242.6L289.5 242.5L290 242.5L290.5 242.6L291 242.6L291.5 242.6L292 242.6L292.5 242.6L293 242.7L293.5 242.7L294 242.7L294.5 242.7L295 242.7L295.5 242.8L296 242.8L296.5 242.9L297 243L297.5 243.1L298 243.2L298.5 243.3L299 243.4L299.5 243.6L300 243.7L300.5 243.8L301 243.9L301.5 244L302 244.1L302.5 244.3L303 244.4L303.5 244.5L304 244.6L304.5 244.7L305 244.8L305.5 245L306 245.1L306.5 245.2L307 245.3L307.5 245.4L308 245.5L308.5 245.7L309 245.8L309.5 245.9L310 246L310.5 246.1L311 246.2L311.5 246.4L312 246.5L312.5 246.6L313 246.7L313.5 246.8L314 247L314.5 247.1L315 247.2L315.5 247.3L316 247.4L316.5 247.6L317 247.7L317.5 247.8L318 251.4L318.5 255L319 258.6L319.5 262.3L320 264.5L320.5 265.7L321 267L321.5 267.8L322 268.4L322.5 269L323 269.3L323.5 269.4L324 269.6L324.5 269.7L325 269.9L325.5 270L326 270.1L326.5 270.2L327 270.2L327.5 270.3L328 270.3L328.5 270.4L329 270.4L329.5 270.3L330 270.3L330.5 270.2L331 270.2L331.5 270.1L332 270L332.5 269.9L333 269.7L333.5 269.6L334 269.4L334.5 269.3L335 268.9L335.5 268.3L336 267.7L336.5 266.8L337 265.6L337.5 264.3L338 261.7L338.5 258.1L339 254.4L339.5 250.8L340 247.8L340.5 247.7L341 247.5L341.5 247.4L342 247.3L342.5 247.2L343 247L343.5 246.9L344 246.8L344.5 246.6L345 246.5L345.5 246.4L346 246.3L346.5 246.1L347 246L347.5 245.9L348 245.8L348.5 245.6L349 245.5L349.5 245.4L350 245.3L350.5 245.2L351 245.1L351.5 244.9L352 244.8L352.5 244.7L353 244.6L353.5 244.5L354 244.4L354.5 244.2L355 244.1L355.5 244L356 243.9L356.5 243.8L357 243.7L357.5 243.5L358 243.4L358.5 243.3L359 243.2L359.5 243.1L360 243L360.5 242.8L361 242.8L361.5 242.8L362 242.7L362.5 242.7L363 242.7L363.5 242.7L364 242.7L364.5 242.6L365 242.6L365.5 242.6L366 242.6L366.5 242.6L367 242.5L367.5 242.5L368 242.6L368.5 242.7L369 242.8L369.5 243L370 243.1L370.5 243.2L371 243.3L371.5 243.5L372 243.6L372.5 243.7L373 243.8L373.5 244L374 244.1L374.5 244.2L375 244.3L375.5 244.5L376 244.6L376.5 244.7L377 244.8L377.5 245L378 245.1L378.5 245.3L379 245.5L379.5 245.6L380 245.8L380.5 246L381 246.1L381.5 246.3L382 246.5L382.5 246.7L383 246.8L383.5 247L384 247.2L384.5 247.4L385 247.5L385.5 247.7L386 247.9L386.5 248L387 248.2L387.5 248.4L388 248.6L388.5 248.7L389 248.9L389.5 249.1L390 249.2L390.5 249.4L391 249.6L391.5 249.8L392 249.9L392.5 250.1L393 250.3L393.5 250.5L394 250.6L394.5 250.8L395 251L395.5 251.1L396 251.3L396.5 251.5L397 251.7L397.5 251.8L398 252.2L398.5 258.2L399 264.1L399.5 270L400 275.9L400.5 281.9L401 287.8L401.5 292.3L402 292.3L402.5 292.3L403 292.4L403.5 292.4L404 292.4L404.5 292.4L405 292.4L405.5 292.5L406 292.5L406.5 292.5L407 292.5L407.5 292.5L408 292.6L408.5 292.6L409 292.6L409.5 292.6L410 292.6L410.5 292.5L411 292.5L411.5 292.5L412 292.5L412.5 292.5L413 292.4L413.5 292.4L414 292.4L414.5 292.4L415 292.4L415.5 292.3L416 292.3L416.5 292.3L417 289.7L417.5 283.8L418 277.8L418.5 271.9L419 266L419.5 260.1L420 254.1L420.5 251.9L421 251.7L421.5 251.5L422 251.4L422.5 251.2L423 251L423.5 250.9L424 250.7L424.5 250.5L425 250.3L425.5 250.2L426 250L426.5 249.8L427 249.6L427.5 249.5L428 249.3L428.5 249.1L429 249L429.5 248.8L430 248.6L430.5 248.4L431 248.3L431.5 248.1L432 247.9L432.5 247.8L433 247.6L433.5 247.4L434 247.2L434.5 247.1L435 246.9L435.5 246.7L436 246.5L436.5 246.4L437 246.2L437.5 246L438 245.9L438.5 245.7L439 245.5L439.5 245.3L440 245.2L440.5 245L441 244.9L441.5 244.7L442 244.6L442.5 244.5L443 244.4L443.5 244.2L444 244.1L444.5 244L445 243.9L445.5 243.7L446 243.6L446.5 243.5L447 243.4L447.5 243.2L448 243.1L448.5 243L449 242.9L449.5 242.7L450 242.6L450.5 242.5L451 242.5L451.5 242.5L452 242.6L452.5 242.6L453 242.6L453.5 242.6L454 242.7L454.5 242.7L455 242.7L455.5 242.7L456 242.7L456.5 242.8L457 242.8L457.5 242.8L458 242.9L458.5 243L459 243.2L459.5 243.3L460 243.4L460.5 243.5L461 243.6L461.5 243.7L462 243.9L462.5 244L463 244.1L463.5 244.2L464 244.3L464.5 244.4L465 244.6L465.5 244.7L466 244.8L466.5 244.9L467 245L467.5 245.1L468 245.2L468.5 245.4L469 245.5L469.5 245.6L470 245.7L470.5 245.8L471 246L471.5 246.1L472 246.2L472.5 246.3L473 246.4L473.5 246.6L474 246.7L474.5 246.8L475 246.9L475.5 247L476 247.1L476.5 247.3L477 247.4L477.5 247.5L478 247.6L478.5 247.7L479 249.7L479.5 253.3L480 257L480.5 260.6L481 263.9L481.5 265.2L482 266.4L482.5 267.6L483 268.1L483.5 268.7L484 269.2L484.5 269.4L485 269.5L485.5 269.7L486 269.8L486.5 270L487 270.1L487.5 270.2L488 270.2L488.5 270.3L489 270.3L489.5 270.4L490 270.4L490.5 270.3L491 270.3L491.5 270.2L492 270.2L492.5 270.1L493 270.1L493.5 269.9L494 269.8L494.5 269.6L495 269.5L495.5 269.3L496 269.1L496.5 268.6L497 268L497.5 267.4L498 266.1L498.5 264.9L499 263.4L499.5 259.7L500 256.1L500.5 252.5L501 248.8L501.5 247.7L502 247.6L502.5 247.5L503 247.3L503.5 247.2L504 247.1L504.5 247L505 246.8L505.5 246.7L506 246.6L506.5 246.5L507 246.3L507.5 246.2L508 246.1L508.5 246L509 245.8L509.5 245.7L510 245.6L510.5 245.5L511 245.3L511.5 245.2L512 245.1L512.5 245L513 244.9L513.5 244.8L514 244.6L514.5 244.5L515 244.4L515.5 244.3L516 244.2L516.5 244.1L517 243.9L517.5 243.8L518 243.7L518.5 243.6L519 243.5L519.5 243.4L520 243.2L520.5 243.1L521 243L521.5 242.9L522 242.8L522.5 242.8L523 242.8L523.5 242.7L524 242.7L524.5 242.7L525 242.7L525.5 242.6L526 242.6L526.5 242.6L527 242.6L527.5 242.6L528 242.5L528.5 242.5L529 242.5L529.5 242.6L530 242.8L530.5 242.9L531 243L531.5 243.1L532 243.3L532.5 243.4L533 243.5L533.5 243.6L534 243.8L534.5 243.9L535 244L535.5 244.1L536 244.3L536.5 244.4L537 244.5L537.5 244.6L538 244.8L538.5 244.9L539 245L539.5 245.2L540 245.4L540.5 245.5L541 245.7L541.5 245.9L542 246.1L542.5 246.2L543 246.4L543.5 246.6L544 246.8L544.5 246.9L545 247.1L545.5 247.3L546 247.4L546.5 247.6L547 247.8L547.5 248L548 248.1L548.5 248.3L549 248.5L549.5 248.7L550 248.8L550.5 249L551 249.2L551.5 249.3L552 249.5L552.5 249.7L553 249.9L553.5 250L554 250.2L554.5 250.4L555 250.5L555.5 250.7L556 250.9L556.5 251.1L557 251.2L557.5 251.4L558 251.6L558.5 251.8L559 251.9L559.5 255.4L560 261.4L560.5 267.3L561 273.2L561.5 279.1L562 285.1L562.5 291L563 292.3L563.5 292.3L564 292.4L564.5 292.4L565 292.4L565.5 292.4L566 292.4L566.5 292.5L567 292.5L567.5 292.5L568 292.5L568.5 292.5L569 292.5L569.5 292.6L570 292.6L570.5 292.6L571 292.6L571.5 292.6L572 292.5L572.5 292.5L573 292.5L573.5 292.5L574 292.5L574.5 292.4L575 292.4L575.5 292.4L576 292.4L576.5 292.4L577 292.3L577.5 292.3L578 292.3L578.5 286.5L579 280.6L579.5 274.6L580 268.7L580.5 262.8L581 256.9L581.5 252L582 251.8L582.5 251.6L583 251.5L583.5 251.3L584 251.1L584.5 250.9L585 250.8L585.5 250.6L586 250.4L586.5 250.2L587 250.1L587.5 249.9L588 249.7L588.5 249.6L589 249.4L589.5 249.2L590 249L590.5 248.9L591 248.7L591.5 248.5L592 248.3L592.5 248.2L593 248L593.5 247.8L594 247.7L594.5 247.5L595 247.3L595.5 247.1L596 247L596.5 246.8L597 246.6L597.5 246.5L598 246.3L598.5 246.1L599 245.9L599.5 245.8L600 245.6L600.5 245.4L601 245.2L601.5 245.1L602 244.9L602.5 244.8L603 244.7L603.5 244.6L604 244.4L604.5 244.3L605 244.2L605.5 244.1L606 243.9L606.5 243.8L607 243.7L607.5 243.6L608 243.4L608.5 243.3L609 243.2L609.5 243.1L610 242.9L610.5 242.8L611 242.7L611.5 242.6L612 242.5L612.5 242.5L613 242.6L613.5 242.6L614 242.6L614.5 242.6L615 242.6L615.5 242.7L616 242.7L616.5 242.7L617 242.7L617.5 242.7L618 242.8L618.5 242.8L619 242.9L619.5 243L620 243.1L620.5 243.2L621 243.3L621.5 243.4L622 243.6L622.5 243.7L623 243.8L623.5 243.9L624 244L624.5 244.1L625 244.3L625.5 244.4L626 244.5L626.5 244.6L627 244.7L627.5 244.8L628 245L628.5 245.1L629 245.2L629.5 245.3L630 245.4L630.5 245.5L631 245.7L631.5 245.8L632 245.9L632.5 246L633 246.1L633.5 246.3L634 246.4L634.5 246.5L635 246.6L635.5 246.7L636 246.9L636.5 247L637 247.1L637.5 247.2L638 247.3L638.5 247.5L639 247.6L639.5 247.7L640 248L640.5 251.7L641 255.3L641.5 258.9L642 262.6L642.5 264.6L643 265.8L643.5 267.1L644 267.9L644.5 268.4L645 269L645.5 269.3L646 269.4L646.5 269.6L647 269.7L647.5 269.9L648 270L648.5 270.1L649 270.2L649.5 270.2L650 270.3L650.5 270.3L651 270.4L651.5 270.4L652 270.3L652.5 270.3L653 270.2L653.5 270.2L654 270.1L654.5 270L655 269.9L655.5 269.7L656 269.6L656.5 269.4L657 269.3L657.5 268.8L658 268.3L658.5 267.7L659 266.7L659.5 265.5L660 264.2L660.5 261.4L661 257.8L661.5 254.1L662 250.5L662.5 247.8L663 247.6L663.5 247.5L664 247.4L664.5 247.3L665 247.1L665.5 247L666 246.9L666.5 246.8L667 246.6L667.5 246.5L668 246.4L668.5 246.3L669 246.1L669.5 246L670 245.9L670.5 245.8L671 245.6L671.5 245.5L672 245.4L672.5 245.3L673 245.2L673.5 245L674 244.9L674.5 244.8L675 244.7L675.5 244.6L676 244.5L676.5 244.3L677 244.2L677.5 244.1L678 244L678.5 243.9L679 243.8L679.5 243.6L680 243.5L680.5 243.4L681 243.3L681.5 243.2L682 243.1L682.5 242.9L683 242.8L683.5 242.8L684 242.8L684.5 242.7L685 242.7L685.5 242.7L686 242.7L686.5 242.7L687 242.6L687.5 242.6L688 242.6L688.5 242.6L689 242.5L689.5 242.5L690 242.5L690.5 242.6L691 242.7L691.5 242.8L692 243L692.5 243.1L693 243.2L693.5 243.3L694 243.5L694.5 243.6L695 243.7L695.5 243.8L696 244L696.5 244.1L697 244.2L697.5 244.3L698 244.5L698.5 244.6L699 244.7L699.5 244.8L700 245L700.5 245.1L701 245.3L701.5 245.5L702 245.6"/>
<path stroke="#000" stroke-width="2.35" d="M61 353.7h0M61.2 348.6h0M61.4 349.6h0M61.6 348.3h0M61.9 341.7h0M62.1 344.2h0M62.3 352.6h0M62.5 337.9h0M62.7 342.5h0M62.9 349h0M63.1 340.1h0M63.4 353.4h0M63.6 337.3h0M63.8 339.7h0M64 344.2h0M64.2 339.6h0M64.4 342.3h0M64.6 343.7h0M64.9 342.8h0M65.1 345.6h0M65.3 345.9h0M65.5 345.6h0M65.7 344.9h0M65.9 341.5h0M66.1 345.7h0M66.4 346h0M66.6 348.3h0M66.8 353h0M67 340.5h0M67.2 353.9h0M67.4 350.2h0M67.6 349.6h0M67.9 341.3h0M68.1 345.6h0M68.3 345.9h0M68.5 342.7h0M68.7 348.1h0M68.9 337.7h0M69.1 339.4h0M69.4 348.7h0M69.6 346.3h0M69.8 335.1h0M70 346.3h0M70.2 344.7h0M70.4 348.5h0M70.6 343.4h0M70.9 343.7h0M71.1 338.1h0M71.3 342.9h0M71.5 341.2h0M71.7 346.4h0M71.9 342.9h0M72.1 339.8h0M72.4 346.3h0M72.6 328.2h0M72.8 347h0M73 345.6h0M73.2 343.9h0M73.4 345.1h0M73.6 339.4h0M73.9 347.9h0M74.1 344.6h0M74.3 333.3h0M74.5 346.8h0M74.7 336.8h0M74.9 337.6h0M75.1 345.1h0M75.4 340.7h0M75.6 343.9h0M75.8 344.4h0M76 342.3h0M76.2 345.2h0M76.4 334.4h0M76.6 352.3h0M76.9 347.7h0M77.1 339.4h0M77.3 341.9h0M77.5 351.1h0M77.7 337.6h0M77.9 333.9h0M78.1 354.5h0M78.3 350.4h0M78.6 345.2h0M78.8 352.4h0M79 345.8h0M79.2 347.2h0M79.4 346.5h0M79.6 347.4h0M79.8 338h0M80.1 343.7h0M80.3 345.3h0M80.5 337.5h0M80.7 336.4h0M80.9 343h0M81.1 352.1h0M81.3 342.7h0M81.6 351.6h0M81.8 350.3h0M82 350.8h0M82.2 346.9h0M82.4 333.9h0M82.6 336.4h0M82.8 337.3h0M83.1 341.8h0M83.3 342.8h0M83.5 338.4h0M83.7 341.5h0M83.9 346.7h0M84.1 336.8h0M84.3 346.7h0M84.6 346.5h0M84.8 333.8h0M85 344.3h0M85.2 343.3h0M85.4 346.3h0M85.6 346h0M85.8 331.3h0M86.1 353.9h0M86.3 344.1h0M86.5 348.7h0M86.7 348.4h0M86.9 337.9h0M87.1 343.1h0M87.3 342.3h0M87.6 355.5h0M87.8 336h0M88 351.9h0M88.2 348.4h0M88.4 342.9h0M88.6 337.7h0M88.8 343h0M89.1 352.9h0M89.3 338.3h0M89.5 344.7h0M89.7 346.9h0M89.9 347.3h0M90.1 341.6h0M90.3 347.1h0M90.6 347.6h0M90.8 332.3h0M91 336.9h0M91.2 335.6h0M91.4 337.6h0M91.6 347.7h0M91.8 346.2h0M92.1 345.5h0M92.3 340.5h0M92.5 349h0M92.7 334.6h0M92.9 335.6h0M93.1 347.3h0M93.3 341.9h0M93.6 349.3h0M93.8 348.1h0M94 348.7h0M94.2 339h0M94.4 340.3h0M94.6 327.3h0M94.8 343.4h0M95.1 343.3h0M95.3 340.2h0M95.5 344h0M95.7 344.9h0M95.9 348.4h0M96.1 340.2h0M96.3 339.9h0M96.6 342.8h0M96.8 346.5h0M97 353.7h0M97.2 348.6h0M97.4 330h0M97.6 333.9h0M97.8 338.9h0M98.1 329.1h0M98.3 347.2h0M98.5 338.3h0M98.7 336h0M98.9 342.1h0M99.1 344.9h0M99.3 341.1h0M99.6 343h0M99.8 348.3h0M100 337.3h0M100.2 343.1h0M100.4 332.7h0M100.6 336.3h0M100.8 348.8h0M101.1 338.9h0M101.3 337.5h0M101.5 347.6h0M101.7 340.5h0M101.9 348.2h0M102.1 353.8h0M102.3 355.4h0M102.6 341.9h0M102.8 345h0M103 339.9h0M103.2 352.7h0M103.4 346.3h0M103.6 358.7h0M103.8 340.5h0M104.1 342.9h0M104.3 327.2h0M104.5 339.2h0M104.7 339.6h0M104.9 345.7h0M105.1 348.5h0M105.3 338.7h0M105.6 342.4h0M105.8 340.9h0M106 342.7h0M106.2 346.8h0M106.4 344.5h0M106.6 339.7h0M106.8 344.8h0M107.1 349.5h0M107.3 343.6h0M107.5 351.8h0M107.7 341.4h0M107.9 349.4h0M108.1 344.6h0M108.3 346.6h0M108.6 339.6h0M108.8 349.3h0M109 337h0M109.2 349.2h0M109.4 343.4h0M109.6 344.8h0M109.8 350.6h0M110.1 335.7h0M110.3 347.7h0M110.5 345.4h0M110.7 340.6h0M110.9 347.9h0M111.1 343.4h0M111.3 353.8h0M111.6 340.8h0M111.8 352.2h0M112 351.3h0M112.2 345.6h0M112.4 339.8h0M112.6 343.4h0M112.8 336.4h0M113 339.7h0M113.3 340.2h0M113.5 345.5h0M113.7 335.8h0M113.9 346h0M114.1 341h0M114.3 348.8h0M114.5 346.8h0M114.8 340.2h0M115 344.9h0M115.2 344.7h0M115.4 340.6h0M115.6 342.1h0M115.8 342.7h0M116 338h0M116.3 336.7h0M116.5 344.6h0M116.7 333.7h0M116.9 348.4h0M117.1 348h0M117.3 341.1h0M117.5 345.8h0M117.8 339.3h0M118 347.1h0M118.2 360.4h0M118.4 346.2h0M118.6 343.2h0M118.8 343.3h0M119 335.8h0M119.3 339.5h0M119.5 341.9h0M119.7 340.1h0M119.9 343.9h0M120.1 350.2h0M120.3 335.7h0M120.5 339.8h0M120.8 344.1h0M121 336.8h0M121.2 338.2h0M121.4 345.9h0M121.6 346.4h0M121.8 345h0M122 337.7h0M122.3 346.2h0M122.5 347.7h0M122.7 340.7h0M122.9 343.5h0M123.1 341.7h0M123.3 341.8h0M123.5 340.3h0M123.8 345.4h0M124 338.8h0M124.2 357.4h0M124.4 346.7h0M124.6 341.9h0M124.8 355.3h0M125 344.1h0M125.3 330.9h0M125.5 349.3h0M125.7 347.1h0M125.9 343.1h0M126.1 343.7h0M126.3 340.1h0M126.5 336.9h0M126.8 337.4h0M127 356.9h0M127.2 339.9h0M127.4 344.1h0M127.6 342.4h0M127.8 339.5h0M128 342.9h0M128.3 340.9h0M128.5 335.3h0M128.7 346.1h0M128.9 346.7h0M129.1 342.1h0M129.3 342.2h0M129.5 346.8h0M129.8 347.2h0M130 354h0M130.2 347.3h0M130.4 347.8h0M130.6 340h0M130.8 336.1h0M131 350.5h0M131.3 339h0M131.5 347.2h0M131.7 344h0M131.9 339.1h0M132.1 344.9h0M132.3 352.9h0M132.5 351h0M132.8 341h0M133 342.1h0M133.2 332.5h0M133.4 337h0M133.6 340.5h0M133.8 343.6h0M134 346h0M134.3 341.2h0M134.5 350.2h0M134.7 338.7h0M134.9 347.4h0M135.1 338.2h0M135.3 341.8h0M135.5 344.7h0M135.8 347.9h0M136 339.9h0M136.2 341.5h0M136.4 342.5h0M136.6 345.2h0M136.8 351.6h0M137 347.5h0M137.3 342.2h0M137.5 355.5h0M137.7 350.5h0M137.9 351.2h0M138.1 349.4h0M138.3 343.8h0M138.5 339h0M138.8 339.8h0M139 344.5h0M139.2 338.1h0M139.4 342.9h0M139.6 355.4h0M139.8 345.8h0M140 348.4h0M140.3 338.6h0M140.5 351.5h0M140.7 341.9h0M140.9 344.4h0M141.1 345.1h0M141.3 344.3h0M141.5 341.1h0M141.8 347.3h0M142 355.1h0M142.2 342.2h0M142.4 348.6h0M142.6 338.2h0M142.8 345.8h0M143 340.7h0M143.3 351.7h0M143.5 341.8h0M143.7 347.6h0M143.9 344.6h0M144.1 337.7h0M144.3 344.4h0M144.5 344.1h0M144.8 348.4h0M145 343.2h0M145.2 334.6h0M145.4 338.7h0M145.6 341.4h0M145.8 347.8h0M146 342.1h0M146.3 349h0M146.5 342.6h0M146.7 346.2h0M146.9 349.4h0M147.1 344.9h0M147.3 335h0M147.5 350.2h0M147.7 342.9h0M148 348.4h0M148.2 329.1h0M148.4 343.9h0M148.6 343.7h0M148.8 341.5h0M149 343.3h0M149.2 338.5h0M149.5 338.9h0M149.7 342.6h0M149.9 342.7h0M150.1 347.8h0M150.3 346h0M150.5 340.1h0M150.7 350h0M151 342.1h0M151.2 346.7h0M151.4 352.9h0M151.6 344.2h0M151.8 341.2h0M152 355.5h0M152.2 342.4h0M152.5 340h0M152.7 341.9h0M152.9 332.3h0M153.1 352.1h0M153.3 349.8h0M153.5 349.7h0M153.7 346.9h0M154 342.9h0M154.2 341.1h0M154.4 339.7h0M154.6 347.9h0M154.8 348.9h0M155 348.1h0M155.2 338.3h0M155.5 353.6h0M155.7 339.8h0M155.9 344h0M156.1 343.7h0M156.3 341.3h0M156.5 331.7h0M156.7 337.2h0M157 340.8h0M157.2 349.2h0M157.4 341.5h0M157.6 345.6h0M157.8 337.3h0M158 341.8h0M158.2 350.3h0M158.5 353.6h0M158.7 345.8h0M158.9 346.9h0M159.1 344.5h0M159.3 343.1h0M159.5 344.3h0M159.7 349.1h0M160 340.1h0M160.2 337.7h0M160.4 346.9h0M160.6 340.5h0M160.8 345.8h0M161 338h0M161.2 345h0M161.5 341.4h0M161.7 340.7h0M161.9 347.4h0M162.1 340.3h0M162.3 330.7h0M162.5 337h0M162.7 342.3h0M163 352.4h0M163.2 341.6h0M163.4 337.2h0M163.6 340.6h0M163.8 349.3h0M164 345.6h0M164.2 346.3h0M164.5 346.7h0M164.7 351.9h0M164.9 336.8h0M165.1 350.9h0M165.3 347.1h0M165.5 338.7h0M165.7 347.7h0M166 351.3h0M166.2 342.7h0M166.4 349.4h0M166.6 332.5h0M166.8 335.9h0M167 346.6h0M167.2 344.4h0M167.5 347.6h0M167.7 346.7h0M167.9 348.7h0M168.1 336.2h0M168.3 336.3h0M168.5 350.3h0M168.7 346h0M169 344.5h0M169.2 343.3h0M169.4 353h0M169.6 340.5h0M169.8 346.5h0M170 352.2h0M170.2 341.3h0M170.5 341.2h0M170.7 342.7h0M170.9 333.7h0M171.1 350.4h0M171.3 349.7h0M171.5 354.3h0M171.7 344.4h0M172 346.9h0M172.2 348.3h0M172.4 353.6h0M172.6 346.6h0M172.8 347.4h0M173 341.2h0M173.2 346.7h0M173.5 344.8h0M173.7 350.5h0M173.9 348.8h0M174.1 338.7h0M174.3 339.1h0M174.5 346.7h0M174.7 342.6h0M175 346.4h0M175.2 350.9h0M175.4 338h0M175.6 346.9h0M175.8 339.5h0M176 344.5h0M176.2 343.9h0M176.5 338.8h0M176.7 332.1h0M176.9 342.3h0M177.1 337.9h0M177.3 345.2h0M177.5 344.9h0M177.7 349.3h0M178 347.2h0M178.2 333.9h0M178.4 334.9h0M178.6 339.4h0M178.8 343.5h0M179 345.5h0M179.2 340.5h0M179.5 346h0M179.7 339.2h0M179.9 350h0M180.1 341.8h0M180.3 341.5h0M180.5 341.7h0M180.7 344.4h0M181 352.3h0M181.2 345.4h0M181.4 349.6h0M181.6 340.5h0M181.8 348h0M182 348.6h0M182.2 349.9h0M182.4 339.5h0M182.7 339.8h0M182.9 344.8h0M183.1 347.8h0M183.3 340.1h0M183.5 345.6h0M183.7 353h0M183.9 334.1h0M184.2 337.8h0M184.4 343.4h0M184.6 347.1h0M184.8 344.4h0M185 347.4h0M185.2 352.2h0M185.4 342.1h0M185.7 340.1h0M185.9 352.1h0M186.1 335.7h0M186.3 349.3h0M186.5 351.8h0M186.7 346.3h0M186.9 341.8h0M187.2 345.7h0M187.4 341.8h0M187.6 355.4h0M187.8 348.1h0M188 345.1h0M188.2 347.1h0M188.4 347.6h0M188.7 343.1h0M188.9 346.5h0M189.1 340.6h0M189.3 339.5h0M189.5 339h0M189.7 337.3h0M189.9 346.1h0M190.2 341.8h0M190.4 343.9h0M190.6 348.2h0M190.8 341.6h0M191 345.4h0M191.2 341.9h0M191.4 327.5h0M191.7 340.5h0M191.9 353h0M192.1 342.4h0M192.3 351h0M192.5 339.3h0M192.7 349.2h0M192.9 347.2h0M193.2 344.1h0M193.4 350.5h0M193.6 347.7h0M193.8 345.4h0M194 344.4h0M194.2 347.5h0M194.4 345.7h0M194.7 340.7h0M194.9 341.1h0M195.1 344h0M195.3 338.5h0M195.5 334.4h0M195.7 349.3h0M195.9 341.7h0M196.2 357h0M196.4 345.9h0M196.6 349.1h0M196.8 348.9h0M197 345h0M197.2 342.8h0M197.4 336.2h0M197.7 338.9h0M197.9 337.5h0M198.1 337h0M198.3 336.5h0M198.5 345.7h0M198.7 334h0M198.9 353.2h0M199.2 340.2h0M199.4 348.3h0M199.6 346.2h0M199.8 346.9h0M200 344.1h0M200.2 343.6h0M200.4 345.3h0M200.7 349.3h0M200.9 348.4h0M201.1 345.6h0M201.3 336.7h0M201.5 339.9h0M201.7 345h0M201.9 350.9h0M202.2 352.4h0M202.4 341.4h0M202.6 346.4h0M202.8 341.5h0M203 339.5h0M203.2 345h0M203.4 347.6h0M203.7 345.8h0M203.9 331.9h0M204.1 350.7h0M204.3 333.2h0M204.5 350.2h0M204.7 352.1h0M204.9 361.4h0M205.2 336.7h0M205.4 341.7h0M205.6 343.7h0M205.8 346.9h0M206 342h0M206.2 350.5h0M206.4 342.2h0M206.7 344.7h0M206.9 342.6h0M207.1 348.6h0M207.3 347.2h0M207.5 329.7h0M207.7 348.9h0M207.9 339.1h0M208.2 339.5h0M208.4 340.6h0M208.6 343.3h0M208.8 347.9h0M209 347.8h0M209.2 336.6h0M209.4 344.1h0M209.7 350.3h0M209.9 349.6h0M210.1 345.6h0M210.3 340.7h0M210.5 347.9h0M210.7 343.3h0M210.9 337.2h0M211.2 331.1h0M211.4 347.3h0M211.6 351.1h0M211.8 355.2h0M212 351.8h0M212.2 347.1h0M212.4 344h0M212.7 345.7h0M212.9 348.2h0M213.1 338.3h0M213.3 345.3h0M213.5 342.6h0M213.7 348.3h0M213.9 350.1h0M214.2 333h0M214.4 335.9h0M214.6 344.3h0M214.8 347.3h0M215 339.8h0M215.2 344.9h0M215.4 348.2h0M215.7 341.4h0M215.9 340.9h0M216.1 346.1h0M216.3 350.6h0M216.5 341.1h0M216.7 347.2h0M216.9 345.5h0M217.1 339.3h0M217.4 354.3h0M217.6 339.1h0M217.8 345.1h0M218 347.4h0M218.2 342.6h0M218.4 334.5h0M218.6 344.5h0M218.9 343.4h0M219.1 341.9h0M219.3 350.1h0M219.5 339.6h0M219.7 342.3h0M219.9 344.8h0M220.1 352h0M220.4 338.2h0M220.6 345.2h0M220.8 334.1h0M221 340.3h0M221.2 342.4h0M221.4 336.9h0M221.6 346.9h0M221.9 345.3h0M222.1 339.8h0M222.3 344.5h0M222.5 340.1h0M222.7 342.4h0M222.9 342.7h0M223.1 351.3h0M223.4 339.1h0M223.6 346.9h0M223.8 350.2h0M224 344.5h0M224.2 347.3h0M224.4 355h0M224.6 338.3h0M224.9 338.1h0M225.1 347.3h0M225.3 344.4h0M225.5 352.3h0M225.7 341.9h0M225.9 344.7h0M226.1 347.7h0M226.4 332.8h0M226.6 351.9h0M226.8 344.6h0M227 339.5h0M227.2 341.1h0M227.4 341.6h0M227.6 351.5h0M227.9 339.6h0M228.1 351.5h0M228.3 341.2h0M228.5 346.7h0M228.7 342.4h0M228.9 344.2h0M229.1 349.6h0M229.4 343.9h0M229.6 341.2h0M229.8 349.6h0M230 355.3h0M230.2 343.3h0M230.4 343h0M230.6 341.4h0M230.9 337.1h0M231.1 340.3h0M231.3 346.3h0M231.5 340.9h0M231.7 346h0M231.9 345.3h0M232.1 347.6h0M232.4 352.3h0M232.6 343.9h0M232.8 336.8h0M233 345.4h0M233.2 347.2h0M233.4 353.7h0M233.6 344.4h0M233.9 340.5h0M234.1 339.2h0M234.3 347.3h0M234.5 342.9h0M234.7 349.5h0M234.9 351.3h0M235.1 344.2h0M235.4 347.2h0M235.6 344.4h0M235.8 347.4h0M236 336.8h0M236.2 339.5h0M236.4 352.8h0M236.6 336.1h0M236.9 338.5h0M237.1 347h0M237.3 338.9h0M237.5 341.7h0M237.7 339.2h0M237.9 352h0M238.1 343.4h0M238.4 352.7h0M238.6 345.3h0M238.8 335.3h0M239 344.8h0M239.2 334.2h0M239.4 349.2h0M239.6 332.2h0M239.9 349.7h0M240.1 347h0M240.3 352.1h0M240.5 346.4h0M240.7 345.5h0M240.9 342h0M241.1 340.7h0M241.4 340.1h0M241.6 342.3h0M241.8 342.8h0M242 356.7h0M242.2 346.3h0M242.4 339.2h0M242.6 351.3h0M242.9 344.5h0M243.1 340.2h0M243.3 344.6h0M243.5 340.4h0M243.7 346.9h0M243.9 342.3h0M244.1 349.7h0M244.4 337.4h0M244.6 345.2h0M244.8 336.9h0M245 353.9h0M245.2 337.7h0M245.4 354.7h0M245.6 342.7h0M245.9 349.6h0M246.1 339.6h0M246.3 342.3h0M246.5 351.6h0M246.7 336.8h0M246.9 347.2h0M247.1 335.3h0M247.4 355.4h0M247.6 349.8h0M247.8 334.1h0M248 342.1h0M248.2 349.8h0M248.4 356.3h0M248.6 343.6h0M248.9 333.9h0M249.1 350.8h0M249.3 339.7h0M249.5 343.9h0M249.7 341.3h0M249.9 336.2h0M250.1 346.7h0M250.4 352.3h0M250.6 344.5h0M250.8 343.9h0M251 340.4h0M251.2 345.7h0M251.4 337.7h0M251.6 337.2h0M251.8 335.9h0M252.1 335.5h0M252.3 345h0M252.5 335.1h0M252.7 353.7h0M252.9 342.7h0M253.1 340.8h0M253.3 341.9h0M253.6 351.9h0M253.8 330.6h0M254 343.4h0M254.2 353.1h0M254.4 349.3h0M254.6 345.2h0M254.8 341.2h0M255.1 365.7h0M255.3 335.3h0M255.5 354h0M255.7 338.2h0M255.9 334.8h0M256.1 343.5h0M256.3 341h0M256.6 330h0M256.8 343.2h0M257 356.9h0M257.2 342.6h0M257.4 345.8h0M257.6 343.3h0M257.8 343.3h0M258.1 344.8h0M258.3 344.3h0M258.5 343.5h0M258.7 345.5h0M258.9 345.8h0M259.1 344.3h0M259.3 335.1h0M259.6 338.7h0M259.8 337h0M260 342h0M260.2 351.8h0M260.4 344.9h0M260.6 341h0M260.8 354.5h0M261.1 347.9h0M261.3 339.7h0M261.5 346.1h0M261.7 349.2h0M261.9 348.9h0M262.1 340.3h0M262.3 344.9h0M262.6 340h0M262.8 336.2h0M263 346.5h0M263.2 332.7h0M263.4 342.8h0M263.6 348.9h0M263.8 347.1h0M264.1 343.5h0M264.3 345.9h0M264.5 360h0M264.7 351.1h0M264.9 346.2h0M265.1 348h0M265.3 340.2h0M265.6 343.2h0M265.8 343.9h0M266 349.7h0M266.2 348.7h0M266.4 344.8h0M266.6 348.9h0M266.8 344.7h0M267.1 343.3h0M267.3 347.5h0M267.5 345.9h0M267.7 357.1h0M267.9 337.5h0M268.1 349.8h0M268.3 339.4h0M268.6 348.8h0M268.8 339.1h0M269 335.2h0M269.2 353.1h0M269.4 343.6h0M269.6 353.5h0M269.8 340.6h0M270.1 340.1h0M270.3 351.3h0M270.5 341.2h0M270.7 344.8h0M270.9 339.7h0M271.1 343.2h0M271.3 332.5h0M271.6 342.4h0M271.8 343.7h0M272 349.5h0M272.2 349.8h0M272.4 343.9h0M272.6 345h0M272.8 344.2h0M273.1 356.2h0M273.3 340.7h0M273.5 349.1h0M273.7 345.2h0M273.9 337.7h0M274.1 347.7h0M274.3 351h0M274.6 346.4h0M274.8 338.4h0M275 347.9h0M275.2 348.2h0M275.4 342.3h0M275.6 349.6h0M275.8 335.9h0M276.1 338h0M276.3 342.8h0M276.5 344.6h0M276.7 349.6h0M276.9 349.9h0M277.1 340.6h0M277.3 350.3h0M277.6 345.9h0M277.8 349.3h0M278 344.1h0M278.2 343.3h0M278.4 340.2h0M278.6 334.1h0M278.8 340.4h0M279.1 336.8h0M279.3 345.6h0M279.5 345.3h0M279.7 346.6h0M279.9 346.4h0M280.1 347.3h0M280.3 341.7h0M280.6 342.7h0M280.8 346.9h0M281 352.5h0M281.2 334.9h0M281.4 338.5h0M281.6 343h0M281.8 338.8h0M282.1 341.3h0M282.3 344.4h0M282.5 340h0M282.7 349.1h0M282.9 348.1h0M283.1 348.4h0M283.3 342.2h0M283.6 348.5h0M283.8 328.2h0M284 348.8h0M284.2 339.3h0M284.4 356.1h0M284.6 340.7h0M284.8 346.3h0M285.1 336.4h0M285.3 338.1h0M285.5 345.6h0M285.7 346.7h0M285.9 352.9h0M286.1 349.2h0M286.3 351.5h0M286.5 355.3h0M286.8 331.2h0M287 352.7h0M287.2 340.3h0M287.4 346.4h0M287.6 344.1h0M287.8 349.6h0M288 349.3h0M288.3 347.8h0M288.5 342.3h0M288.7 334.6h0M288.9 345.1h0M289.1 344.6h0M289.3 345h0M289.5 347.9h0M289.8 355.3h0M290 350.8h0M290.2 347.2h0M290.4 341.9h0M290.6 338.1h0M290.8 353h0M291 348.6h0M291.3 345.1h0M291.5 336.4h0M291.7 342.9h0M291.9 348.3h0M292.1 347.2h0M292.3 342.5h0M292.5 345.9h0M292.8 343.5h0M293 342.7h0M293.2 352.4h0M293.4 348.9h0M293.6 346.6h0M293.8 342.4h0M294 352.3h0M294.3 337.5h0M294.5 346.2h0M294.7 338.9h0M294.9 333.2h0M295.1 342.1h0M295.3 333.3h0M295.5 342.9h0M295.8 336.8h0M296 344.4h0M296.2 341.6h0M296.4 335.8h0M296.6 341.9h0M296.8 340h0M297 352.3h0M297.3 352h0M297.5 348.5h0M297.7 349.2h0M297.9 357.5h0M298.1 345.9h0M298.3 345.4h0M298.5 353.2h0M298.8 348h0M299 339.6h0M299.2 353.2h0M299.4 345.7h0M299.6 352.5h0M299.8 353.2h0M300 342.6h0M300.3 344.9h0M300.5 347.9h0M300.7 337.8h0M300.9 339.4h0M301.1 345.5h0M301.3 344.6h0M301.5 339.6h0M301.8 344.1h0M302 346.7h0M302.2 340.7h0M302.4 340.2h0M302.6 343.6h0M302.8 338.5h0M303 339.7h0M303.3 342.2h0M303.5 333.6h0M303.7 341.1h0M303.9 345.5h0M304.1 337.3h0M304.3 350.5h0M304.5 346h0M304.8 351.6h0M305 344h0M305.2 347.8h0M305.4 343.9h0M305.6 338.4h0M305.8 347.6h0M306 340.4h0M306.3 347.4h0M306.5 338.9h0M306.7 341.4h0M306.9 342.8h0M307.1 351.2h0M307.3 342.7h0M307.5 350.6h0M307.8 347.3h0M308 352.8h0M308.2 342.3h0M308.4 349.8h0M308.6 349.6h0M308.8 348.3h0M309 346.1h0M309.3 352.4h0M309.5 337.1h0M309.7 348.8h0M309.9 341.6h0M310.1 347.5h0M310.3 349.4h0M310.5 346.6h0M310.8 343.2h0M311 339.5h0M311.2 336.6h0M311.4 340.7h0M311.6 347.1h0M311.8 336.4h0M312 358.6h0M312.3 344.2h0M312.5 340.3h0M312.7 350.2h0M312.9 350.6h0M313.1 346.8h0M313.3 340.5h0M313.5 345h0M313.8 350.9h0M314 348.8h0M314.2 335.1h0M314.4 348.9h0M314.6 354h0M314.8 340.7h0M315 334.1h0M315.3 340.3h0M315.5 345.1h0M315.7 343.5h0M315.9 343.4h0M316.1 327.7h0M316.3 340.6h0M316.5 340.4h0M316.8 343.9h0M317 350.6h0M317.2 339.9h0M317.4 350.3h0M317.6 351.7h0M317.8 349.7h0M318 341.3h0M318.3 351.5h0M318.5 341.9h0M318.7 342.9h0M318.9 335.8h0M319.1 338.8h0M319.3 339.2h0M319.5 351.7h0M319.8 346.1h0M320 345.8h0M320.2 342.2h0M320.4 341.8h0M320.6 338.7h0M320.8 342.1h0M321 351.6h0M321.2 343h0M321.5 355.3h0M321.7 347.3h0M321.9 342.2h0M322.1 351.3h0M322.3 344h0M322.5 349.8h0M322.7 341.4h0M323 352.2h0M323.2 346.5h0M323.4 345.5h0M323.6 349.5h0M323.8 341.4h0M324 332.8h0M324.2 339.7h0M324.5 349.3h0M324.7 352.8h0M324.9 336.8h0M325.1 347.1h0M325.3 338.6h0M325.5 336.8h0M325.7 334.7h0M326 353.9h0M326.2 346.5h0M326.4 342.4h0M326.6 347.1h0M326.8 335.1h0M327 346.2h0M327.2 343.5h0M327.5 342.3h0M327.7 350.1h0M327.9 344.1h0M328.1 344.2h0M328.3 341.4h0M328.5 339.5h0M328.7 343.2h0M329 352h0M329.2 332.9h0M329.4 337.8h0M329.6 340.4h0M329.8 347.2h0M330 339.9h0M330.2 346.9h0M330.5 331.8h0M330.7 337.7h0M330.9 347.4h0M331.1 330.3h0M331.3 345h0M331.5 350.9h0M331.7 347.4h0M332 347.7h0M332.2 340.8h0M332.4 340.3h0M332.6 349.2h0M332.8 345.3h0M333 353.3h0M333.2 345.9h0M333.5 344.5h0M333.7 343.8h0M333.9 351.8h0M334.1 349.3h0M334.3 341.1h0M334.5 347h0M334.7 339h0M335 348.9h0M335.2 342.5h0M335.4 351.8h0M335.6 352.2h0M335.8 348.5h0M336 335.3h0M336.2 340.9h0M336.5 345.7h0M336.7 345.5h0M336.9 346.1h0M337.1 349.8h0M337.3 340.2h0M337.5 337.2h0M337.7 336.3h0M338 350.2h0M338.2 348.9h0M338.4 341.3h0M338.6 343.6h0M338.8 351.1h0M339 342h0M339.2 347.8h0M339.5 348.4h0M339.7 345.3h0M339.9 348.5h0M340.1 350.2h0M340.3 341.7h0M340.5 334.5h0M340.7 343.1h0M341 335.5h0M341.2 334.3h0M341.4 347.7h0M341.6 338.1h0M341.8 341.2h0M342 344.6h0M342.2 338.6h0M342.5 347.2h0M342.7 354.5h0M342.9 339h0M343.1 343.6h0M343.3 329.2h0M343.5 338.7h0M343.7 353.3h0M344 343.3h0M344.2 341.1h0M344.4 346.4h0M344.6 342h0M344.8 352h0M345 343h0M345.2 340.1h0M345.5 342.1h0M345.7 329.1h0M345.9 346.2h0M346.1 346.8h0M346.3 333.3h0M346.5 328.5h0M346.7 340.4h0M347 344.9h0M347.2 352.3h0M347.4 338.7h0M347.6 339.1h0M347.8 343.3h0M348 350.9h0M348.2 338.4h0M348.5 341.4h0M348.7 339.4h0M348.9 348.8h0M349.1 352.1h0M349.3 355.4h0M349.5 353h0M349.7 348.9h0M350 340.6h0M350.2 346.6h0M350.4 351h0M350.6 347.7h0M350.8 339.1h0M351 342.4h0M351.2 341.6h0M351.5 349.5h0M351.7 345.5h0M351.9 341.7h0M352.1 347.9h0M352.3 346.4h0M352.5 340.4h0M352.7 350.1h0M353 344.6h0M353.2 343.3h0M353.4 338.6h0M353.6 344.7h0M353.8 346.9h0M354 331.4h0M354.2 340h0M354.5 342.2h0M354.7 346.8h0M354.9 336.7h0M355.1 355h0M355.3 342.3h0M355.5 338.8h0M355.7 342.9h0M355.9 348.6h0M356.2 343.6h0M356.4 339.7h0M356.6 345.1h0M356.8 345.5h0M357 344.5h0M357.2 338.3h0M357.4 345.6h0M357.7 366.5h0M357.9 342.7h0M358.1 345h0M358.3 332h0M358.5 343.9h0M358.7 345.6h0M358.9 341.3h0M359.2 342.8h0M359.4 338h0M359.6 348.3h0M359.8 343.8h0M360 336.9h0M360.2 341.7h0M360.4 345.3h0M360.7 344.8h0M360.9 357.8h0M361.1 343.1h0M361.3 344.3h0M361.5 338.8h0M361.7 346.9h0M361.9 338.9h0M362.2 346.4h0M362.4 339.9h0M362.6 339h0M362.8 339.1h0M363 355h0M363.2 337.3h0M363.4 349.6h0M363.7 344.1h0M363.9 332h0M364.1 342.2h0M364.3 339.6h0M364.5 345.9h0M364.7 350.4h0M364.9 355.2h0M365.2 340.9h0M365.4 340.8h0M365.6 340.2h0M365.8 344h0M366 339.6h0M366.2 354h0M366.4 343.6h0M366.7 342.8h0M366.9 327.1h0M367.1 345.1h0M367.3 338.4h0M367.5 357.5h0M367.7 347.7h0M367.9 342.1h0M368.2 347.2h0M368.4 355.1h0M368.6 346.3h0M368.8 348.6h0M369 335.3h0M369.2 339.7h0M369.4 337.1h0M369.7 346.5h0M369.9 335.7h0M370.1 334.2h0M370.3 336.9h0M370.5 343h0M370.7 347.2h0M370.9 352.9h0M371.2 351.1h0M371.4 344.7h0M371.6 345.1h0M371.8 333.5h0M372 350.7h0M372.2 339.2h0M372.4 341.6h0M372.7 343.6h0M372.9 338.2h0M373.1 342.4h0M373.3 349.2h0M373.5 351.7h0M373.7 354.7h0M373.9 348.9h0M374.2 341h0M374.4 346.6h0M374.6 338.1h0M374.8 330.2h0M375 346.7h0M375.2 341.1h0M375.4 341h0M375.7 337.6h0M375.9 354.5h0M376.1 344.2h0M376.3 351.1h0M376.5 352.5h0M376.7 345.3h0M376.9 347.4h0M377.2 352.3h0M377.4 333h0M377.6 342.1h0M377.8 340h0M378 346.2h0M378.2 340.5h0M378.4 343.8h0M378.7 340.2h0M378.9 338.5h0M379.1 346h0M379.3 349.4h0M379.5 345.3h0M379.7 335.7h0M379.9 339h0M380.2 347.8h0M380.4 341.3h0M380.6 348h0M380.8 343.9h0M381 351.9h0M381.2 337.9h0M381.4 344.8h0M381.7 348.5h0M381.9 346.5h0M382.1 336.2h0M382.3 338.9h0M382.5 341.1h0M382.7 337h0M382.9 340.7h0M383.2 340.5h0M383.4 341.3h0M383.6 341.3h0M383.8 339h0M384 348h0M384.2 349.4h0M384.4 342.8h0M384.7 351h0M384.9 350.6h0M385.1 341.7h0M385.3 353.8h0M385.5 352.3h0M385.7 349h0M385.9 342h0M386.2 346h0M386.4 341h0M386.6 348.4h0M386.8 342.5h0M387 337.5h0M387.2 337.5h0M387.4 340.7h0M387.7 338.6h0M387.9 346.7h0M388.1 348.3h0M388.3 344.8h0M388.5 341.8h0M388.7 342.5h0M388.9 340.9h0M389.2 339.1h0M389.4 346.6h0M389.6 347.8h0M389.8 346.9h0M390 338.1h0M390.2 336.8h0M390.4 345.6h0M390.6 359.4h0M390.9 344.1h0M391.1 339.2h0M391.3 352.1h0M391.5 344.1h0M391.7 341.9h0M391.9 337.1h0M392.1 348h0M392.4 341.2h0M392.6 338.9h0M392.8 342h0M393 350h0M393.2 348.3h0M393.4 337.3h0M393.6 332.4h0M393.9 352.6h0M394.1 344.2h0M394.3 355.4h0M394.5 346h0M394.7 346.7h0M394.9 343.6h0M395.1 344h0M395.4 345.2h0M395.6 344.1h0M395.8 352.9h0M396 342.7h0M396.2 341.8h0M396.4 350.5h0M396.6 338.6h0M396.9 342.2h0M397.1 344.1h0M397.3 335.1h0M397.5 346.1h0M397.7 343h0M397.9 348.4h0M398.1 345.1h0M398.4 333.9h0M398.6 335.5h0M398.8 339h0M399 341.9h0M399.2 342.5h0M399.4 342h0M399.6 346.7h0M399.9 336.5h0M400.1 327.9h0M400.3 352h0M400.5 343.3h0M400.7 343.6h0M400.9 347.9h0M401.1 336.5h0M401.4 345.8h0M401.6 343.2h0M401.8 339.6h0M402 345.1h0M402.2 352.2h0M402.4 345.6h0M402.6 343.1h0M402.9 353h0M403.1 347.3h0M403.3 355.3h0M403.5 351.5h0M403.7 345.1h0M403.9 333.7h0M404.1 342.5h0M404.4 350.5h0M404.6 337.1h0M404.8 357.8h0M405 329.9h0M405.2 346.7h0M405.4 350.3h0M405.6 339h0M405.9 331.4h0M406.1 340.7h0M406.3 341.2h0M406.5 348.6h0M406.7 343.4h0M406.9 344.9h0M407.1 342.8h0M407.4 352.1h0M407.6 341h0M407.8 342.6h0M408 345.2h0M408.2 359.9h0M408.4 325.7h0M408.6 331h0M408.9 340h0M409.1 338.2h0M409.3 343h0M409.5 347.9h0M409.7 340.2h0M409.9 342.3h0M410.1 339.6h0M410.4 342.6h0M410.6 339.5h0M410.8 355.2h0M411 350.9h0M411.2 343.2h0M411.4 348h0M411.6 341.2h0M411.9 343.9h0M412.1 345h0M412.3 337.5h0M412.5 344.4h0M412.7 340.6h0M412.9 347h0M413.1 338.2h0M413.4 340.7h0M413.6 347.4h0M413.8 352.9h0M414 347.4h0M414.2 346.2h0M414.4 336.1h0M414.6 341h0M414.9 345.2h0M415.1 344h0M415.3 344.9h0M415.5 352h0M415.7 352.2h0M415.9 341.4h0M416.1 339.7h0M416.4 335.1h0M416.6 345h0M416.8 348h0M417 351.8h0M417.2 340.4h0M417.4 341.9h0M417.6 339.7h0M417.9 357.3h0M418.1 354.2h0M418.3 342.1h0M418.5 346.1h0M418.7 340.2h0M418.9 342.4h0M419.1 357.3h0M419.4 343.1h0M419.6 343.5h0M419.8 344.7h0M420 336.8h0M420.2 335.4h0M420.4 332.8h0M420.6 350.5h0M420.9 340.1h0M421.1 341.1h0M421.3 349.9h0M421.5 338.2h0M421.7 341.9h0M421.9 340h0M422.1 346.8h0M422.4 343.1h0M422.6 334.6h0M422.8 350.3h0M423 352h0M423.2 346.4h0M423.4 342.9h0M423.6 343.9h0M423.9 337.7h0M424.1 342.5h0M424.3 350.6h0M424.5 346.1h0M424.7 336.6h0M424.9 336.5h0M425.1 342.8h0M425.3 351.7h0M425.6 346.9h0M425.8 344.3h0M426 349.4h0M426.2 340.2h0M426.4 346.5h0M426.6 342.6h0M426.8 337.9h0M427.1 350h0M427.3 337h0M427.5 344.2h0M427.7 350.4h0M427.9 337.2h0M428.1 351.8h0M428.3 352.5h0M428.6 349.1h0M428.8 343.2h0M429 343.1h0M429.2 343.2h0M429.4 344.7h0M429.6 339.3h0M429.8 346.4h0M430.1 353.1h0M430.3 324.5h0M430.5 354.1h0M430.7 338.4h0M430.9 339.7h0M431.1 342.1h0M431.3 350.9h0M431.6 345.7h0M431.8 354.1h0M432 347.8h0M432.2 351.7h0M432.4 342h0M432.6 347.5h0M432.8 334.6h0M433.1 329.5h0M433.3 358.4h0M433.5 344h0M433.7 348.3h0M433.9 349.6h0M434.1 348.6h0M434.3 336.6h0M434.6 345.6h0M434.8 357.6h0M435 350.6h0M435.2 342.2h0M435.4 344.7h0M435.6 341.7h0M435.8 345.6h0M436.1 345.1h0M436.3 344.5h0M436.5 340.2h0M436.7 334.4h0M436.9 347.2h0M437.1 345.8h0M437.3 347.6h0M437.6 351.1h0M437.8 343.3h0M438 351.5h0M438.2 343.8h0M438.4 350.4h0M438.6 348.6h0M438.8 340.3h0M439.1 352.2h0M439.3 347.7h0M439.5 345.6h0M439.7 344.4h0M439.9 347.3h0M440.1 340.7h0M440.3 337.8h0M440.6 344.7h0M440.8 349.6h0M441 344.1h0M441.2 349.2h0M441.4 336.2h0M441.6 354.4h0M441.8 346.3h0M442.1 343.4h0M442.3 345.2h0M442.5 346.9h0M442.7 345.3h0M442.9 347h0M443.1 337.6h0M443.3 348.3h0M443.6 343.9h0M443.8 338.6h0M444 349.6h0M444.2 345h0M444.4 353.9h0M444.6 341.5h0M444.8 352.7h0M445.1 348.2h0M445.3 340.6h0M445.5 350.2h0M445.7 348.2h0M445.9 350.5h0M446.1 341.8h0M446.3 331.1h0M446.6 342.5h0M446.8 345.7h0M447 350.2h0M447.2 351.8h0M447.4 352.3h0M447.6 348.4h0M447.8 346h0M448.1 342.6h0M448.3 347.9h0M448.5 359.6h0M448.7 346.6h0M448.9 343.1h0M449.1 349.2h0M449.3 343h0M449.6 341.5h0M449.8 342h0M450 348.3h0M450.2 342.1h0M450.4 351.1h0M450.6 339.3h0M450.8 346.7h0M451.1 343.2h0M451.3 338.3h0M451.5 344.6h0M451.7 347.5h0M451.9 348.6h0M452.1 343.4h0M452.3 338.8h0M452.6 340.9h0M452.8 341.8h0M453 355.4h0M453.2 337.9h0M453.4 344.3h0M453.6 357.5h0M453.8 345.2h0M454.1 358.3h0M454.3 353.1h0M454.5 349.7h0M454.7 347.9h0M454.9 335.1h0M455.1 341.3h0M455.3 343.6h0M455.6 351.9h0M455.8 351.5h0M456 338.2h0M456.2 331h0M456.4 340.4h0M456.6 355.9h0M456.8 345.5h0M457.1 345.1h0M457.3 348.9h0M457.5 343.4h0M457.7 346.8h0M457.9 340.2h0M458.1 340.5h0M458.3 347.9h0M458.6 346.1h0M458.8 349h0M459 345.4h0M459.2 350.5h0M459.4 347.4h0M459.6 347h0M459.8 351.2h0M460 345.6h0M460.3 338.4h0M460.5 340.2h0M460.7 343.6h0M460.9 351h0M461.1 341.8h0M461.3 343.4h0M461.5 352.2h0M461.8 353.5h0M462 337.1h0M462.2 338.5h0M462.4 344.1h0M462.6 344.7h0M462.8 341.8h0M463 336.6h0M463.3 357.3h0M463.5 347.1h0M463.7 353.4h0M463.9 349.7h0M464.1 348.6h0M464.3 335.4h0M464.5 347.2h0M464.8 346.2h0M465 346.1h0M465.2 341h0M465.4 338.3h0M465.6 345.6h0M465.8 348.9h0M466 351h0M466.3 346.3h0M466.5 335.4h0M466.7 343.1h0M466.9 342.3h0M467.1 341.1h0M467.3 338.3h0M467.5 348.5h0M467.8 341.1h0M468 345.6h0M468.2 348.2h0M468.4 340.5h0M468.6 343.3h0M468.8 341.3h0M469 354.2h0M469.3 340.8h0M469.5 336.3h0M469.7 350.4h0M469.9 331.3h0M470.1 353.2h0M470.3 347.8h0M470.5 347.5h0M470.8 347.7h0M471 345.8h0M471.2 347.8h0M471.4 331h0M471.6 343.1h0M471.8 338.2h0M472 334h0M472.3 337.7h0M472.5 342.6h0M472.7 345.9h0M472.9 340h0M473.1 339.2h0M473.3 352.7h0M473.5 349.4h0M473.8 339.6h0M474 339.7h0M474.2 345.1h0M474.4 349.1h0M474.6 341.3h0M474.8 343.6h0M475 349.5h0M475.3 335.6h0M475.5 338.6h0M475.7 342.9h0M475.9 338.4h0M476.1 345.3h0M476.3 347.4h0M476.5 342.3h0M476.8 341.1h0M477 351.6h0M477.2 345.2h0M477.4 339.3h0M477.6 345.8h0M477.8 348.2h0M478 343.3h0M478.3 334h0M478.5 338.9h0M478.7 338.1h0M478.9 353h0M479.1 340h0M479.3 354.2h0M479.5 344.6h0M479.8 344.8h0M480 345.8h0M480.2 353.4h0M480.4 338.5h0M480.6 342.1h0M480.8 342.7h0M481 346.4h0M481.3 341.1h0M481.5 345.2h0M481.7 349.3h0M481.9 342.2h0M482.1 351.7h0M482.3 344.3h0M482.5 343.6h0M482.8 348.1h0M483 342.7h0M483.2 347h0M483.4 341.1h0M483.6 337.8h0M483.8 346.3h0M484 348.5h0M484.3 339.8h0M484.5 349.3h0M484.7 342.1h0M484.9 356.3h0M485.1 343h0M485.3 347.4h0M485.5 344.2h0M485.8 343.7h0M486 339.6h0M486.2 352.2h0M486.4 343.6h0M486.6 341.1h0M486.8 350.8h0M487 350.4h0M487.3 340.8h0M487.5 348.4h0M487.7 351h0M487.9 346h0M488.1 337.8h0M488.3 344.5h0M488.5 340.8h0M488.8 338.1h0M489 346.1h0M489.2 348.4h0M489.4 332.3h0M489.6 342.6h0M489.8 340h0M490 346.9h0M490.3 341.5h0M490.5 337.2h0M490.7 352.5h0M490.9 343.8h0M491.1 352.2h0M491.3 345.9h0M491.5 339.8h0M491.8 336.9h0M492 336.6h0M492.2 343.1h0M492.4 345.5h0M492.6 352.1h0M492.8 338h0M493 345.2h0M493.3 348.9h0M493.5 352.4h0M493.7 350.2h0M493.9 341.6h0M494.1 348.6h0M494.3 337.6h0M494.5 345.4h0M494.7 342.9h0M495 356.7h0M495.2 350.4h0M495.4 344.1h0M495.6 343.2h0M495.8 343.3h0M496 348.2h0M496.2 343.2h0M496.5 344.2h0M496.7 340h0M496.9 348.1h0M497.1 348.7h0M497.3 339.4h0M497.5 348.6h0M497.7 344.2h0M498 349.9h0M498.2 350.6h0M498.4 342.3h0M498.6 348.4h0M498.8 351.2h0M499 338.4h0M499.2 345.2h0M499.5 339.2h0M499.7 348.4h0M499.9 335.8h0M500.1 349.9h0M500.3 343.1h0M500.5 348.7h0M500.7 356.4h0M501 344.9h0M501.2 339.7h0M501.4 338.8h0M501.6 349.1h0M501.8 337.8h0M502 336.9h0M502.2 347h0M502.5 352.2h0M502.7 346.8h0M502.9 355.5h0M503.1 352h0M503.3 349.5h0M503.5 347.6h0M503.7 347.3h0M504 347.6h0M504.2 350.8h0M504.4 345.9h0M504.6 336.9h0M504.8 335.5h0M505 339.2h0M505.2 345.1h0M505.5 336.4h0M505.7 343.6h0M505.9 346.3h0M506.1 351.2h0M506.3 339.8h0M506.5 339.7h0M506.7 337.7h0M507 338.1h0M507.2 342.6h0M507.4 353h0M507.6 326.8h0M507.8 344.6h0M508 346.1h0M508.2 352.2h0M508.5 351.7h0M508.7 346.3h0M508.9 335.1h0M509.1 339.9h0M509.3 342.5h0M509.5 340.1h0M509.7 348.5h0M510 341.6h0M510.2 338.1h0M510.4 344.1h0M510.6 349h0M510.8 341.3h0M511 338.7h0M511.2 339.9h0M511.5 344.8h0M511.7 346.1h0M511.9 356h0M512.1 340.3h0M512.3 348.7h0M512.5 356.9h0M512.7 359.1h0M513 357.8h0M513.2 341.2h0M513.4 345.8h0M513.6 344.4h0M513.8 342.3h0M514 341.9h0M514.2 344.9h0M514.5 347.6h0M514.7 352.3h0M514.9 352.5h0M515.1 343.5h0M515.3 343.5h0M515.5 350.2h0M515.7 348.9h0M516 342.5h0M516.2 345.5h0M516.4 335.2h0M516.6 346.8h0M516.8 338.6h0M517 346.8h0M517.2 329.2h0M517.5 345.2h0M517.7 338.3h0M517.9 342h0M518.1 345.6h0M518.3 341.3h0M518.5 354h0M518.7 350.4h0M519 342.9h0M519.2 354.5h0M519.4 344.8h0M519.6 346.2h0M519.8 354.9h0M520 355.7h0M520.2 345.3h0M520.5 349.4h0M520.7 344.7h0M520.9 350.8h0M521.1 343.8h0M521.3 351.6h0M521.5 336.1h0M521.7 347.3h0M522 351.8h0M522.2 346.2h0M522.4 335.9h0M522.6 346.3h0M522.8 339h0M523 342.4h0M523.2 345.5h0M523.5 354.8h0M523.7 344h0M523.9 338.4h0M524.1 354.7h0M524.3 343.3h0M524.5 341.3h0M524.7 343.4h0M525 343.2h0M525.2 351.8h0M525.4 332.8h0M525.6 339.8h0M525.8 348.7h0M526 345.2h0M526.2 343.7h0M526.5 333.7h0M526.7 349.1h0M526.9 341.3h0M527.1 351.9h0M527.3 331.5h0M527.5 346.1h0M527.7 347.3h0M528 353.2h0M528.2 344.8h0M528.4 355.5h0M528.6 345.6h0M528.8 342.3h0M529 345h0M529.2 338.5h0M529.4 344.2h0M529.7 345.1h0M529.9 345.4h0M530.1 344.4h0M530.3 354.5h0M530.5 355.4h0M530.7 350.5h0M530.9 345.2h0M531.2 352.5h0M531.4 332.7h0M531.6 342.8h0M531.8 341.9h0M532 333h0M532.2 353.1h0M532.4 352.3h0M532.7 351.7h0M532.9 339.2h0M533.1 341.9h0M533.3 346.8h0M533.5 344.9h0M533.7 341.6h0M533.9 358.5h0M534.2 336.4h0M534.4 337.5h0M534.6 338.5h0M534.8 342h0M535 344.4h0M535.2 349.4h0M535.4 350h0M535.7 342.7h0M535.9 342.1h0M536.1 345.7h0M536.3 360h0M536.5 347.8h0M536.7 349h0M536.9 350.5h0M537.2 347.6h0M537.4 345.7h0M537.6 334.3h0M537.8 342.8h0M538 338.6h0M538.2 341.3h0M538.4 343.8h0M538.7 346.9h0M538.9 351.2h0M539.1 341h0M539.3 348.6h0M539.5 349.1h0M539.7 335.3h0M539.9 347.7h0M540.2 345.6h0M540.4 336h0M540.6 346.8h0M540.8 349.9h0M541 350.4h0M541.2 343.5h0M541.4 350.4h0M541.7 352.1h0M541.9 349.8h0M542.1 338.5h0M542.3 351.2h0M542.5 343.3h0M542.7 343.3h0M542.9 353.3h0M543.2 354.4h0M543.4 354.9h0M543.6 330.4h0M543.8 354h0M544 327.3h0M544.2 349.5h0M544.4 339.4h0M544.7 347.9h0M544.9 352h0M545.1 351.5h0M545.3 344.4h0M545.5 331.4h0M545.7 342.6h0M545.9 342.9h0M546.2 346h0M546.4 351.2h0M546.6 341.6h0M546.8 350.2h0M547 341.2h0M547.2 342.6h0M547.4 348.1h0M547.7 350.4h0M547.9 351.3h0M548.1 342.9h0M548.3 337.4h0M548.5 340.1h0M548.7 358.1h0M548.9 350h0M549.2 346.7h0M549.4 341.4h0M549.6 343.1h0M549.8 347.2h0M550 342.3h0M550.2 346.7h0M550.4 341.2h0M550.7 342.3h0M550.9 352h0M551.1 341.1h0M551.3 344h0M551.5 341.1h0M551.7 349.4h0M551.9 340.9h0M552.2 344.4h0M552.4 346.5h0M552.6 344.5h0M552.8 349.4h0M553 347.6h0M553.2 347.1h0M553.4 343.2h0M553.7 344.9h0M553.9 341.5h0M554.1 342.1h0M554.3 340.7h0M554.5 354.3h0M554.7 351.1h0M554.9 340h0M555.2 345.6h0M555.4 350.9h0M555.6 345.3h0M555.8 355.4h0M556 339.6h0M556.2 346.9h0M556.4 334.3h0M556.7 353h0M556.9 342.4h0M557.1 347.3h0M557.3 351.7h0M557.5 345.5h0M557.7 337.6h0M557.9 342.4h0M558.2 354h0M558.4 355h0M558.6 343.5h0M558.8 353.9h0M559 342.8h0M559.2 333.5h0M559.4 342.3h0M559.7 341.5h0M559.9 347.5h0M560.1 348h0M560.3 341.5h0M560.5 341.4h0M560.7 344.6h0M560.9 332h0M561.2 348.7h0M561.4 350.9h0M561.6 345.7h0M561.8 337.5h0M562 344.4h0M562.2 340.7h0M562.4 341.6h0M562.7 354.3h0M562.9 343.8h0M563.1 341.4h0M563.3 348.7h0M563.5 337.3h0M563.7 354.6h0M563.9 347.3h0M564.1 346.5h0M564.4 347.1h0M564.6 337.2h0M564.8 348.2h0M565 347.8h0M565.2 345.4h0M565.4 341.5h0M565.6 344.6h0M565.9 353h0M566.1 341h0M566.3 347.4h0M566.5 350h0M566.7 338.4h0M566.9 342.6h0M567.1 346.9h0M567.4 352.2h0M567.6 329.8h0M567.8 341.8h0M568 344.9h0M568.2 335.4h0M568.4 347.8h0M568.6 344.6h0M568.9 343.7h0M569.1 345.4h0M569.3 346h0M569.5 339.4h0M569.7 356.7h0M569.9 339.1h0M570.1 345.7h0M570.4 345.2h0M570.6 335.9h0M570.8 343.4h0M571 339.3h0M571.2 337.2h0M571.4 334.7h0M571.6 344.3h0M571.9 349.9h0M572.1 349h0M572.3 344h0M572.5 346.8h0M572.7 332.4h0M572.9 346.4h0M573.1 341.5h0M573.4 348.1h0M573.6 348.6h0M573.8 344.9h0M574 343.2h0M574.2 343.1h0M574.4 354.4h0M574.6 342.6h0M574.9 346.6h0M575.1 349.4h0M575.3 352.2h0M575.5 336.8h0M575.7 345.3h0M575.9 338.1h0M576.1 342.6h0M576.4 348.6h0M576.6 334.9h0M576.8 345.5h0M577 344h0M577.2 349.2h0M577.4 344.7h0M577.6 345.8h0M577.9 343.1h0M578.1 350.8h0M578.3 348.6h0M578.5 346.3h0M578.7 327.1h0M578.9 348.3h0M579.1 341.1h0M579.4 348.2h0M579.6 346.6h0M579.8 347.9h0M580 342.7h0M580.2 345.8h0M580.4 343.8h0M580.6 336.5h0M580.9 346.8h0M581.1 340.4h0M581.3 346.4h0M581.5 350h0M581.7 351.6h0M581.9 347.4h0M582.1 346.2h0M582.4 344.6h0M582.6 340.2h0M582.8 347.3h0M583 346.6h0M583.2 341.6h0M583.4 347.6h0M583.6 338.4h0M583.9 346.9h0M584.1 341.2h0M584.3 340.2h0M584.5 340.3h0M584.7 342h0M584.9 339.5h0M585.1 345.1h0M585.4 345.5h0M585.6 360.9h0M585.8 335.5h0M586 342.7h0M586.2 349.2h0M586.4 352.8h0M586.6 344.9h0M586.9 349.9h0M587.1 342.8h0M587.3 349.1h0M587.5 341.9h0M587.7 337.8h0M587.9 345.6h0M588.1 343.5h0M588.4 344.8h0M588.6 342.2h0M588.8 336.6h0M589 342.5h0M589.2 341.4h0M589.4 338h0M589.6 340h0M589.9 344h0M590.1 344.5h0M590.3 339.6h0M590.5 338.5h0M590.7 340.7h0M590.9 340.1h0M591.1 343.1h0M591.4 353.3h0M591.6 342.4h0M591.8 334.1h0M592 352.3h0M592.2 344h0M592.4 341.9h0M592.6 346.8h0M592.9 341.6h0M593.1 353.3h0M593.3 344h0M593.5 344.1h0M593.7 342.1h0M593.9 346.4h0M594.1 342.9h0M594.4 342h0M594.6 343.3h0M594.8 339.6h0M595 348.5h0M595.2 351.4h0M595.4 351.3h0M595.6 341.9h0M595.9 346.7h0M596.1 337.3h0M596.3 340.2h0M596.5 347h0M596.7 344.7h0M596.9 345.9h0M597.1 333.9h0M597.4 350.4h0M597.6 345h0M597.8 343.7h0M598 354.5h0M598.2 349.6h0M598.4 336.2h0M598.6 354.7h0M598.8 341.2h0M599.1 343.6h0M599.3 345.5h0M599.5 352.8h0M599.7 344.5h0M599.9 347.6h0M600.1 350.2h0M600.3 345.1h0M600.6 333.8h0M600.8 353.7h0M601 343.2h0M601.2 336.8h0M601.4 343h0M601.6 343.2h0M601.8 342.7h0M602.1 344.6h0M602.3 347.6h0M602.5 355.2h0M602.7 350.2h0M602.9 345.9h0M603.1 357.4h0M603.3 345.6h0M603.6 358.3h0M603.8 345.6h0M604 336h0M604.2 353h0M604.4 344.3h0M604.6 343.7h0M604.8 344.6h0M605.1 345.8h0M605.3 348.7h0M605.5 344.8h0M605.7 338.3h0M605.9 347.4h0M606.1 348.1h0M606.3 343.5h0M606.6 347.2h0M606.8 348.9h0M607 335.5h0M607.2 334.4h0M607.4 340.8h0M607.6 350.2h0M607.8 336.7h0M608.1 351.6h0M608.3 342.2h0M608.5 347.8h0M608.7 342.4h0M608.9 342h0M609.1 343.2h0M609.3 340.7h0M609.6 339.4h0M609.8 340.8h0M610 342.8h0M610.2 342.9h0M610.4 337.1h0M610.6 342.2h0M610.8 343.4h0M611.1 348.5h0M611.3 348.3h0M611.5 345.8h0M611.7 346.3h0M611.9 338.4h0M612.1 342.3h0M612.3 349.3h0M612.6 347.3h0M612.8 353.4h0M613 357h0M613.2 355.4h0M613.4 341.8h0M613.6 341.7h0M613.8 343.3h0M614.1 352.6h0M614.3 347.1h0M614.5 343.6h0M614.7 332.5h0M614.9 344.7h0M615.1 343.7h0M615.3 352.2h0M615.6 359h0M615.8 337.5h0M616 336.6h0M616.2 349.9h0M616.4 349.1h0M616.6 342h0M616.8 347.1h0M617.1 347.3h0M617.3 339.2h0M617.5 343.7h0M617.7 342.3h0M617.9 346.6h0M618.1 352.7h0M618.3 340.1h0M618.6 350.1h0M618.8 349.7h0M619 354.2h0M619.2 340.8h0M619.4 347.5h0M619.6 336.9h0M619.8 345.3h0M620.1 353.1h0M620.3 356h0M620.5 349.2h0M620.7 339.8h0M620.9 336.4h0M621.1 347.7h0M621.3 341.9h0M621.6 347.9h0M621.8 345.7h0M622 345.6h0M622.2 354.6h0M622.4 337.5h0M622.6 344.4h0M622.8 350.1h0M623.1 348.5h0M623.3 339.6h0M623.5 338.4h0M623.7 342.4h0M623.9 335.4h0M624.1 338.5h0M624.3 353.3h0M624.6 340.3h0M624.8 337.6h0M625 342.7h0M625.2 345.9h0M625.4 340.6h0M625.6 345.1h0M625.8 350.2h0M626.1 349.2h0M626.3 343h0M626.5 351.9h0M626.7 354.1h0M626.9 348.2h0M627.1 334.2h0M627.3 350.4h0M627.6 343.3h0M627.8 350.5h0M628 341.6h0M628.2 341.1h0M628.4 341.4h0M628.6 348h0M628.8 354.5h0M629.1 341.8h0M629.3 342.3h0M629.5 345.8h0M629.7 338.5h0M629.9 351.2h0M630.1 339.2h0M630.3 350.1h0M630.6 321.4h0M630.8 344.1h0M631 346h0M631.2 351.8h0M631.4 349.5h0M631.6 346.5h0M631.8 339.5h0M632.1 358.4h0M632.3 352.8h0M632.5 347.6h0M632.7 336.9h0M632.9 342.1h0M633.1 338.5h0M633.3 338.1h0M633.5 340h0M633.8 335.9h0M634 337h0M634.2 341.4h0M634.4 342.5h0M634.6 333h0M634.8 342.5h0M635 353.1h0M635.3 342.9h0M635.5 341h0M635.7 340.9h0M635.9 356.5h0M636.1 348.8h0M636.3 348.9h0M636.5 347.5h0M636.8 344.5h0M637 355.3h0M637.2 335.2h0M637.4 332.3h0M637.6 347.5h0M637.8 349.7h0M638 346h0M638.3 348.1h0M638.5 347.4h0M638.7 346.9h0M638.9 356.6h0M639.1 353.4h0M639.3 348.5h0M639.5 346.2h0M639.8 342.7h0M640 338.8h0M640.2 352.8h0M640.4 338.4h0M640.6 343.7h0M640.8 343.5h0M641 348.9h0M641.3 345.9h0M641.5 333.7h0M641.7 335.3h0M641.9 341.2h0M642.1 359.1h0M642.3 342.6h0M642.5 348.2h0M642.8 354.1h0M643 342.3h0M643.2 349.1h0M643.4 333.5h0M643.6 339.3h0M643.8 344.6h0M644 347.1h0M644.3 356.7h0M644.5 342.4h0M644.7 338.5h0M644.9 338.6h0M645.1 344.8h0M645.3 343.8h0M645.5 346.9h0M645.8 341.2h0M646 343.1h0M646.2 351.2h0M646.4 352h0M646.6 348.8h0M646.8 339.9h0M647 352.1h0M647.3 363.1h0M647.5 339.7h0M647.7 349.8h0M647.9 344.2h0M648.1 347.6h0M648.3 346.8h0M648.5 348.8h0M648.8 341.7h0M649 342.5h0M649.2 341.8h0M649.4 347h0M649.6 345.6h0M649.8 341.2h0M650 344.7h0M650.3 342.3h0M650.5 346.9h0M650.7 346.4h0M650.9 340.5h0M651.1 332.5h0M651.3 344h0M651.5 341.2h0M651.8 341.8h0M652 350.2h0M652.2 349.3h0M652.4 345.5h0M652.6 353.3h0M652.8 352.3h0M653 347.1h0M653.3 350.8h0M653.5 355.3h0M653.7 339.5h0M653.9 338.5h0M654.1 339.8h0M654.3 343.2h0M654.5 345.1h0M654.8 352.4h0M655 341.8h0M655.2 353.7h0M655.4 353.1h0M655.6 353.1h0M655.8 345.8h0M656 341.2h0M656.3 352.7h0M656.5 348.2h0M656.7 344.4h0M656.9 350.7h0M657.1 347.7h0M657.3 341.5h0M657.5 348.5h0M657.8 346.7h0M658 344.6h0M658.2 348h0M658.4 341.2h0M658.6 346h0M658.8 342.5h0M659 349.8h0M659.3 346.2h0M659.5 344.4h0M659.7 350.5h0M659.9 342.2h0M660.1 341.3h0M660.3 351.6h0M660.5 340.4h0M660.8 353.5h0M661 351.2h0M661.2 343.7h0M661.4 341.9h0M661.6 357.2h0M661.8 346.2h0M662 343.9h0M662.3 342.8h0M662.5 340.5h0M662.7 358h0M662.9 349.5h0M663.1 346.6h0M663.3 343.3h0M663.5 344h0M663.8 351.3h0M664 334.1h0M664.2 342.4h0M664.4 341.4h0M664.6 338.3h0M664.8 350.9h0M665 343.2h0M665.3 353h0M665.5 352.8h0M665.7 341h0M665.9 352.6h0M666.1 348.3h0M666.3 345.5h0M666.5 353.6h0M666.8 348.1h0M667 346h0M667.2 338.9h0M667.4 352h0M667.6 345.5h0M667.8 353.6h0M668 345.5h0M668.2 352.3h0M668.5 347.6h0M668.7 350.5h0M668.9 335.2h0M669.1 346.7h0M669.3 345.4h0M669.5 345.3h0M669.7 340.3h0M670 336h0M670.2 350.1h0M670.4 346.3h0M670.6 347.3h0M670.8 351.9h0M671 343.1h0M671.2 353.9h0M671.5 350.1h0M671.7 348h0M671.9 347.1h0M672.1 356.4h0M672.3 349.1h0M672.5 350.5h0M672.7 341.1h0M673 348.9h0M673.2 340.6h0M673.4 342.6h0M673.6 348.6h0M673.8 344.8h0M674 336.1h0M674.2 340.3h0M674.5 342.9h0M674.7 349.4h0M674.9 343.2h0M675.1 352h0M675.3 346.8h0M675.5 340.7h0M675.7 355.2h0M676 345.6h0M676.2 343.6h0M676.4 342.5h0M676.6 345.8h0M676.8 343.9h0M677 347.6h0M677.2 350.5h0M677.5 347h0M677.7 342.4h0M677.9 352h0M678.1 344.9h0M678.3 348.6h0M678.5 334h0M678.7 352.4h0M679 342.7h0M679.2 351h0M679.4 339.7h0M679.6 345.2h0M679.8 353.8h0M680 346.4h0M680.2 348h0M680.5 350.4h0M680.7 334.8h0M680.9 342.6h0M681.1 341.6h0M681.3 335h0M681.5 343.1h0M681.7 347.3h0M682 351.2h0M682.2 344.9h0M682.4 353.1h0M682.6 360.6h0M682.8 345.6h0M683 349.9h0M683.2 349.8h0M683.5 353.8h0M683.7 334.5h0M683.9 348.3h0M684.1 343.1h0M684.3 339h0M684.5 339.2h0M684.7 343.7h0M685 348.3h0M685.2 342.5h0M685.4 337.5h0M685.6 344.6h0M685.8 353.2h0M686 340.4h0M686.2 349.3h0M686.5 352.6h0M686.7 345.2h0M686.9 341.7h0M687.1 340.7h0M687.3 353h0M687.5 349.6h0M687.7 345.6h0M688 347.1h0M688.2 342.2h0M688.4 344.9h0M688.6 354.5h0M688.8 349.1h0M689 348.7h0M689.2 349.7h0M689.5 342.9h0M689.7 347.5h0M689.9 353.3h0M690.1 332.7h0M690.3 345.1h0M690.5 340.9h0M690.7 342.2h0M691 337.6h0M691.2 343.6h0M691.4 343.8h0M691.6 340.4h0M691.8 341.1h0M692 338.2h0M692.2 341.8h0M692.5 349.2h0M692.7 339.5h0M692.9 349.3h0M693.1 337.9h0M693.3 341.1h0M693.5 361.3h0M693.7 337.1h0M694 350.2h0M694.2 340.4h0M694.4 346.7h0M694.6 348h0M694.8 350.1h0M695 344.7h0M695.2 341.9h0M695.5 358.7h0M695.7 348.9h0M695.9 348.9h0M696.1 340.8h0M696.3 339.2h0M696.5 348.6h0M696.7 353.5h0M697 342.2h0M697.2 339h0M697.4 350.5h0M697.6 342.1h0M697.8 347.8h0M698 339.4h0M698.2 345.2h0M698.5 340.9h0M698.7 343.1h0M698.9 340.9h0M699.1 346.8h0M699.3 343.5h0M699.5 346.8h0M699.7 345.3h0M700 351.5h0M700.2 341.5h0M700.4 343.5h0M700.6 351.2h0M700.8 346.1h0"/>
</g>
<path fill="none" stroke="#000" stroke-width="1.1" d="M99.40 174.00v-5.00M99.40 0.75v5.00M136.96 174.00v-3.00M136.96 0.75v3.00M174.52 174.00v-3.00M174.52 0.75v3.00M212.08 174.00v-3.00M212.08 0.75v3.00M249.64 174.00v-3.00M249.64 0.75v3.00M287.20 174.00v-5.00M287.20 0.75v5.00M324.76 174.00v-3.00M324.76 0.75v3.00M362.32 174.00v-3.00M362.32 0.75v3.00M399.88 174.00v-3.00M399.88 0.75v3.00M437.44 174.00v-3.00M437.44 0.75v3.00M475.00 174.00v-5.00M475.00 0.75v5.00M512.56 174.00v-3.00M512.56 0.75v3.00M550.12 174.00v-3.00M550.12 0.75v3.00M587.68 174.00v-3.00M587.68 0.75v3.00M625.24 174.00v-3.00M625.24 0.75v3.00M662.80 174.00v-5.00M662.80 0.75v5.00M89.64 378.90v-3.00M89.64 205.70v3.00M117.40 378.90v-5.00M117.40 205.70v5.00M145.16 378.90v-3.00M145.16 205.70v3.00M172.92 378.90v-3.00M172.92 205.70v3.00M200.68 378.90v-3.00M200.68 205.70v3.00M228.44 378.90v-3.00M228.44 205.70v3.00M256.20 378.90v-5.00M256.20 205.70v5.00M283.96 378.90v-3.00M283.96 205.70v3.00M311.72 378.90v-3.00M311.72 205.70v3.00M339.48 378.90v-3.00M339.48 205.70v3.00M367.24 378.90v-3.00M367.24 205.70v3.00M395.00 378.90v-5.00M395.00 205.70v5.00M422.76 378.90v-3.00M422.76 205.70v3.00M450.52 378.90v-3.00M450.52 205.70v3.00M478.28 378.90v-3.00M478.28 205.70v3.00M506.04 378.90v-3.00M506.04 205.70v3.00M533.80 378.90v-5.00M533.80 205.70v5.00M561.56 378.90v-3.00M561.56 205.70v3.00M589.32 378.90v-3.00M589.32 205.70v3.00M617.08 378.90v-3.00M617.08 205.70v3.00M644.84 378.90v-3.00M644.84 205.70v3.00M672.60 378.90v-5.00M672.60 205.70v5.00M62.00 12.38h3.00M700.00 12.38h-3.00M62.00 23.94h3.00M700.00 23.94h-3.00M62.00 35.50h5.00M700.00 35.50h-5.00M62.00 47.06h3.00M700.00 47.06h-3.00M62.00 58.62h3.00M700.00 58.62h-3.00M62.00 70.18h3.00M700.00 70.18h-3.00M62.00 81.74h3.00M700.00 81.74h-3.00M62.00 93.30h5.00M700.00 93.30h-5.00M62.00 104.86h3.00M700.00 104.86h-3.00M62.00 116.42h3.00M700.00 116.42h-3.00M62.00 127.98h3.00M700.00 127.98h-3.00M62.00 139.54h3.00M700.00 139.54h-3.00M62.00 151.10h5.00M700.00 151.10h-5.00M62.00 162.66h3.00M700.00 162.66h-3.00M62.00 217.70h5.00M700.00 217.70h-5.00M62.00 229.85h3.00M700.00 229.85h-3.00M62.00 242.00h3.00M700.00 242.00h-3.00M62.00 254.15h3.00M700.00 254.15h-3.00M62.00 266.30h3.00M700.00 266.30h-3.00M62.00 278.45h5.00M700.00 278.45h-5.00M62.00 290.60h3.00M700.00 290.60h-3.00M62.00 302.75h3.00M700.00 302.75h-3.00M62.00 314.90h3.00M700.00 314.90h-3.00M62.00 327.05h3.00M700.00 327.05h-3.00M62.00 339.20h5.00M700.00 339.20h-5.00M62.00 351.35h3.00M700.00 351.35h-3.00M62.00 363.50h3.00M700.00 363.50h-3.00M62.00 375.65h3.00M700.00 375.65h-3.00"/>
<rect x="62.0" y="0.75" width="638.0" height="173.25" fill="none" stroke="#000" stroke-width="1.6"/>
<rect x="62.0" y="205.7" width="638.0" height="173.2" fill="none" stroke="#000" stroke-width="1.6"/>
<text x="84.00" y="188.72" font-size="13.60" fill="#000" stroke="#000" stroke-width="0.10" textLength="30.34" lengthAdjust="spacingAndGlyphs">1657</text><text x="271.75" y="188.72" font-size="13.60" fill="#000" stroke="#000" stroke-width="0.10" textLength="30.60" lengthAdjust="spacingAndGlyphs">1658</text><text x="459.50" y="188.72" font-size="13.60" fill="#000" stroke="#000" stroke-width="0.10" textLength="30.65" lengthAdjust="spacingAndGlyphs">1659</text><text x="647.25" y="188.72" font-size="13.60" fill="#000" stroke="#000" stroke-width="0.10" textLength="30.61" lengthAdjust="spacingAndGlyphs">1660</text><text x="101.80" y="393.32" font-size="13.60" fill="#000" stroke="#000" stroke-width="0.10" textLength="30.47" lengthAdjust="spacingAndGlyphs">1689</text><text x="240.55" y="393.32" font-size="13.60" fill="#000" stroke="#000" stroke-width="0.10" textLength="30.47" lengthAdjust="spacingAndGlyphs">1690</text><text x="379.55" y="393.32" font-size="13.60" fill="#000" stroke="#000" stroke-width="0.10" textLength="30.49" lengthAdjust="spacingAndGlyphs">1691</text><text x="518.30" y="393.32" font-size="13.60" fill="#000" stroke="#000" stroke-width="0.10" textLength="30.48" lengthAdjust="spacingAndGlyphs">1692</text><text x="657.05" y="393.32" font-size="13.60" fill="#000" stroke="#000" stroke-width="0.10" textLength="30.47" lengthAdjust="spacingAndGlyphs">1693</text><text x="29.35" y="39.92" font-size="13.60" fill="#000" stroke="#000" stroke-width="0.10" textLength="26.61" lengthAdjust="spacingAndGlyphs">10.0</text><text x="21.50" y="97.73" font-size="13.60" fill="#000" stroke="#000" stroke-width="0.10" textLength="34.42" lengthAdjust="spacingAndGlyphs">10.05</text><text x="29.55" y="155.63" font-size="13.60" fill="#000" stroke="#000" stroke-width="0.10" textLength="26.33" lengthAdjust="spacingAndGlyphs">10.1</text><text x="29.35" y="222.37" font-size="13.60" fill="#000" stroke="#000" stroke-width="0.10" textLength="26.39" lengthAdjust="spacingAndGlyphs">13.4</text><text x="29.20" y="282.73" font-size="13.60" fill="#000" stroke="#000" stroke-width="0.10" textLength="26.73" lengthAdjust="spacingAndGlyphs">13.5</text><text x="29.35" y="343.87" font-size="13.60" fill="#000" stroke="#000" stroke-width="0.10" textLength="26.61" lengthAdjust="spacingAndGlyphs">13.6</text><text x="330.50" y="413.38" font-size="15.60" fill="#000" stroke="#000" stroke-width="0.10" textLength="101.33" lengthAdjust="spacingAndGlyphs">BJD-2457000</text><text x="174.75" y="127.50" font-size="15.60" fill="#f00" stroke="#f00" stroke-width="0.05" textLength="119.66" lengthAdjust="spacingAndGlyphs">TIC 149160359</text><text x="173.10" y="318.90" font-size="15.60" fill="#f00" stroke="#f00" stroke-width="0.05" textLength="119.05" lengthAdjust="spacingAndGlyphs">TIC 416264037</text><text transform="translate(11.75 261.50) rotate(-90)" font-size="16.00" fill="#000" stroke="#000" stroke-width="0.10" textLength="109.03" lengthAdjust="spacingAndGlyphs">Magnitude (T)</text>
</svg>
</body></html>
